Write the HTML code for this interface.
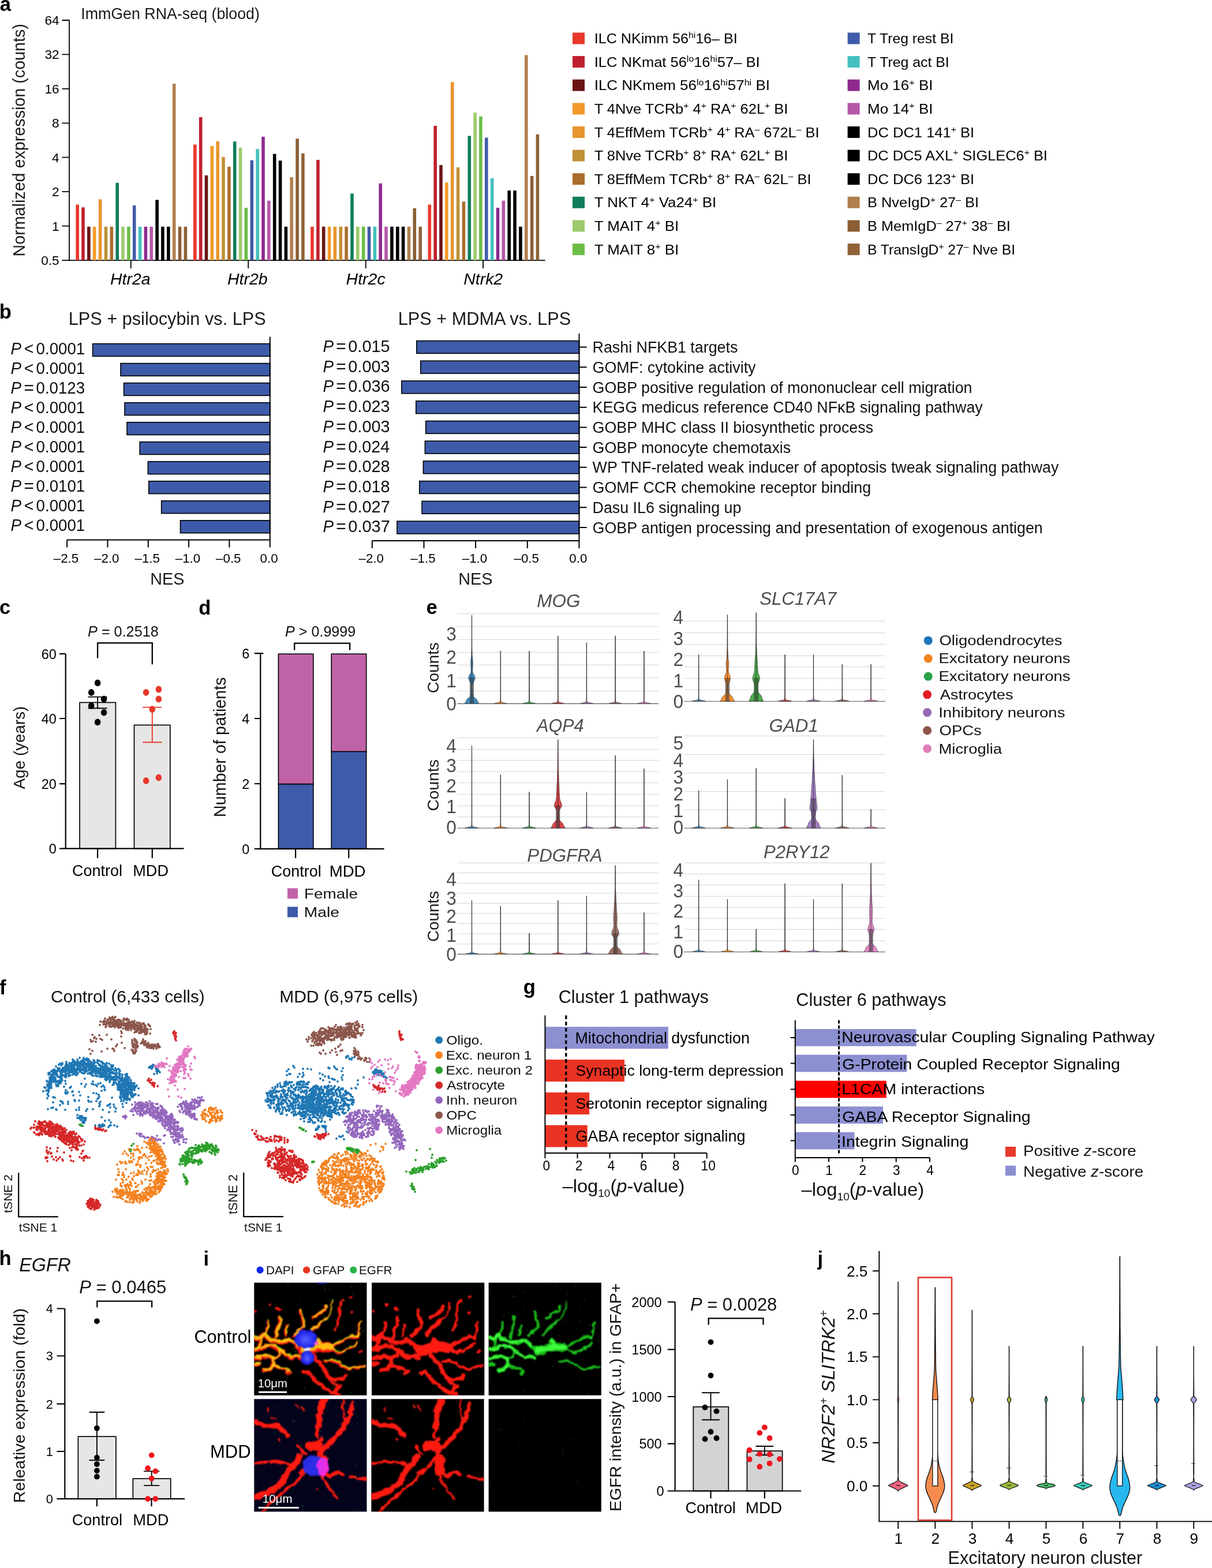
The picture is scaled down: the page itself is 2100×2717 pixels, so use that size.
<!DOCTYPE html><html><head><meta charset="utf-8"><title>Figure</title>
<style>html,body{margin:0;padding:0;background:#fff}svg{display:block}text{font-family:"Liberation Sans",Arial,Helvetica,sans-serif}</style></head><body>
<svg width="2100" height="2717" viewBox="0 0 2100 2717">
<rect width="2100" height="2717" fill="#fff"/>
<g id="pa">
<text x="-0.3" y="19.3" font-size="34.6" font-weight="bold">a</text>
<text x="140.2" y="33.2" font-size="26.8" fill="#1a1a1a">ImmGen RNA-seq (blood)</text>
<path d="M120 35V451.1H944.6M107.4 35H120M107.4 94.4H120M107.4 153.8H120M107.4 213.3H120M107.4 272.7H120M107.4 332.2H120M107.4 391.7H120M107.4 451.1H120M226.8 451.1V465.1M430.2 451.1V465.1M633.7 451.1V465.1M837 451.1V465.1" stroke="#000" stroke-width="1.8" fill="none"/>
<text x="102.6" y="43" font-size="22.6" text-anchor="end">64</text>
<text x="102.6" y="102.4" font-size="22.6" text-anchor="end">32</text>
<text x="102.6" y="161.8" font-size="22.6" text-anchor="end">16</text>
<text x="102.6" y="221.3" font-size="22.6" text-anchor="end">8</text>
<text x="102.6" y="280.7" font-size="22.6" text-anchor="end">4</text>
<text x="102.6" y="340.2" font-size="22.6" text-anchor="end">2</text>
<text x="102.6" y="399.7" font-size="22.6" text-anchor="end">1</text>
<text x="102.6" y="459.1" font-size="22.6" text-anchor="end">0.5</text>
<text transform="translate(42.7 444.5) rotate(-90)" font-size="28.7" fill="#1a1a1a">Normalized expression (counts)</text>
<text x="191.1" y="493.2" font-size="28.4" font-style="italic">Htr2a</text>
<text x="393.9" y="493.2" font-size="28.5" font-style="italic">Htr2b</text>
<text x="599.6" y="493.2" font-size="28.5" font-style="italic">Htr2c</text>
<text x="803.3" y="493.2" font-size="28.4" font-style="italic">Ntrk2</text>
<rect x="131.4" y="354.6" width="5.6" height="96.5" fill="#E8392B"/>
<rect x="141.2" y="359.3" width="5.6" height="91.8" fill="#C0202E"/>
<rect x="151.1" y="392.8" width="5.6" height="58.3" fill="#6B1414"/>
<rect x="160.9" y="392.8" width="5.6" height="58.3" fill="#F39A2B"/>
<rect x="170.8" y="345.4" width="5.6" height="105.7" fill="#E8952E"/>
<rect x="180.7" y="392.8" width="5.6" height="58.3" fill="#C09035"/>
<rect x="190.5" y="392.8" width="5.6" height="58.3" fill="#A96D2C"/>
<rect x="200.4" y="316.8" width="5.6" height="134.3" fill="#0F7D5B"/>
<rect x="210.2" y="392.8" width="5.6" height="58.3" fill="#9CCB6B"/>
<rect x="220.1" y="392.8" width="5.6" height="58.3" fill="#6BBD45"/>
<rect x="229.9" y="356" width="5.6" height="95.1" fill="#3F5BA9"/>
<rect x="239.8" y="392.8" width="5.6" height="58.3" fill="#45BFBF"/>
<rect x="249.6" y="392.8" width="5.6" height="58.3" fill="#8E2A8E"/>
<rect x="259.4" y="392.8" width="5.6" height="58.3" fill="#B757A8"/>
<rect x="269.3" y="346.4" width="5.6" height="104.7" fill="#000"/>
<rect x="279.1" y="392.8" width="5.6" height="58.3" fill="#000"/>
<rect x="289" y="392.8" width="5.6" height="58.3" fill="#000"/>
<rect x="298.9" y="145" width="5.6" height="306.1" fill="#B07F4D"/>
<rect x="308.7" y="392.8" width="5.6" height="58.3" fill="#8B5E34"/>
<rect x="318.6" y="392.8" width="5.6" height="58.3" fill="#8F6238"/>
<rect x="335" y="250.5" width="5.6" height="200.6" fill="#E8392B"/>
<rect x="344.9" y="203" width="5.6" height="248.1" fill="#C0202E"/>
<rect x="354.7" y="303.9" width="5.6" height="147.2" fill="#6B1414"/>
<rect x="364.6" y="252.8" width="5.6" height="198.3" fill="#F39A2B"/>
<rect x="374.4" y="244.8" width="5.6" height="206.3" fill="#E8952E"/>
<rect x="384.2" y="272" width="5.6" height="179.1" fill="#C09035"/>
<rect x="394.1" y="289" width="5.6" height="162.1" fill="#A96D2C"/>
<rect x="403.9" y="245.2" width="5.6" height="205.9" fill="#0F7D5B"/>
<rect x="413.8" y="255.8" width="5.6" height="195.3" fill="#9CCB6B"/>
<rect x="423.6" y="360" width="5.6" height="91.1" fill="#6BBD45"/>
<rect x="433.5" y="277.7" width="5.6" height="173.4" fill="#3F5BA9"/>
<rect x="443.4" y="258.1" width="5.6" height="193" fill="#45BFBF"/>
<rect x="453.2" y="236.9" width="5.6" height="214.2" fill="#8E2A8E"/>
<rect x="463" y="347.7" width="5.6" height="103.4" fill="#B757A8"/>
<rect x="472.9" y="266.7" width="5.6" height="184.4" fill="#000"/>
<rect x="482.8" y="278.3" width="5.6" height="172.8" fill="#000"/>
<rect x="492.6" y="392.8" width="5.6" height="58.3" fill="#000"/>
<rect x="502.4" y="306.9" width="5.6" height="144.2" fill="#B07F4D"/>
<rect x="512.3" y="240.2" width="5.6" height="210.9" fill="#8B5E34"/>
<rect x="522.1" y="265.7" width="5.6" height="185.4" fill="#8F6238"/>
<rect x="538.2" y="392.8" width="5.6" height="58.3" fill="#E8392B"/>
<rect x="548.1" y="277" width="5.6" height="174.1" fill="#C0202E"/>
<rect x="557.9" y="392.8" width="5.6" height="58.3" fill="#6B1414"/>
<rect x="567.8" y="392.8" width="5.6" height="58.3" fill="#F39A2B"/>
<rect x="577.6" y="392.8" width="5.6" height="58.3" fill="#E8952E"/>
<rect x="587.5" y="392.8" width="5.6" height="58.3" fill="#C09035"/>
<rect x="597.3" y="392.8" width="5.6" height="58.3" fill="#A96D2C"/>
<rect x="607.2" y="335.4" width="5.6" height="115.7" fill="#0F7D5B"/>
<rect x="617" y="392.8" width="5.6" height="58.3" fill="#9CCB6B"/>
<rect x="626.9" y="392.8" width="5.6" height="58.3" fill="#6BBD45"/>
<rect x="636.7" y="392.8" width="5.6" height="58.3" fill="#3F5BA9"/>
<rect x="646.6" y="392.8" width="5.6" height="58.3" fill="#45BFBF"/>
<rect x="656.4" y="317.8" width="5.6" height="133.3" fill="#8E2A8E"/>
<rect x="666.2" y="392.8" width="5.6" height="58.3" fill="#B757A8"/>
<rect x="676.1" y="392.8" width="5.6" height="58.3" fill="#000"/>
<rect x="686" y="392.8" width="5.6" height="58.3" fill="#000"/>
<rect x="695.8" y="392.8" width="5.6" height="58.3" fill="#000"/>
<rect x="705.7" y="392.8" width="5.6" height="58.3" fill="#B07F4D"/>
<rect x="715.5" y="360.9" width="5.6" height="90.2" fill="#8B5E34"/>
<rect x="725.4" y="392.8" width="5.6" height="58.3" fill="#8F6238"/>
<rect x="741.5" y="354.6" width="5.6" height="96.5" fill="#E8392B"/>
<rect x="751.4" y="218" width="5.6" height="233.1" fill="#C0202E"/>
<rect x="761.2" y="286" width="5.6" height="165.1" fill="#6B1414"/>
<rect x="771" y="316.2" width="5.6" height="134.9" fill="#F39A2B"/>
<rect x="780.9" y="142" width="5.6" height="309.1" fill="#E8952E"/>
<rect x="790.8" y="290" width="5.6" height="161.1" fill="#C09035"/>
<rect x="800.6" y="349.3" width="5.6" height="101.8" fill="#A96D2C"/>
<rect x="810.5" y="235.5" width="5.6" height="215.6" fill="#0F7D5B"/>
<rect x="820.3" y="195.1" width="5.6" height="256" fill="#9CCB6B"/>
<rect x="830.1" y="201.7" width="5.6" height="249.4" fill="#6BBD45"/>
<rect x="840" y="238.5" width="5.6" height="212.6" fill="#3F5BA9"/>
<rect x="849.9" y="308.9" width="5.6" height="142.2" fill="#45BFBF"/>
<rect x="859.7" y="360" width="5.6" height="91.1" fill="#8E2A8E"/>
<rect x="869.5" y="347.7" width="5.6" height="103.4" fill="#B757A8"/>
<rect x="879.4" y="330.1" width="5.6" height="121" fill="#000"/>
<rect x="889.2" y="330.1" width="5.6" height="121" fill="#000"/>
<rect x="899.1" y="392.8" width="5.6" height="58.3" fill="#000"/>
<rect x="909" y="95.5" width="5.6" height="355.6" fill="#B07F4D"/>
<rect x="918.8" y="304.9" width="5.6" height="146.2" fill="#8B5E34"/>
<rect x="928.6" y="232.9" width="5.6" height="218.2" fill="#8F6238"/>
<rect x="992" y="56.5" width="21" height="20" fill="#E8392B"/>
<text x="1029.7" y="75.1" font-size="24.4" textLength="248.1" lengthAdjust="spacingAndGlyphs">ILC NKimm 56<tspan font-size="15.1" dy="-8.8">hi</tspan><tspan dy="8.8">​</tspan>16– BI</text>
<rect x="1468.6" y="56.5" width="21" height="20" fill="#3F5BA9"/>
<text x="1503" y="75.1" font-size="24.4" textLength="149.3" lengthAdjust="spacingAndGlyphs">T Treg rest BI</text>
<rect x="992" y="97.1" width="21" height="20" fill="#C0202E"/>
<text x="1029.7" y="115.7" font-size="24.4" textLength="286.9" lengthAdjust="spacingAndGlyphs">ILC NKmat 56<tspan font-size="15.1" dy="-8.8">lo</tspan><tspan dy="8.8">​</tspan>16<tspan font-size="15.1" dy="-8.8">hi</tspan><tspan dy="8.8">​</tspan>57– BI</text>
<rect x="1468.6" y="97.1" width="21" height="20" fill="#45BFBF"/>
<text x="1503" y="115.7" font-size="24.4" textLength="141.7" lengthAdjust="spacingAndGlyphs">T Treg act BI</text>
<rect x="992" y="137.7" width="21" height="20" fill="#6B1414"/>
<text x="1029.7" y="156.3" font-size="24.4" textLength="304.2" lengthAdjust="spacingAndGlyphs">ILC NKmem 56<tspan font-size="15.1" dy="-8.8">lo</tspan><tspan dy="8.8">​</tspan>16<tspan font-size="15.1" dy="-8.8">hi</tspan><tspan dy="8.8">​</tspan>57<tspan font-size="15.1" dy="-8.8">hi</tspan><tspan dy="8.8">​</tspan> BI</text>
<rect x="1468.6" y="137.7" width="21" height="20" fill="#8E2A8E"/>
<text x="1503" y="156.3" font-size="24.4" textLength="113.5" lengthAdjust="spacingAndGlyphs">Mo 16<tspan font-size="15.1" dy="-8.8">+</tspan><tspan dy="8.8">​</tspan> BI</text>
<rect x="992" y="178.4" width="21" height="20" fill="#F39A2B"/>
<text x="1029.7" y="197" font-size="24.4" textLength="335.7" lengthAdjust="spacingAndGlyphs">T 4Nve TCRb<tspan font-size="15.1" dy="-8.8">+</tspan><tspan dy="8.8">​</tspan> 4<tspan font-size="15.1" dy="-8.8">+</tspan><tspan dy="8.8">​</tspan> RA<tspan font-size="15.1" dy="-8.8">+</tspan><tspan dy="8.8">​</tspan> 62L<tspan font-size="15.1" dy="-8.8">+</tspan><tspan dy="8.8">​</tspan> BI</text>
<rect x="1468.6" y="178.4" width="21" height="20" fill="#B757A8"/>
<text x="1503" y="197" font-size="24.4" textLength="113.5" lengthAdjust="spacingAndGlyphs">Mo 14<tspan font-size="15.1" dy="-8.8">+</tspan><tspan dy="8.8">​</tspan> BI</text>
<rect x="992" y="219" width="21" height="20" fill="#E8952E"/>
<text x="1029.7" y="237.6" font-size="24.4" textLength="389.8" lengthAdjust="spacingAndGlyphs">T 4EffMem TCRb<tspan font-size="15.1" dy="-8.8">+</tspan><tspan dy="8.8">​</tspan> 4<tspan font-size="15.1" dy="-8.8">+</tspan><tspan dy="8.8">​</tspan> RA<tspan font-size="15.1" dy="-8.8">–</tspan><tspan dy="8.8">​</tspan> 672L<tspan font-size="15.1" dy="-8.8">–</tspan><tspan dy="8.8">​</tspan> BI</text>
<rect x="1468.6" y="219" width="21" height="20" fill="#000"/>
<text x="1503" y="237.6" font-size="24.4" textLength="185.2" lengthAdjust="spacingAndGlyphs">DC DC1 141<tspan font-size="15.1" dy="-8.8">+</tspan><tspan dy="8.8">​</tspan> BI</text>
<rect x="992" y="259.6" width="21" height="20" fill="#C09035"/>
<text x="1029.7" y="278.2" font-size="24.4" textLength="335.7" lengthAdjust="spacingAndGlyphs">T 8Nve TCRb<tspan font-size="15.1" dy="-8.8">+</tspan><tspan dy="8.8">​</tspan> 8<tspan font-size="15.1" dy="-8.8">+</tspan><tspan dy="8.8">​</tspan> RA<tspan font-size="15.1" dy="-8.8">+</tspan><tspan dy="8.8">​</tspan> 62L<tspan font-size="15.1" dy="-8.8">+</tspan><tspan dy="8.8">​</tspan> BI</text>
<rect x="1468.6" y="259.6" width="21" height="20" fill="#000"/>
<text x="1503" y="278.2" font-size="24.4" textLength="311.9" lengthAdjust="spacingAndGlyphs">DC DC5 AXL<tspan font-size="15.1" dy="-8.8">+</tspan><tspan dy="8.8">​</tspan> SIGLEC6<tspan font-size="15.1" dy="-8.8">+</tspan><tspan dy="8.8">​</tspan> BI</text>
<rect x="992" y="300.2" width="21" height="20" fill="#A96D2C"/>
<text x="1029.7" y="318.8" font-size="24.4" textLength="375.8" lengthAdjust="spacingAndGlyphs">T 8EffMem TCRb<tspan font-size="15.1" dy="-8.8">+</tspan><tspan dy="8.8">​</tspan> 8<tspan font-size="15.1" dy="-8.8">+</tspan><tspan dy="8.8">​</tspan> RA<tspan font-size="15.1" dy="-8.8">–</tspan><tspan dy="8.8">​</tspan> 62L<tspan font-size="15.1" dy="-8.8">–</tspan><tspan dy="8.8">​</tspan> BI</text>
<rect x="1468.6" y="300.2" width="21" height="20" fill="#000"/>
<text x="1503" y="318.8" font-size="24.4" textLength="185.2" lengthAdjust="spacingAndGlyphs">DC DC6 123<tspan font-size="15.1" dy="-8.8">+</tspan><tspan dy="8.8">​</tspan> BI</text>
<rect x="992" y="340.8" width="21" height="20" fill="#0F7D5B"/>
<text x="1029.7" y="359.4" font-size="24.4" textLength="211.6" lengthAdjust="spacingAndGlyphs">T NKT 4<tspan font-size="15.1" dy="-8.8">+</tspan><tspan dy="8.8">​</tspan> Va24<tspan font-size="15.1" dy="-8.8">+</tspan><tspan dy="8.8">​</tspan> BI</text>
<rect x="1468.6" y="340.8" width="21" height="20" fill="#B07F4D"/>
<text x="1503" y="359.4" font-size="24.4" textLength="193.1" lengthAdjust="spacingAndGlyphs">B NveIgD<tspan font-size="15.1" dy="-8.8">+</tspan><tspan dy="8.8">​</tspan> 27<tspan font-size="15.1" dy="-8.8">–</tspan><tspan dy="8.8">​</tspan> BI</text>
<rect x="992" y="381.5" width="21" height="20" fill="#9CCB6B"/>
<text x="1029.7" y="400.1" font-size="24.4" textLength="146.6" lengthAdjust="spacingAndGlyphs">T MAIT 4<tspan font-size="15.1" dy="-8.8">+</tspan><tspan dy="8.8">​</tspan> BI</text>
<rect x="1468.6" y="381.5" width="21" height="20" fill="#8B5E34"/>
<text x="1503" y="400.1" font-size="24.4" textLength="247.9" lengthAdjust="spacingAndGlyphs">B MemIgD<tspan font-size="15.1" dy="-8.8">–</tspan><tspan dy="8.8">​</tspan> 27<tspan font-size="15.1" dy="-8.8">+</tspan><tspan dy="8.8">​</tspan> 38<tspan font-size="15.1" dy="-8.8">–</tspan><tspan dy="8.8">​</tspan> BI</text>
<rect x="992" y="422.1" width="21" height="20" fill="#6BBD45"/>
<text x="1029.7" y="440.7" font-size="24.4" textLength="146.6" lengthAdjust="spacingAndGlyphs">T MAIT 8<tspan font-size="15.1" dy="-8.8">+</tspan><tspan dy="8.8">​</tspan> BI</text>
<rect x="1468.6" y="422.1" width="21" height="20" fill="#8F6238"/>
<text x="1503" y="440.7" font-size="24.4" textLength="256.1" lengthAdjust="spacingAndGlyphs">B TransIgD<tspan font-size="15.1" dy="-8.8">+</tspan><tspan dy="8.8">​</tspan> 27<tspan font-size="15.1" dy="-8.8">–</tspan><tspan dy="8.8">​</tspan> Nve BI</text>
</g>
<g id="pb">
<text x="-1.2" y="551.7" font-size="34.6" font-weight="bold">b</text>
<text x="118.7" y="563" font-size="30.7" fill="#1a1a1a">LPS + psilocybin vs. LPS</text>
<rect x="160.6" y="595.6" width="307.2" height="21.8" fill="#3E5BA9" stroke="#000" stroke-width="1.6"/>
<rect x="209" y="629.6" width="258.8" height="21.8" fill="#3E5BA9" stroke="#000" stroke-width="1.6"/>
<rect x="214.6" y="663.6" width="253.2" height="21.8" fill="#3E5BA9" stroke="#000" stroke-width="1.6"/>
<rect x="216" y="697.7" width="251.8" height="21.8" fill="#3E5BA9" stroke="#000" stroke-width="1.6"/>
<rect x="220" y="731.7" width="247.8" height="21.8" fill="#3E5BA9" stroke="#000" stroke-width="1.6"/>
<rect x="242.2" y="765.7" width="225.6" height="21.8" fill="#3E5BA9" stroke="#000" stroke-width="1.6"/>
<rect x="256.4" y="799.7" width="211.4" height="21.8" fill="#3E5BA9" stroke="#000" stroke-width="1.6"/>
<rect x="257.8" y="833.7" width="210" height="21.8" fill="#3E5BA9" stroke="#000" stroke-width="1.6"/>
<rect x="279.7" y="867.8" width="188.1" height="21.8" fill="#3E5BA9" stroke="#000" stroke-width="1.6"/>
<rect x="312.5" y="901.8" width="155.3" height="21.8" fill="#3E5BA9" stroke="#000" stroke-width="1.6"/>
<path d="M467.8 583.6V935.6M116.1 935.6H467.8M116.1 935.6V948.6M186.4 935.6V948.6M256.8 935.6V948.6M327.1 935.6V948.6M397.4 935.6V948.6M467.8 935.6V948.6" stroke="#000" stroke-width="2" fill="none"/>
<text x="114.5" y="974.8" font-size="22.3" text-anchor="middle">–2.5</text>
<text x="184.8" y="974.8" font-size="22.3" text-anchor="middle">–2.0</text>
<text x="255.2" y="974.8" font-size="22.3" text-anchor="middle">–1.5</text>
<text x="325.5" y="974.8" font-size="22.3" text-anchor="middle">–1.0</text>
<text x="395.8" y="974.8" font-size="22.3" text-anchor="middle">–0.5</text>
<text x="466.1" y="974.8" font-size="22.3" text-anchor="middle">0.0</text>
<text x="260.2" y="1012.6" font-size="28.8" fill="#1a1a1a">NES</text>
<text transform="translate(18.6 613.5) scale(0.947 1)" font-size="29.5" fill="#111" font-style="italic">P</text>
<text transform="translate(41.7 613.5) scale(0.965 1)" font-size="29.5" fill="#111">&lt;</text>
<text transform="translate(62.6 613.5) scale(0.938 1)" font-size="29.5" fill="#111">0.0001</text>
<text transform="translate(18.6 647.5) scale(0.947 1)" font-size="29.5" fill="#111" font-style="italic">P</text>
<text transform="translate(41.7 647.5) scale(0.965 1)" font-size="29.5" fill="#111">&lt;</text>
<text transform="translate(62.6 647.5) scale(0.938 1)" font-size="29.5" fill="#111">0.0001</text>
<text transform="translate(18.6 681.5) scale(0.947 1)" font-size="29.5" fill="#111" font-style="italic">P</text>
<text transform="translate(41.4 681.5) scale(1.013 1)" font-size="29.5" fill="#111">=</text>
<text transform="translate(62.6 681.5) scale(0.936 1)" font-size="29.5" fill="#111">0.0123</text>
<text transform="translate(18.6 715.6) scale(0.947 1)" font-size="29.5" fill="#111" font-style="italic">P</text>
<text transform="translate(41.7 715.6) scale(0.965 1)" font-size="29.5" fill="#111">&lt;</text>
<text transform="translate(62.6 715.6) scale(0.938 1)" font-size="29.5" fill="#111">0.0001</text>
<text transform="translate(18.6 749.6) scale(0.947 1)" font-size="29.5" fill="#111" font-style="italic">P</text>
<text transform="translate(41.7 749.6) scale(0.965 1)" font-size="29.5" fill="#111">&lt;</text>
<text transform="translate(62.6 749.6) scale(0.938 1)" font-size="29.5" fill="#111">0.0001</text>
<text transform="translate(18.6 783.6) scale(0.947 1)" font-size="29.5" fill="#111" font-style="italic">P</text>
<text transform="translate(41.7 783.6) scale(0.965 1)" font-size="29.5" fill="#111">&lt;</text>
<text transform="translate(62.6 783.6) scale(0.938 1)" font-size="29.5" fill="#111">0.0001</text>
<text transform="translate(18.6 817.6) scale(0.947 1)" font-size="29.5" fill="#111" font-style="italic">P</text>
<text transform="translate(41.7 817.6) scale(0.965 1)" font-size="29.5" fill="#111">&lt;</text>
<text transform="translate(62.6 817.6) scale(0.938 1)" font-size="29.5" fill="#111">0.0001</text>
<text transform="translate(18.6 851.6) scale(0.947 1)" font-size="29.5" fill="#111" font-style="italic">P</text>
<text transform="translate(41.4 851.6) scale(1.013 1)" font-size="29.5" fill="#111">=</text>
<text transform="translate(62.6 851.6) scale(0.938 1)" font-size="29.5" fill="#111">0.0101</text>
<text transform="translate(18.6 885.7) scale(0.947 1)" font-size="29.5" fill="#111" font-style="italic">P</text>
<text transform="translate(41.7 885.7) scale(0.965 1)" font-size="29.5" fill="#111">&lt;</text>
<text transform="translate(62.6 885.7) scale(0.938 1)" font-size="29.5" fill="#111">0.0001</text>
<text transform="translate(18.6 919.7) scale(0.947 1)" font-size="29.5" fill="#111" font-style="italic">P</text>
<text transform="translate(41.7 919.7) scale(0.965 1)" font-size="29.5" fill="#111">&lt;</text>
<text transform="translate(62.6 919.7) scale(0.938 1)" font-size="29.5" fill="#111">0.0001</text>
<text x="689.8" y="563" font-size="30.7" fill="#1a1a1a">LPS + MDMA vs. LPS</text>
<rect x="721.8" y="590.6" width="281.7" height="21.8" fill="#3E5BA9" stroke="#000" stroke-width="1.6"/>
<text x="1026.6" y="611.1" font-size="26.8" fill="#111">Rashi NFKB1 targets</text>
<text transform="translate(559.4 609.9) scale(0.947 1)" font-size="29.5" fill="#111" font-style="italic">P</text>
<text transform="translate(582.2 609.9) scale(1.013 1)" font-size="29.5" fill="#111">=</text>
<text transform="translate(603.3 609.9) scale(0.979 1)" font-size="29.5" fill="#111">0.015</text>
<rect x="728.8" y="625.3" width="274.7" height="21.8" fill="#3E5BA9" stroke="#000" stroke-width="1.6"/>
<text x="1026.6" y="645.8" font-size="26.8" fill="#111">GOMF: cytokine activity</text>
<text transform="translate(559.4 644.6) scale(0.947 1)" font-size="29.5" fill="#111" font-style="italic">P</text>
<text transform="translate(582.2 644.6) scale(1.013 1)" font-size="29.5" fill="#111">=</text>
<text transform="translate(603.3 644.6) scale(0.979 1)" font-size="29.5" fill="#111">0.003</text>
<rect x="695.9" y="660" width="307.6" height="21.8" fill="#3E5BA9" stroke="#000" stroke-width="1.6"/>
<text x="1026.6" y="680.5" font-size="26.8" fill="#111">GOBP positive regulation of mononuclear cell migration</text>
<text transform="translate(559.4 679.3) scale(0.947 1)" font-size="29.5" fill="#111" font-style="italic">P</text>
<text transform="translate(582.2 679.3) scale(1.013 1)" font-size="29.5" fill="#111">=</text>
<text transform="translate(603.3 679.3) scale(0.979 1)" font-size="29.5" fill="#111">0.036</text>
<rect x="720.8" y="694.8" width="282.7" height="21.8" fill="#3E5BA9" stroke="#000" stroke-width="1.6"/>
<text x="1026.6" y="715.3" font-size="26.8" fill="#111">KEGG medicus reference CD40 NFκB signaling pathway</text>
<text transform="translate(559.4 714.1) scale(0.947 1)" font-size="29.5" fill="#111" font-style="italic">P</text>
<text transform="translate(582.2 714.1) scale(1.013 1)" font-size="29.5" fill="#111">=</text>
<text transform="translate(603.3 714.1) scale(0.979 1)" font-size="29.5" fill="#111">0.023</text>
<rect x="737.7" y="729.5" width="265.8" height="21.8" fill="#3E5BA9" stroke="#000" stroke-width="1.6"/>
<text x="1026.6" y="750" font-size="26.8" fill="#111">GOBP MHC class II biosynthetic process</text>
<text transform="translate(559.4 748.8) scale(0.947 1)" font-size="29.5" fill="#111" font-style="italic">P</text>
<text transform="translate(582.2 748.8) scale(1.013 1)" font-size="29.5" fill="#111">=</text>
<text transform="translate(603.3 748.8) scale(0.979 1)" font-size="29.5" fill="#111">0.003</text>
<rect x="736.4" y="764.2" width="267.1" height="21.8" fill="#3E5BA9" stroke="#000" stroke-width="1.6"/>
<text x="1026.6" y="784.7" font-size="26.8" fill="#111">GOBP monocyte chemotaxis</text>
<text transform="translate(559.4 783.5) scale(0.947 1)" font-size="29.5" fill="#111" font-style="italic">P</text>
<text transform="translate(582.2 783.5) scale(1.013 1)" font-size="29.5" fill="#111">=</text>
<text transform="translate(603.3 783.5) scale(0.975 1)" font-size="29.5" fill="#111">0.024</text>
<rect x="733.4" y="798.9" width="270.1" height="21.8" fill="#3E5BA9" stroke="#000" stroke-width="1.6"/>
<text x="1026.6" y="819.4" font-size="26.8" fill="#111">WP TNF-related weak inducer of apoptosis tweak signaling pathway</text>
<text transform="translate(559.4 818.2) scale(0.947 1)" font-size="29.5" fill="#111" font-style="italic">P</text>
<text transform="translate(582.2 818.2) scale(1.013 1)" font-size="29.5" fill="#111">=</text>
<text transform="translate(603.3 818.2) scale(0.979 1)" font-size="29.5" fill="#111">0.028</text>
<rect x="726.8" y="833.6" width="276.7" height="21.8" fill="#3E5BA9" stroke="#000" stroke-width="1.6"/>
<text x="1026.6" y="854.1" font-size="26.8" fill="#111">GOMF CCR chemokine receptor binding</text>
<text transform="translate(559.4 852.9) scale(0.947 1)" font-size="29.5" fill="#111" font-style="italic">P</text>
<text transform="translate(582.2 852.9) scale(1.013 1)" font-size="29.5" fill="#111">=</text>
<text transform="translate(603.3 852.9) scale(0.979 1)" font-size="29.5" fill="#111">0.018</text>
<rect x="731.1" y="868.4" width="272.4" height="21.8" fill="#3E5BA9" stroke="#000" stroke-width="1.6"/>
<text x="1026.6" y="888.9" font-size="26.8" fill="#111">Dasu IL6 signaling up</text>
<text transform="translate(559.4 887.7) scale(0.947 1)" font-size="29.5" fill="#111" font-style="italic">P</text>
<text transform="translate(582.2 887.7) scale(1.013 1)" font-size="29.5" fill="#111">=</text>
<text transform="translate(603.3 887.7) scale(0.983 1)" font-size="29.5" fill="#111">0.027</text>
<rect x="688" y="903.1" width="315.5" height="21.8" fill="#3E5BA9" stroke="#000" stroke-width="1.6"/>
<text x="1026.6" y="923.6" font-size="26.8" fill="#111">GOBP antigen processing and presentation of exogenous antigen</text>
<text transform="translate(559.4 922.4) scale(0.947 1)" font-size="29.5" fill="#111" font-style="italic">P</text>
<text transform="translate(582.2 922.4) scale(1.013 1)" font-size="29.5" fill="#111">=</text>
<text transform="translate(603.3 922.4) scale(0.983 1)" font-size="29.5" fill="#111">0.037</text>
<path d="M1003.5 578V937M644.8 937H1003.5M644.8 937V950M734.5 937V950M824.1 937V950M913.8 937V950M1003.4 937V950M1003.5 601.5H1016.7M1003.5 636.2H1016.7M1003.5 670.9H1016.7M1003.5 705.7H1016.7M1003.5 740.4H1016.7M1003.5 775.1H1016.7M1003.5 809.8H1016.7M1003.5 844.5H1016.7M1003.5 879.3H1016.7M1003.5 914H1016.7" stroke="#000" stroke-width="2" fill="none"/>
<text x="643.2" y="974.8" font-size="22.3" text-anchor="middle">–2.0</text>
<text x="732.9" y="974.8" font-size="22.3" text-anchor="middle">–1.5</text>
<text x="822.5" y="974.8" font-size="22.3" text-anchor="middle">–1.0</text>
<text x="912.2" y="974.8" font-size="22.3" text-anchor="middle">–0.5</text>
<text x="1001.8" y="974.8" font-size="22.3" text-anchor="middle">0.0</text>
<text x="794.2" y="1012.6" font-size="28.8" fill="#1a1a1a">NES</text>
</g>
<g id="pc">
<text x="-1" y="1064" font-size="34.6" font-weight="bold">c</text>
<rect x="138.1" y="1217.3" width="62.3" height="253.1" fill="#E6E6E6" stroke="#000" stroke-width="1.7"/>
<rect x="232.5" y="1256.4" width="62.3" height="214" fill="#E6E6E6" stroke="#000" stroke-width="1.7"/>
<text x="97.8" y="1141.5" font-size="23.5" text-anchor="end">60</text>
<text x="97.8" y="1253.6" font-size="23.5" text-anchor="end">40</text>
<text x="97.8" y="1366.7" font-size="23.5" text-anchor="end">20</text>
<text x="97.8" y="1479" font-size="23.5" text-anchor="end">0</text>
<path d="M113.7 1132.9V1470.4M103.1 1470.4H318.6M169.1 1470.4V1487M263.8 1470.4V1487M103.1 1132.9H113.7M103.1 1245H113.7M103.1 1358.1H113.7M103.1 1470.4H113.7" stroke="#000" stroke-width="2.2" fill="none"/>
<path d="M169.1 1207.6V1227.3M152.6 1207.6H185.6M152.6 1227.3H185.6" stroke="#000" stroke-width="1.9" fill="none"/>
<ellipse cx="169.1" cy="1183.4" rx="5.3" ry="5.9"/>
<ellipse cx="158.2" cy="1199.9" rx="5.3" ry="5.9"/>
<ellipse cx="180.1" cy="1211.3" rx="5.3" ry="5.9"/>
<ellipse cx="158.2" cy="1222.9" rx="5.3" ry="5.9"/>
<ellipse cx="180.1" cy="1234.6" rx="5.3" ry="5.9"/>
<ellipse cx="169.1" cy="1251.3" rx="5.3" ry="5.9"/>
<path d="M263.8 1225.6V1286.3M247.3 1225.6H280.3M247.3 1286.3H280.3" stroke="#E8392B" stroke-width="1.9" fill="none"/>
<ellipse cx="253.1" cy="1199.9" rx="5.3" ry="5.9" fill="#E8392B"/>
<ellipse cx="274.9" cy="1194.5" rx="5.3" ry="5.9" fill="#E8392B"/>
<ellipse cx="274.9" cy="1211.3" rx="5.3" ry="5.9" fill="#E8392B"/>
<ellipse cx="263.8" cy="1229" rx="5.3" ry="5.9" fill="#E8392B"/>
<ellipse cx="253.1" cy="1352.8" rx="5.3" ry="5.9" fill="#E8392B"/>
<ellipse cx="274.9" cy="1347.4" rx="5.3" ry="5.9" fill="#E8392B"/>
<path d="M169.1 1140.4V1114.2H263.8V1151.3" stroke="#000" stroke-width="2.3" fill="none"/>
<text transform="translate(152.1 1102.8) scale(1.000 1)" font-size="25.2" fill="#111"><tspan font-style="italic">P</tspan> = 0.2518</text>
<text x="124.9" y="1517.8" font-size="27">Control</text>
<text x="230.3" y="1517.8" font-size="27.1">MDD</text>
<text transform="translate(43.2 1367.3) rotate(-90)" font-size="27.8" fill="#111">Age (years)</text>
</g><g id="pd">
<text x="344.2" y="1064.5" font-size="34.6" font-weight="bold">d</text>
<rect x="482.4" y="1358.5" width="60.5" height="112.4" fill="#3E5BA9" stroke="#000" stroke-width="1.6"/>
<rect x="482.4" y="1133.2" width="60.5" height="225.3" fill="#C062A7" stroke="#000" stroke-width="1.6"/>
<rect x="574.2" y="1302.3" width="60.5" height="168.6" fill="#3E5BA9" stroke="#000" stroke-width="1.6"/>
<rect x="574.2" y="1133.2" width="60.5" height="169.1" fill="#C062A7" stroke="#000" stroke-width="1.6"/>
<text x="432.4" y="1140.7" font-size="23.5" text-anchor="end">6</text>
<text x="432.4" y="1253.6" font-size="23.5" text-anchor="end">4</text>
<text x="432.4" y="1366.6" font-size="23.5" text-anchor="end">2</text>
<text x="432.4" y="1479.5" font-size="23.5" text-anchor="end">0</text>
<path d="M451.3 1132.1V1470.9M451.3 1132.1h5M440.8 1470.9H665.5M512.1 1470.9V1487.1M604.2 1470.9V1487.1M440.8 1132.1H451.3M440.8 1245H451.3M440.8 1358H451.3M440.8 1470.9H451.3" stroke="#000" stroke-width="2.2" fill="none"/>
<path d="M510.2 1126.4V1114.6H606.1V1126.4" stroke="#000" stroke-width="2.3" fill="none"/>
<text transform="translate(494.1 1102.9) scale(1.000 1)" font-size="25.1" fill="#111"><tspan font-style="italic">P</tspan> &gt; 0.9999</text>
<text x="469.7" y="1519" font-size="27">Control</text>
<text x="570.7" y="1519" font-size="27.6">MDD</text>
<text transform="translate(390.5 1415.9) rotate(-90)" font-size="28.7" fill="#111">Number of patients</text>
<rect x="498" y="1539.2" width="18" height="18" fill="#C062A7"/>
<rect x="498" y="1571.3" width="18" height="18" fill="#3E5BA9"/>
<text transform="translate(526.9 1556.8) scale(1.164 1)" font-size="24" fill="#111">Female</text>
<text transform="translate(526.8 1588.7) scale(1.174 1)" font-size="24" fill="#111">Male</text>
</g>
<g id="pe">
<text x="738.6" y="1064.4" font-size="34.6" font-weight="bold">e</text>
<path d="M792.5 1063.3H1141M792.5 1085.7H1141M792.5 1108.4H1141M792.5 1130.3H1141M792.5 1152.4H1141M792.5 1174.6H1141M792.5 1197.3H1141" stroke="#C9C9C9" stroke-width="0.8" fill="none"/>
<text x="930.2" y="1051.8" font-size="31.5" fill="#4D4D4D" font-style="italic">MOG</text>
<text transform="translate(773.3 1109.9) scale(0.93 1)" font-size="34" fill="#4D4D4D">3</text>
<text transform="translate(773.3 1150.3) scale(0.93 1)" font-size="34" fill="#4D4D4D">2</text>
<text transform="translate(773.3 1190.7) scale(0.93 1)" font-size="34" fill="#4D4D4D">1</text>
<text transform="translate(773.3 1231.1) scale(0.93 1)" font-size="34" fill="#4D4D4D">0</text>
<text transform="translate(760.2 1201.3) rotate(-90)" font-size="27.9" fill="#1a1a1a">Counts</text>
<path d="M829.7 1219.4 829.3 1218 828.3 1216.5 827.3 1215.1 826.9 1213.7 825.7 1211.5 823 1209.4 820.2 1207.2 819.1 1205.1 819 1200.5 818.9 1195.9 818.8 1191.4 818.8 1186.8 819.4 1183.8 821 1180.7 822.6 1177.6 823.2 1174.6 822.6 1171.8 821 1169 819.4 1166.2 818.8 1163.4 818.9 1159.5 819.1 1155.5 819.2 1151.6 819.3 1147.7 819.1 1144.1 818.7 1140.6 818.3 1137 818.1 1133.4 818.1 1128.8 817.9 1124.3 817.8 1119.7 817.7 1115.1 817.7 1102.8 817.7 1090.5 817.6 1078.2 817.6 1065.9 817.4 1065.9 817.4 1078.2 817.3 1090.5 817.3 1102.8 817.2 1115.1 817.2 1119.7 817 1124.3 816.9 1128.8 816.8 1133.4 816.7 1137 816.2 1140.6 815.8 1144.1 815.7 1147.7 815.7 1151.6 815.9 1155.5 816.1 1159.5 816.2 1163.4 815.5 1166.2 814 1169 812.4 1171.8 811.8 1174.6 812.4 1177.6 814 1180.7 815.5 1183.8 816.2 1186.8 816.1 1191.4 816.1 1195.9 816 1200.5 815.9 1205.1 814.8 1207.2 812 1209.4 809.2 1211.5 808.1 1213.7 807.7 1215.1 806.7 1216.5 805.7 1218 805.2 1219.4Z" fill="#1F77B4" fill-opacity="0.85" stroke="#222" stroke-width="0.6" stroke-linejoin="round"/>
<rect x="814.4" y="1174.6" width="6.2" height="44.8" fill="#333" fill-opacity="0.4" stroke="#222" stroke-width="0.6"/>
<path d="M817.5 1219.4L817.5 1065.9" stroke="#222" stroke-width="0.7" fill="none"/>
<path d="M879.3 1219.4 878 1218.9 876.7 1218.4 873.1 1217.7 869.6 1217.1 868.7 1216.1 867.7 1215.2 867.7 1212.1 867.6 1209 867.5 1168.6 867.4 1128.2 867.1 1128.2 867.1 1168.6 867 1209 866.9 1212.1 866.8 1215.2 865.9 1216.1 864.9 1217.1 861.4 1217.7 857.9 1218.4 856.6 1218.9 855.3 1219.4Z" fill="#FF7F0E" fill-opacity="0.85" stroke="#222" stroke-width="0.6" stroke-linejoin="round"/>
<path d="M867.3 1219.4L867.3 1128.2" stroke="#222" stroke-width="0.7" fill="none"/>
<path d="M929.1 1219.4 927.7 1218.9 926.4 1218.4 922.9 1217.7 919.4 1217.1 918.5 1216.1 917.5 1215.2 917.5 1212.1 917.4 1209 917.3 1168.6 917.2 1128.2 916.9 1128.2 916.8 1168.6 916.7 1209 916.7 1212.1 916.6 1215.2 915.7 1216.1 914.7 1217.1 911.2 1217.7 907.7 1218.4 906.4 1218.9 905.1 1219.4Z" fill="#2CA02C" fill-opacity="0.85" stroke="#222" stroke-width="0.6" stroke-linejoin="round"/>
<path d="M917.1 1219.4L917.1 1128.2" stroke="#222" stroke-width="0.7" fill="none"/>
<path d="M978.8 1219.4 977.5 1218.9 976.2 1218.4 972.7 1217.7 969.2 1217.1 968.3 1216.1 967.3 1215.2 967.2 1212.1 967.2 1209 967.1 1155.4 967 1101.8 966.7 1101.8 966.6 1155.4 966.5 1209 966.5 1212.1 966.4 1215.2 965.4 1216.1 964.5 1217.1 961 1217.7 957.5 1218.4 956.2 1218.9 954.9 1219.4Z" fill="#D62728" fill-opacity="0.85" stroke="#222" stroke-width="0.6" stroke-linejoin="round"/>
<path d="M966.8 1219.4L966.8 1101.8" stroke="#222" stroke-width="0.7" fill="none"/>
<path d="M1028.4 1219.4 1027.1 1218.9 1025.8 1218.4 1022.2 1217.7 1018.7 1217.1 1017.8 1216.1 1016.8 1215.2 1016.8 1212.1 1016.7 1209 1016.6 1161.3 1016.5 1113.6 1016.2 1113.6 1016.2 1161.3 1016.1 1209 1016 1212.1 1015.9 1215.2 1015 1216.1 1014 1217.1 1010.5 1217.7 1007 1218.4 1005.7 1218.9 1004.4 1219.4Z" fill="#9467BD" fill-opacity="0.85" stroke="#222" stroke-width="0.6" stroke-linejoin="round"/>
<path d="M1016.4 1219.4L1016.4 1113.6" stroke="#222" stroke-width="0.7" fill="none"/>
<path d="M1078.2 1219.4 1076.8 1218.9 1075.5 1218.4 1072 1217.7 1068.5 1217.1 1067.6 1216.1 1066.6 1215.2 1066.6 1212.1 1066.5 1209 1066.4 1155.4 1066.3 1101.8 1066 1101.8 1065.9 1155.4 1065.8 1209 1065.8 1212.1 1065.7 1215.2 1064.8 1216.1 1063.8 1217.1 1060.3 1217.7 1056.8 1218.4 1055.5 1218.9 1054.2 1219.4Z" fill="#8C564B" fill-opacity="0.85" stroke="#222" stroke-width="0.6" stroke-linejoin="round"/>
<path d="M1066.2 1219.4L1066.2 1101.8" stroke="#222" stroke-width="0.7" fill="none"/>
<path d="M1127.9 1219.4 1126.6 1218.9 1125.3 1218.4 1121.8 1217.7 1118.3 1217.1 1117.4 1216.1 1116.4 1215.2 1116.3 1212.1 1116.3 1209 1116.2 1168.6 1116.1 1128.2 1115.8 1128.2 1115.7 1168.6 1115.6 1209 1115.6 1212.1 1115.5 1215.2 1114.5 1216.1 1113.6 1217.1 1110.1 1217.7 1106.6 1218.4 1105.3 1218.9 1104 1219.4Z" fill="#E377C2" fill-opacity="0.85" stroke="#222" stroke-width="0.6" stroke-linejoin="round"/>
<path d="M1115.9 1219.4L1115.9 1128.2" stroke="#222" stroke-width="0.7" fill="none"/>
<path d="M792.5 1219.4L1141 1219.4" stroke="#555" stroke-width="1.1" fill="none"/>
<path d="M1185.6 1076.3H1534.1M1185.6 1096.4H1534.1M1185.6 1116.4H1534.1M1185.6 1136.3H1534.1M1185.6 1155.5H1534.1M1185.6 1175.6H1534.1M1185.6 1195.4H1534.1" stroke="#C9C9C9" stroke-width="0.8" fill="none"/>
<text x="1316.3" y="1048.2" font-size="31.1" fill="#4D4D4D" font-style="italic">SLC17A7</text>
<text transform="translate(1166.5 1080.7) scale(0.93 1)" font-size="34" fill="#4D4D4D">4</text>
<text transform="translate(1166.5 1117.7) scale(0.93 1)" font-size="34" fill="#4D4D4D">3</text>
<text transform="translate(1166.5 1153.7) scale(0.93 1)" font-size="34" fill="#4D4D4D">2</text>
<text transform="translate(1166.5 1190.7) scale(0.93 1)" font-size="34" fill="#4D4D4D">1</text>
<text transform="translate(1166.5 1226.7) scale(0.93 1)" font-size="34" fill="#4D4D4D">0</text>
<path d="M1222.6 1215.2 1221.3 1214.7 1220 1214.2 1216.5 1213.5 1213 1212.9 1212 1212 1211.1 1211.1 1211 1207.9 1211 1204.8 1210.9 1169.5 1210.8 1134.2 1210.5 1134.2 1210.4 1169.5 1210.3 1204.8 1210.2 1207.9 1210.2 1211.1 1209.2 1212 1208.3 1212.9 1204.8 1213.5 1201.3 1214.2 1200 1214.7 1198.6 1215.2Z" fill="#1F77B4" fill-opacity="0.85" stroke="#222" stroke-width="0.6" stroke-linejoin="round"/>
<path d="M1210.6 1215.2L1210.6 1134.2" stroke="#222" stroke-width="0.7" fill="none"/>
<path d="M1272.7 1215.2 1272.3 1213.8 1271.2 1212.4 1270.2 1210.9 1269.8 1209.5 1268.7 1207.2 1266 1204.8 1263.4 1202.5 1262.3 1200.1 1262.2 1197.1 1262.1 1194 1262 1190.9 1262 1187.9 1262.5 1184.8 1263.8 1181.7 1265.1 1178.7 1265.6 1175.6 1265.1 1172.2 1263.8 1168.7 1262.5 1165.3 1262 1161.8 1262.1 1158.7 1262.4 1155.7 1262.7 1152.6 1262.8 1149.5 1262.6 1146.4 1262.1 1143.3 1261.7 1140.2 1261.5 1137 1261.4 1132.5 1261.1 1127.9 1260.9 1123.4 1260.8 1118.8 1260.8 1105.4 1260.7 1092.1 1260.6 1078.7 1260.5 1065.4 1260.3 1065.4 1260.3 1078.7 1260.2 1092.1 1260.1 1105.4 1260 1118.8 1259.9 1123.4 1259.7 1127.9 1259.5 1132.5 1259.4 1137 1259.2 1140.2 1258.7 1143.3 1258.3 1146.4 1258.1 1149.5 1258.2 1152.6 1258.5 1155.7 1258.7 1158.7 1258.9 1161.8 1258.3 1165.3 1257 1168.7 1255.7 1172.2 1255.2 1175.6 1255.7 1178.7 1257 1181.7 1258.3 1184.8 1258.9 1187.9 1258.8 1190.9 1258.7 1194 1258.6 1197.1 1258.6 1200.1 1257.5 1202.5 1254.8 1204.8 1252.1 1207.2 1251 1209.5 1250.6 1210.9 1249.6 1212.4 1248.6 1213.8 1248.2 1215.2Z" fill="#FF7F0E" fill-opacity="0.85" stroke="#222" stroke-width="0.6" stroke-linejoin="round"/>
<rect x="1257.3" y="1175.6" width="6.2" height="39.6" fill="#333" fill-opacity="0.4" stroke="#222" stroke-width="0.6"/>
<path d="M1260.4 1215.2L1260.4 1065.4" stroke="#222" stroke-width="0.7" fill="none"/>
<path d="M1322.5 1215.2 1322.1 1213.6 1321.3 1212 1320.5 1210.3 1320.1 1208.7 1319.1 1205.8 1316.7 1202.9 1314.3 1199.9 1313.3 1197 1313.3 1194.4 1313.3 1191.8 1313.3 1189.2 1313.3 1186.6 1313.8 1183.8 1314.9 1181.1 1316 1178.4 1316.5 1175.6 1316 1172.5 1314.8 1169.4 1313.6 1166.2 1313.1 1163.1 1313 1159.2 1312.7 1155.3 1312.4 1151.4 1312.3 1147.5 1312.1 1142.9 1311.8 1138.3 1311.4 1133.8 1311.3 1129.2 1311.2 1124.7 1310.9 1120.1 1310.7 1115.5 1310.6 1111 1310.6 1098.7 1310.5 1086.3 1310.4 1074 1310.3 1061.7 1310.1 1061.7 1310.1 1074 1310 1086.3 1309.9 1098.7 1309.8 1111 1309.7 1115.5 1309.5 1120.1 1309.3 1124.7 1309.2 1129.2 1309 1133.8 1308.6 1138.3 1308.3 1142.9 1308.1 1147.5 1308 1151.4 1307.7 1155.3 1307.5 1159.2 1307.3 1163.1 1306.8 1166.2 1305.7 1169.4 1304.5 1172.5 1304 1175.6 1304.4 1178.4 1305.5 1181.1 1306.6 1183.8 1307.1 1186.6 1307.1 1189.2 1307.1 1191.8 1307.1 1194.4 1307.1 1197 1306.1 1199.9 1303.7 1202.9 1301.3 1205.8 1300.3 1208.7 1300 1210.3 1299.1 1212 1298.3 1213.6 1298 1215.2Z" fill="#2CA02C" fill-opacity="0.85" stroke="#222" stroke-width="0.6" stroke-linejoin="round"/>
<rect x="1307.1" y="1175.6" width="6.2" height="39.6" fill="#333" fill-opacity="0.4" stroke="#222" stroke-width="0.6"/>
<path d="M1310.2 1215.2L1310.2 1061.7" stroke="#222" stroke-width="0.7" fill="none"/>
<path d="M1372 1215.2 1370.7 1214.7 1369.4 1214.2 1365.9 1213.5 1362.3 1212.9 1361.4 1212 1360.5 1211.1 1360.4 1207.9 1360.3 1204.8 1360.2 1169.5 1360.1 1134.2 1359.9 1134.2 1359.8 1169.5 1359.7 1204.8 1359.6 1207.9 1359.5 1211.1 1358.6 1212 1357.7 1212.9 1354.1 1213.5 1350.6 1214.2 1349.3 1214.7 1348 1215.2Z" fill="#D62728" fill-opacity="0.85" stroke="#222" stroke-width="0.6" stroke-linejoin="round"/>
<path d="M1360 1215.2L1360 1134.2" stroke="#222" stroke-width="0.7" fill="none"/>
<path d="M1421.5 1215.2 1420.2 1214.7 1418.9 1214.2 1415.4 1213.5 1411.9 1212.9 1410.9 1212 1410 1211.1 1409.9 1207.9 1409.8 1204.8 1409.7 1169.5 1409.7 1134.2 1409.4 1134.2 1409.3 1169.5 1409.2 1204.8 1409.1 1207.9 1409.1 1211.1 1408.1 1212 1407.2 1212.9 1403.7 1213.5 1400.1 1214.2 1398.8 1214.7 1397.5 1215.2Z" fill="#9467BD" fill-opacity="0.85" stroke="#222" stroke-width="0.6" stroke-linejoin="round"/>
<path d="M1409.5 1215.2L1409.5 1134.2" stroke="#222" stroke-width="0.7" fill="none"/>
<path d="M1471.3 1215.2 1470 1214.7 1468.7 1214.2 1465.2 1213.5 1461.7 1212.9 1460.7 1212 1459.8 1211.1 1459.7 1207.9 1459.6 1204.8 1459.5 1178 1459.4 1151.1 1459.2 1151.1 1459.1 1178 1459 1204.8 1458.9 1207.9 1458.8 1211.1 1457.9 1212 1457 1212.9 1453.4 1213.5 1449.9 1214.2 1448.6 1214.7 1447.3 1215.2Z" fill="#8C564B" fill-opacity="0.85" stroke="#222" stroke-width="0.6" stroke-linejoin="round"/>
<path d="M1459.3 1215.2L1459.3 1151.1" stroke="#222" stroke-width="0.7" fill="none"/>
<path d="M1521.1 1215.2 1519.8 1214.7 1518.5 1214.2 1515 1213.5 1511.4 1212.9 1510.5 1212 1509.6 1211.1 1509.5 1207.9 1509.4 1204.8 1509.3 1178 1509.2 1151.1 1509 1151.1 1508.9 1178 1508.8 1204.8 1508.7 1207.9 1508.6 1211.1 1507.7 1212 1506.8 1212.9 1503.2 1213.5 1499.7 1214.2 1498.4 1214.7 1497.1 1215.2Z" fill="#E377C2" fill-opacity="0.85" stroke="#222" stroke-width="0.6" stroke-linejoin="round"/>
<path d="M1509.1 1215.2L1509.1 1151.1" stroke="#222" stroke-width="0.7" fill="none"/>
<path d="M1185.6 1215.2L1534.1 1215.2" stroke="#555" stroke-width="1.1" fill="none"/>
<path d="M792.5 1278.6H1141M792.5 1298.4H1141M792.5 1317.4H1141M792.5 1337.2H1141M792.5 1356.5H1141M792.5 1376.3H1141M792.5 1396.4H1141M792.5 1415.4H1141" stroke="#C9C9C9" stroke-width="0.8" fill="none"/>
<text x="930" y="1268.2" font-size="30.6" fill="#4D4D4D" font-style="italic">AQP4</text>
<text transform="translate(773.3 1303.8) scale(0.93 1)" font-size="34" fill="#4D4D4D">4</text>
<text transform="translate(773.3 1337.7) scale(0.93 1)" font-size="34" fill="#4D4D4D">3</text>
<text transform="translate(773.3 1372.9) scale(0.93 1)" font-size="34" fill="#4D4D4D">2</text>
<text transform="translate(773.3 1409.4) scale(0.93 1)" font-size="34" fill="#4D4D4D">1</text>
<text transform="translate(773.3 1444.6) scale(0.93 1)" font-size="34" fill="#4D4D4D">0</text>
<text transform="translate(760.2 1405.6) rotate(-90)" font-size="28.3" fill="#1a1a1a">Counts</text>
<path d="M829.5 1435 828.2 1434.5 826.9 1433.9 823.4 1433.3 819.8 1432.6 818.9 1431.7 818 1430.8 817.9 1427.7 817.8 1424.5 817.7 1358.3 817.6 1292.1 817.4 1292.1 817.3 1358.3 817.2 1424.5 817.1 1427.7 817 1430.8 816.1 1431.7 815.1 1432.6 811.6 1433.3 808.1 1433.9 806.8 1434.5 805.5 1435Z" fill="#1F77B4" fill-opacity="0.85" stroke="#222" stroke-width="0.6" stroke-linejoin="round"/>
<path d="M817.5 1435L817.5 1292.1" stroke="#222" stroke-width="0.7" fill="none"/>
<path d="M879.3 1435 878 1434.5 876.7 1433.9 873.1 1433.3 869.6 1432.6 868.7 1431.7 867.7 1430.8 867.7 1427.7 867.6 1424.5 867.5 1383.5 867.4 1342.4 867.1 1342.4 867.1 1383.5 867 1424.5 866.9 1427.7 866.8 1430.8 865.9 1431.7 864.9 1432.6 861.4 1433.3 857.9 1433.9 856.6 1434.5 855.3 1435Z" fill="#FF7F0E" fill-opacity="0.85" stroke="#222" stroke-width="0.6" stroke-linejoin="round"/>
<path d="M867.3 1435L867.3 1342.4" stroke="#222" stroke-width="0.7" fill="none"/>
<path d="M929.1 1435 927.7 1434.5 926.4 1433.9 922.9 1433.3 919.4 1432.6 918.5 1431.7 917.5 1430.8 917.5 1427.7 917.4 1424.5 917.3 1398.4 917.2 1372.2 916.9 1372.2 916.8 1398.4 916.7 1424.5 916.7 1427.7 916.6 1430.8 915.7 1431.7 914.7 1432.6 911.2 1433.3 907.7 1433.9 906.4 1434.5 905.1 1435Z" fill="#2CA02C" fill-opacity="0.85" stroke="#222" stroke-width="0.6" stroke-linejoin="round"/>
<path d="M917.1 1435L917.1 1372.2" stroke="#222" stroke-width="0.7" fill="none"/>
<path d="M979.1 1435 978.7 1433.5 977.7 1432.1 976.7 1430.7 976.2 1429.2 975.1 1426.8 972.5 1424.3 969.8 1421.8 968.7 1419.3 968.6 1416.1 968.5 1412.8 968.5 1409.6 968.4 1406.3 969.1 1403.7 970.9 1401.1 972.6 1398.5 973.4 1395.9 972.8 1392.6 971.5 1389.4 970.3 1386.1 969.7 1382.8 969.6 1378.9 969.3 1375 969 1371.1 968.9 1367.2 968.8 1362.6 968.5 1358.1 968.3 1353.5 968.2 1349 968 1343.1 967.8 1337.2 967.5 1331.4 967.4 1325.5 967.3 1314.5 967.2 1303.6 967 1292.7 967 1281.7 966.7 1281.7 966.7 1292.7 966.5 1303.6 966.4 1314.5 966.3 1325.5 966.2 1331.4 965.9 1337.2 965.7 1343.1 965.5 1349 965.4 1353.5 965.2 1358.1 964.9 1362.6 964.8 1367.2 964.6 1371.1 964.4 1375 964.1 1378.9 964 1382.8 963.4 1386.1 962.2 1389.4 960.9 1392.6 960.3 1395.9 961.1 1398.5 962.8 1401.1 964.6 1403.7 965.3 1406.3 965.2 1409.6 965.2 1412.8 965.1 1416.1 965 1419.3 963.9 1421.8 961.2 1424.3 958.6 1426.8 957.5 1429.2 957 1430.7 956 1432.1 955 1433.5 954.6 1435Z" fill="#D62728" fill-opacity="0.85" stroke="#222" stroke-width="0.6" stroke-linejoin="round"/>
<rect x="963.7" y="1396.4" width="6.2" height="38.6" fill="#333" fill-opacity="0.4" stroke="#222" stroke-width="0.6"/>
<path d="M966.8 1435L966.8 1281.7" stroke="#222" stroke-width="0.7" fill="none"/>
<path d="M1028.4 1435 1027.1 1434.5 1025.8 1433.9 1022.2 1433.3 1018.7 1432.6 1017.8 1431.7 1016.8 1430.8 1016.8 1427.7 1016.7 1424.5 1016.6 1398.4 1016.5 1372.2 1016.2 1372.2 1016.2 1398.4 1016.1 1424.5 1016 1427.7 1015.9 1430.8 1015 1431.7 1014 1432.6 1010.5 1433.3 1007 1433.9 1005.7 1434.5 1004.4 1435Z" fill="#9467BD" fill-opacity="0.85" stroke="#222" stroke-width="0.6" stroke-linejoin="round"/>
<path d="M1016.4 1435L1016.4 1372.2" stroke="#222" stroke-width="0.7" fill="none"/>
<path d="M1078.2 1435 1076.8 1434.5 1075.5 1433.9 1072 1433.3 1068.5 1432.6 1067.6 1431.7 1066.6 1430.8 1066.6 1427.7 1066.5 1424.5 1066.4 1366.8 1066.3 1309.1 1066 1309.1 1065.9 1366.8 1065.8 1424.5 1065.8 1427.7 1065.7 1430.8 1064.8 1431.7 1063.8 1432.6 1060.3 1433.3 1056.8 1433.9 1055.5 1434.5 1054.2 1435Z" fill="#8C564B" fill-opacity="0.85" stroke="#222" stroke-width="0.6" stroke-linejoin="round"/>
<path d="M1066.2 1435L1066.2 1309.1" stroke="#222" stroke-width="0.7" fill="none"/>
<path d="M1127.9 1435 1126.6 1434.5 1125.3 1433.9 1121.8 1433.3 1118.3 1432.6 1117.4 1431.7 1116.4 1430.8 1116.3 1427.7 1116.3 1424.5 1116.2 1378.3 1116.1 1332 1115.8 1332 1115.7 1378.3 1115.6 1424.5 1115.6 1427.7 1115.5 1430.8 1114.5 1431.7 1113.6 1432.6 1110.1 1433.3 1106.6 1433.9 1105.3 1434.5 1104 1435Z" fill="#E377C2" fill-opacity="0.85" stroke="#222" stroke-width="0.6" stroke-linejoin="round"/>
<path d="M1115.9 1435L1115.9 1332" stroke="#222" stroke-width="0.7" fill="none"/>
<path d="M792.5 1435L1141 1435" stroke="#555" stroke-width="1.1" fill="none"/>
<path d="M1185.6 1275.2H1534.1M1185.6 1307.5H1534.1M1185.6 1339.3H1534.1M1185.6 1371.4H1534.1M1185.6 1403.4H1534.1" stroke="#C9C9C9" stroke-width="0.8" fill="none"/>
<text x="1332.6" y="1268.2" font-size="31.3" fill="#4D4D4D" font-style="italic">GAD1</text>
<text transform="translate(1166.5 1299.4) scale(0.93 1)" font-size="34" fill="#4D4D4D">5</text>
<text transform="translate(1166.5 1328.6) scale(0.93 1)" font-size="34" fill="#4D4D4D">4</text>
<text transform="translate(1166.5 1357.8) scale(0.93 1)" font-size="34" fill="#4D4D4D">3</text>
<text transform="translate(1166.5 1387.2) scale(0.93 1)" font-size="34" fill="#4D4D4D">2</text>
<text transform="translate(1166.5 1415.9) scale(0.93 1)" font-size="34" fill="#4D4D4D">1</text>
<text transform="translate(1166.5 1445.1) scale(0.93 1)" font-size="34" fill="#4D4D4D">0</text>
<path d="M1222.6 1435 1221.3 1434.5 1220 1433.9 1216.5 1433.3 1213 1432.6 1212 1431.7 1211.1 1430.8 1211 1427.7 1211 1424.5 1210.9 1397.2 1210.8 1369.8 1210.5 1369.8 1210.4 1397.2 1210.3 1424.5 1210.2 1427.7 1210.2 1430.8 1209.2 1431.7 1208.3 1432.6 1204.8 1433.3 1201.3 1433.9 1200 1434.5 1198.6 1435Z" fill="#1F77B4" fill-opacity="0.85" stroke="#222" stroke-width="0.6" stroke-linejoin="round"/>
<path d="M1210.6 1435L1210.6 1369.8" stroke="#222" stroke-width="0.7" fill="none"/>
<path d="M1272.4 1435 1271.1 1434.5 1269.8 1433.9 1266.3 1433.3 1262.8 1432.6 1261.8 1431.7 1260.9 1430.8 1260.8 1427.7 1260.7 1424.5 1260.6 1387.7 1260.6 1350.8 1260.3 1350.8 1260.2 1387.7 1260.1 1424.5 1260 1427.7 1260 1430.8 1259 1431.7 1258.1 1432.6 1254.6 1433.3 1251 1433.9 1249.7 1434.5 1248.4 1435Z" fill="#FF7F0E" fill-opacity="0.85" stroke="#222" stroke-width="0.6" stroke-linejoin="round"/>
<path d="M1260.4 1435L1260.4 1350.8" stroke="#222" stroke-width="0.7" fill="none"/>
<path d="M1322.2 1435 1320.9 1434.5 1319.6 1433.9 1316.1 1433.3 1312.6 1432.6 1311.6 1431.7 1310.7 1430.8 1310.6 1427.7 1310.5 1424.5 1310.4 1377.9 1310.3 1331.2 1310.1 1331.2 1310 1377.9 1309.9 1424.5 1309.8 1427.7 1309.7 1430.8 1308.8 1431.7 1307.9 1432.6 1304.3 1433.3 1300.8 1433.9 1299.5 1434.5 1298.2 1435Z" fill="#2CA02C" fill-opacity="0.85" stroke="#222" stroke-width="0.6" stroke-linejoin="round"/>
<path d="M1310.2 1435L1310.2 1331.2" stroke="#222" stroke-width="0.7" fill="none"/>
<path d="M1372 1435 1370.7 1434.5 1369.4 1433.9 1365.9 1433.3 1362.3 1432.6 1361.4 1431.7 1360.5 1430.8 1360.4 1427.7 1360.3 1424.5 1360.2 1404 1360.1 1383.4 1359.9 1383.4 1359.8 1404 1359.7 1424.5 1359.6 1427.7 1359.5 1430.8 1358.6 1431.7 1357.7 1432.6 1354.1 1433.3 1350.6 1433.9 1349.3 1434.5 1348 1435Z" fill="#D62728" fill-opacity="0.85" stroke="#222" stroke-width="0.6" stroke-linejoin="round"/>
<path d="M1360 1435L1360 1383.4" stroke="#222" stroke-width="0.7" fill="none"/>
<path d="M1421.8 1435 1421.4 1433.3 1420.3 1431.7 1419.3 1430.1 1418.9 1428.5 1418 1425.7 1415.7 1422.9 1413.3 1420.1 1412.4 1417.3 1412.5 1415.2 1412.8 1413.1 1413.1 1411 1413.2 1408.9 1413.6 1406.8 1414.6 1404.6 1415.6 1402.5 1416 1400.3 1415.8 1397.2 1415.3 1394.2 1414.7 1391.1 1414.5 1388.1 1414.2 1383.5 1413.7 1378.9 1413.1 1374.4 1412.9 1369.8 1412.7 1364.6 1412.3 1359.4 1411.8 1354.2 1411.6 1349 1411.5 1343.1 1411.1 1337.2 1410.7 1331.4 1410.6 1325.5 1410.5 1320.3 1410.2 1315.1 1410 1309.9 1409.9 1304.6 1409.9 1298.8 1409.8 1292.9 1409.7 1287 1409.6 1281.2 1409.4 1281.2 1409.4 1287 1409.3 1292.9 1409.2 1298.8 1409.1 1304.6 1409 1309.9 1408.8 1315.1 1408.6 1320.3 1408.5 1325.5 1408.3 1331.4 1408 1337.2 1407.6 1343.1 1407.4 1349 1407.2 1354.2 1406.8 1359.4 1406.3 1364.6 1406.1 1369.8 1405.9 1374.4 1405.4 1378.9 1404.8 1383.5 1404.6 1388.1 1404.3 1391.1 1403.8 1394.2 1403.2 1397.2 1403 1400.3 1403.4 1402.5 1404.4 1404.6 1405.5 1406.8 1405.9 1408.9 1406 1411 1406.3 1413.1 1406.5 1415.2 1406.7 1417.3 1405.7 1420.1 1403.4 1422.9 1401.1 1425.7 1400.1 1428.5 1399.7 1430.1 1398.7 1431.7 1397.7 1433.3 1397.3 1435Z" fill="#9467BD" fill-opacity="0.85" stroke="#222" stroke-width="0.6" stroke-linejoin="round"/>
<rect x="1406.4" y="1384.1" width="6.2" height="50.8" fill="#333" fill-opacity="0.4" stroke="#222" stroke-width="0.6"/>
<path d="M1406.4 1403.4L1412.6 1403.4" stroke="#222" stroke-width="0.6" fill="none"/>
<path d="M1409.5 1435L1409.5 1281.2" stroke="#222" stroke-width="0.7" fill="none"/>
<path d="M1471.3 1435 1470 1434.5 1468.7 1433.9 1465.2 1433.3 1461.7 1432.6 1460.7 1431.7 1459.8 1430.8 1459.7 1427.7 1459.6 1424.5 1459.5 1383.9 1459.4 1343.2 1459.2 1343.2 1459.1 1383.9 1459 1424.5 1458.9 1427.7 1458.8 1430.8 1457.9 1431.7 1457 1432.6 1453.4 1433.3 1449.9 1433.9 1448.6 1434.5 1447.3 1435Z" fill="#8C564B" fill-opacity="0.85" stroke="#222" stroke-width="0.6" stroke-linejoin="round"/>
<path d="M1459.3 1435L1459.3 1343.2" stroke="#222" stroke-width="0.7" fill="none"/>
<path d="M1521.1 1435 1519.8 1434.5 1518.5 1433.9 1515 1433.3 1511.4 1432.6 1510.5 1431.7 1509.6 1430.8 1509.5 1427.7 1509.4 1424.5 1509.3 1413.3 1509.2 1402.1 1509 1402.1 1508.9 1413.3 1508.8 1424.5 1508.7 1427.7 1508.6 1430.8 1507.7 1431.7 1506.8 1432.6 1503.2 1433.3 1499.7 1433.9 1498.4 1434.5 1497.1 1435Z" fill="#E377C2" fill-opacity="0.85" stroke="#222" stroke-width="0.6" stroke-linejoin="round"/>
<path d="M1509.1 1435L1509.1 1402.1" stroke="#222" stroke-width="0.7" fill="none"/>
<path d="M1185.6 1435L1534.1 1435" stroke="#555" stroke-width="1.1" fill="none"/>
<path d="M792.5 1495.2H1141M792.5 1512.4H1141M792.5 1530.4H1141M792.5 1547.8H1141M792.5 1565.3H1141M792.5 1582.8H1141M792.5 1600.5H1141M792.5 1618H1141M792.5 1635.7H1141" stroke="#C9C9C9" stroke-width="0.8" fill="none"/>
<text x="913.3" y="1493.4" font-size="31.3" fill="#4D4D4D" font-style="italic">PDGFRA</text>
<text transform="translate(773.3 1535) scale(0.93 1)" font-size="34" fill="#4D4D4D">4</text>
<text transform="translate(773.3 1568.1) scale(0.93 1)" font-size="34" fill="#4D4D4D">3</text>
<text transform="translate(773.3 1599.4) scale(0.93 1)" font-size="34" fill="#4D4D4D">2</text>
<text transform="translate(773.3 1632) scale(0.93 1)" font-size="34" fill="#4D4D4D">1</text>
<text transform="translate(773.3 1664.6) scale(0.93 1)" font-size="34" fill="#4D4D4D">0</text>
<text transform="translate(760.2 1632.1) rotate(-90)" font-size="27.9" fill="#1a1a1a">Counts</text>
<path d="M829.5 1653.4 828.2 1652.9 826.9 1652.4 823.4 1651.7 819.8 1651.1 818.9 1650.2 818 1649.2 817.9 1646.1 817.8 1643 817.7 1601.7 817.6 1560.4 817.4 1560.4 817.3 1601.7 817.2 1643 817.1 1646.1 817 1649.2 816.1 1650.2 815.1 1651.1 811.6 1651.7 808.1 1652.4 806.8 1652.9 805.5 1653.4Z" fill="#1F77B4" fill-opacity="0.85" stroke="#222" stroke-width="0.6" stroke-linejoin="round"/>
<path d="M817.5 1653.4L817.5 1560.4" stroke="#222" stroke-width="0.7" fill="none"/>
<path d="M879.3 1653.4 878 1652.9 876.7 1652.4 873.1 1651.7 869.6 1651.1 868.7 1650.2 867.7 1649.2 867.7 1646.1 867.6 1643 867.5 1606.5 867.4 1570 867.1 1570 867.1 1606.5 867 1643 866.9 1646.1 866.8 1649.2 865.9 1650.2 864.9 1651.1 861.4 1651.7 857.9 1652.4 856.6 1652.9 855.3 1653.4Z" fill="#FF7F0E" fill-opacity="0.85" stroke="#222" stroke-width="0.6" stroke-linejoin="round"/>
<path d="M867.3 1653.4L867.3 1570" stroke="#222" stroke-width="0.7" fill="none"/>
<path d="M929.1 1653.4 927.7 1652.9 926.4 1652.4 922.9 1651.7 919.4 1651.1 918.5 1650.2 917.5 1649.2 917.5 1646.1 917.4 1643 917.3 1630.1 917.2 1617.2 916.9 1617.2 916.8 1630.1 916.7 1643 916.7 1646.1 916.6 1649.2 915.7 1650.2 914.7 1651.1 911.2 1651.7 907.7 1652.4 906.4 1652.9 905.1 1653.4Z" fill="#2CA02C" fill-opacity="0.85" stroke="#222" stroke-width="0.6" stroke-linejoin="round"/>
<path d="M917.1 1653.4L917.1 1617.2" stroke="#222" stroke-width="0.7" fill="none"/>
<path d="M978.8 1653.4 977.5 1652.9 976.2 1652.4 972.7 1651.7 969.2 1651.1 968.3 1650.2 967.3 1649.2 967.2 1646.1 967.2 1643 967.1 1601.7 967 1560.4 966.7 1560.4 966.6 1601.7 966.5 1643 966.5 1646.1 966.4 1649.2 965.4 1650.2 964.5 1651.1 961 1651.7 957.5 1652.4 956.2 1652.9 954.9 1653.4Z" fill="#D62728" fill-opacity="0.85" stroke="#222" stroke-width="0.6" stroke-linejoin="round"/>
<path d="M966.8 1653.4L966.8 1560.4" stroke="#222" stroke-width="0.7" fill="none"/>
<path d="M1028.4 1653.4 1027.1 1652.9 1025.8 1652.4 1022.2 1651.7 1018.7 1651.1 1017.8 1650.2 1016.8 1649.2 1016.8 1646.1 1016.7 1643 1016.6 1597.6 1016.5 1552.3 1016.2 1552.3 1016.2 1597.6 1016.1 1643 1016 1646.1 1015.9 1649.2 1015 1650.2 1014 1651.1 1010.5 1651.7 1007 1652.4 1005.7 1652.9 1004.4 1653.4Z" fill="#9467BD" fill-opacity="0.85" stroke="#222" stroke-width="0.6" stroke-linejoin="round"/>
<path d="M1016.4 1653.4L1016.4 1552.3" stroke="#222" stroke-width="0.7" fill="none"/>
<path d="M1078.4 1653.4 1078 1652 1077 1650.5 1076 1649.1 1075.5 1647.7 1074.4 1645.5 1071.8 1643.2 1069.1 1641 1068 1638.8 1067.9 1635.9 1067.9 1633.1 1067.8 1630.2 1067.7 1627.3 1068.4 1625 1070.1 1622.7 1071.7 1620.3 1072.4 1618 1071.9 1614.4 1070.6 1610.9 1069.3 1607.4 1068.8 1603.9 1068.8 1600.6 1069 1597.4 1069.2 1594.1 1069.3 1590.9 1069.1 1586.9 1068.8 1583 1068.4 1579.1 1068.2 1575.2 1068.1 1570 1067.7 1564.8 1067.4 1559.6 1067.2 1554.4 1067.1 1549.8 1066.9 1545.2 1066.6 1540.7 1066.6 1536.1 1066.5 1527 1066.4 1517.9 1066.3 1508.7 1066.3 1499.6 1066.1 1499.6 1066 1508.7 1065.9 1517.9 1065.8 1527 1065.8 1536.1 1065.7 1540.7 1065.4 1545.2 1065.2 1549.8 1065.1 1554.4 1065 1559.6 1064.6 1564.8 1064.2 1570 1064.1 1575.2 1063.9 1579.1 1063.6 1583 1063.2 1586.9 1063 1590.9 1063.1 1594.1 1063.3 1597.4 1063.5 1600.6 1063.6 1603.9 1063 1607.4 1061.7 1610.9 1060.4 1614.4 1059.9 1618 1060.6 1620.3 1062.3 1622.7 1063.9 1625 1064.6 1627.3 1064.6 1630.2 1064.5 1633.1 1064.4 1635.9 1064.3 1638.8 1063.2 1641 1060.6 1643.2 1057.9 1645.5 1056.8 1647.7 1056.4 1649.1 1055.3 1650.5 1054.3 1652 1053.9 1653.4Z" fill="#8C564B" fill-opacity="0.85" stroke="#222" stroke-width="0.6" stroke-linejoin="round"/>
<rect x="1063.1" y="1618" width="6.2" height="35.5" fill="#333" fill-opacity="0.4" stroke="#222" stroke-width="0.6"/>
<path d="M1066.2 1653.4L1066.2 1499.6" stroke="#222" stroke-width="0.7" fill="none"/>
<path d="M1127.9 1653.4 1126.6 1652.9 1125.3 1652.4 1121.8 1651.7 1118.3 1651.1 1117.4 1650.2 1116.4 1649.2 1116.3 1646.1 1116.3 1643 1116.2 1612.1 1116.1 1581.2 1115.8 1581.2 1115.7 1612.1 1115.6 1643 1115.6 1646.1 1115.5 1649.2 1114.5 1650.2 1113.6 1651.1 1110.1 1651.7 1106.6 1652.4 1105.3 1652.9 1104 1653.4Z" fill="#E377C2" fill-opacity="0.85" stroke="#222" stroke-width="0.6" stroke-linejoin="round"/>
<path d="M1115.9 1653.4L1115.9 1581.2" stroke="#222" stroke-width="0.7" fill="none"/>
<path d="M792.5 1653.4L1141 1653.4" stroke="#555" stroke-width="1.1" fill="none"/>
<path d="M1185.6 1495.2H1534.1M1185.6 1514.5H1534.1M1185.6 1533.5H1534.1M1185.6 1553.1H1534.1M1185.6 1572.3H1534.1M1185.6 1591.4H1534.1M1185.6 1610.4H1534.1M1185.6 1630.2H1534.1" stroke="#C9C9C9" stroke-width="0.8" fill="none"/>
<text x="1322.9" y="1487.4" font-size="31.1" fill="#4D4D4D" font-style="italic">P2RY12</text>
<text transform="translate(1166.5 1518.6) scale(0.93 1)" font-size="34" fill="#4D4D4D">4</text>
<text transform="translate(1166.5 1554.6) scale(0.93 1)" font-size="34" fill="#4D4D4D">3</text>
<text transform="translate(1166.5 1590.3) scale(0.93 1)" font-size="34" fill="#4D4D4D">2</text>
<text transform="translate(1166.5 1625.5) scale(0.93 1)" font-size="34" fill="#4D4D4D">1</text>
<text transform="translate(1166.5 1659.9) scale(0.93 1)" font-size="34" fill="#4D4D4D">0</text>
<path d="M1222.6 1649.5 1221.3 1649 1220 1648.5 1216.5 1647.8 1213 1647.2 1212 1646.2 1211.1 1645.3 1211 1642.2 1211 1639.1 1210.9 1581.9 1210.8 1524.6 1210.5 1524.6 1210.4 1581.9 1210.3 1639.1 1210.2 1642.2 1210.2 1645.3 1209.2 1646.2 1208.3 1647.2 1204.8 1647.8 1201.3 1648.5 1200 1649 1198.6 1649.5Z" fill="#1F77B4" fill-opacity="0.85" stroke="#222" stroke-width="0.6" stroke-linejoin="round"/>
<path d="M1210.6 1649.5L1210.6 1524.6" stroke="#222" stroke-width="0.7" fill="none"/>
<path d="M1272.4 1649.5 1271.1 1649 1269.8 1648.5 1266.3 1647.8 1262.8 1647.2 1261.8 1646.2 1260.9 1645.3 1260.8 1642.2 1260.7 1639.1 1260.6 1598.7 1260.6 1558.3 1260.3 1558.3 1260.2 1598.7 1260.1 1639.1 1260 1642.2 1260 1645.3 1259 1646.2 1258.1 1647.2 1254.6 1647.8 1251 1648.5 1249.7 1649 1248.4 1649.5Z" fill="#FF7F0E" fill-opacity="0.85" stroke="#222" stroke-width="0.6" stroke-linejoin="round"/>
<path d="M1260.4 1649.5L1260.4 1558.3" stroke="#222" stroke-width="0.7" fill="none"/>
<path d="M1322.2 1649.5 1320.9 1649 1319.6 1648.5 1316.1 1647.8 1312.6 1647.2 1311.6 1646.2 1310.7 1645.3 1310.6 1642.2 1310.5 1639.1 1310.4 1624.5 1310.3 1609.9 1310.1 1609.9 1310 1624.5 1309.9 1639.1 1309.8 1642.2 1309.7 1645.3 1308.8 1646.2 1307.9 1647.2 1304.3 1647.8 1300.8 1648.5 1299.5 1649 1298.2 1649.5Z" fill="#2CA02C" fill-opacity="0.85" stroke="#222" stroke-width="0.6" stroke-linejoin="round"/>
<path d="M1310.2 1649.5L1310.2 1609.9" stroke="#222" stroke-width="0.7" fill="none"/>
<path d="M1372 1649.5 1370.7 1649 1369.4 1648.5 1365.9 1647.8 1362.3 1647.2 1361.4 1646.2 1360.5 1645.3 1360.4 1642.2 1360.3 1639.1 1360.2 1585.1 1360.1 1531.2 1359.9 1531.2 1359.8 1585.1 1359.7 1639.1 1359.6 1642.2 1359.5 1645.3 1358.6 1646.2 1357.7 1647.2 1354.1 1647.8 1350.6 1648.5 1349.3 1649 1348 1649.5Z" fill="#D62728" fill-opacity="0.85" stroke="#222" stroke-width="0.6" stroke-linejoin="round"/>
<path d="M1360 1649.5L1360 1531.2" stroke="#222" stroke-width="0.7" fill="none"/>
<path d="M1421.5 1649.5 1420.2 1649 1418.9 1648.5 1415.4 1647.8 1411.9 1647.2 1410.9 1646.2 1410 1645.3 1409.9 1642.2 1409.8 1639.1 1409.7 1598.7 1409.7 1558.3 1409.4 1558.3 1409.3 1598.7 1409.2 1639.1 1409.1 1642.2 1409.1 1645.3 1408.1 1646.2 1407.2 1647.2 1403.7 1647.8 1400.1 1648.5 1398.8 1649 1397.5 1649.5Z" fill="#9467BD" fill-opacity="0.85" stroke="#222" stroke-width="0.6" stroke-linejoin="round"/>
<path d="M1409.5 1649.5L1409.5 1558.3" stroke="#222" stroke-width="0.7" fill="none"/>
<path d="M1471.3 1649.5 1470 1649 1468.7 1648.5 1465.2 1647.8 1461.7 1647.2 1460.7 1646.2 1459.8 1645.3 1459.7 1642.2 1459.6 1639.1 1459.5 1585.1 1459.4 1531.2 1459.2 1531.2 1459.1 1585.1 1459 1639.1 1458.9 1642.2 1458.8 1645.3 1457.9 1646.2 1457 1647.2 1453.4 1647.8 1449.9 1648.5 1448.6 1649 1447.3 1649.5Z" fill="#8C564B" fill-opacity="0.85" stroke="#222" stroke-width="0.6" stroke-linejoin="round"/>
<path d="M1459.3 1649.5L1459.3 1531.2" stroke="#222" stroke-width="0.7" fill="none"/>
<path d="M1521.4 1649.5 1520.9 1648.1 1519.9 1646.6 1518.9 1645.2 1518.5 1643.8 1517.4 1641.3 1514.7 1638.8 1512 1636.3 1510.9 1633.9 1510.9 1630.9 1510.8 1628 1510.7 1625.1 1510.7 1622.1 1511.2 1619.2 1512.6 1616.3 1514 1613.3 1514.6 1610.4 1514.1 1607.3 1512.9 1604.1 1511.7 1601 1511.2 1597.9 1511.3 1592.9 1511.4 1587.9 1511.6 1582.8 1511.7 1577.8 1511.6 1573.6 1511.2 1569.3 1510.8 1565.1 1510.7 1560.9 1510.5 1555.7 1510.3 1550.5 1510 1545.2 1509.9 1540 1509.8 1536.1 1509.7 1532.2 1509.5 1528.3 1509.5 1524.4 1509.4 1517.2 1509.3 1510 1509.2 1502.9 1509.2 1495.7 1509 1495.7 1509 1502.9 1508.9 1510 1508.8 1517.2 1508.7 1524.4 1508.7 1528.3 1508.5 1532.2 1508.4 1536.1 1508.3 1540 1508.2 1545.2 1507.9 1550.5 1507.7 1555.7 1507.5 1560.9 1507.4 1565.1 1507 1569.3 1506.6 1573.6 1506.5 1577.8 1506.6 1582.8 1506.8 1587.9 1506.9 1592.9 1507 1597.9 1506.5 1601 1505.3 1604.1 1504.1 1607.3 1503.6 1610.4 1504.2 1613.3 1505.6 1616.3 1507 1619.2 1507.5 1622.1 1507.5 1625.1 1507.4 1628 1507.3 1630.9 1507.3 1633.9 1506.2 1636.3 1503.5 1638.8 1500.8 1641.3 1499.7 1643.8 1499.3 1645.2 1498.3 1646.6 1497.3 1648.1 1496.8 1649.5Z" fill="#E377C2" fill-opacity="0.85" stroke="#222" stroke-width="0.6" stroke-linejoin="round"/>
<rect x="1506" y="1610.4" width="6.2" height="39.1" fill="#333" fill-opacity="0.4" stroke="#222" stroke-width="0.6"/>
<path d="M1509.1 1649.5L1509.1 1495.7" stroke="#222" stroke-width="0.7" fill="none"/>
<path d="M1185.6 1649.5L1534.1 1649.5" stroke="#555" stroke-width="1.1" fill="none"/>
<circle cx="1608.2" cy="1109.9" r="7.5" fill="#1B75BB"/>
<text transform="translate(1627.5 1117.9) scale(1.104 1)" font-size="24.8" fill="#111">Oligodendrocytes</text>
<circle cx="1608.2" cy="1141.1" r="7.5" fill="#F58220"/>
<text transform="translate(1626.5 1149.4) scale(1.111 1)" font-size="24.8" fill="#111">Excitatory neurons</text>
<circle cx="1608.2" cy="1172.1" r="7.5" fill="#2BA149"/>
<text transform="translate(1626.5 1180.4) scale(1.111 1)" font-size="24.8" fill="#111">Excitatory neurons</text>
<circle cx="1606.6" cy="1203.6" r="7.5" fill="#E41E26"/>
<text transform="translate(1628.7 1211.9) scale(1.096 1)" font-size="24.8" fill="#111">Astrocytes</text>
<circle cx="1606.6" cy="1234.6" r="7.5" fill="#9469B5"/>
<text transform="translate(1626.2 1243.4) scale(1.113 1)" font-size="24.8" fill="#111">Inhibitory neurons</text>
<circle cx="1606.6" cy="1265.8" r="7.5" fill="#8C5649"/>
<text transform="translate(1627.5 1274.1) scale(1.109 1)" font-size="24.8" fill="#111">OPCs</text>
<circle cx="1606.6" cy="1297.3" r="7.5" fill="#DF7DB8"/>
<text transform="translate(1626.5 1305.6) scale(1.104 1)" font-size="24.8" fill="#111">Microglia</text>
</g>
<g id="pf">
<text x="-1" y="1722.8" font-size="34.6" font-weight="bold">f</text>
<text x="88.1" y="1736.7" font-size="29.8" fill="#111">Control (6,433 cells)</text>
<text x="484.2" y="1737" font-size="30" fill="#111">MDD (6,975 cells)</text>
<path d="M210 1777h0M180 1769h0M183 1770h0M216 1774h0M214 1770h0M191 1764h0M217 1782h0M186 1767h0M195 1774h0M245 1787h0M224 1782h0M188 1772h0M228 1780h0M220 1778h0M239 1777h0M215 1774h0M233 1789h0M182 1775h0M190 1771h0M232 1771h0M244 1790h0M220 1773h0M250 1779h0M238 1781h0M238 1777h0M196 1776h0M178 1771h0M197 1773h0M190 1776h0M252 1785h0M229 1770h0M245 1788h0M215 1765h0M193 1774h0M191 1772h0M206 1771h0M200 1768h0M226 1778h0M241 1781h0M246 1774h0M208 1774h0M230 1778h0M199 1775h0M187 1770h0M187 1771h0M244 1780h0M197 1775h0M195 1762h0M214 1774h0M185 1774h0M244 1782h0M250 1783h0M228 1776h0M260 1778h0M198 1773h0M231 1778h0M207 1780h0M260 1778h0M242 1777h0M219 1776h0M181 1774h0M239 1777h0M261 1783h0M209 1776h0M197 1778h0M252 1777h0M231 1775h0M238 1773h0M234 1780h0M236 1788h0M250 1788h0M252 1781h0M195 1778h0M247 1788h0M252 1780h0M223 1776h0M250 1779h0M243 1787h0M244 1785h0M203 1778h0M198 1772h0M246 1788h0M230 1773h0M243 1783h0M226 1776h0M203 1771h0M185 1772h0M220 1781h0M223 1773h0M223 1780h0M232 1780h0M243 1777h0M220 1776h0M227 1780h0M224 1771h0M251 1781h0M231 1773h0M195 1775h0M186 1772h0M233 1769h0M190 1763h0M198 1764h0M202 1769h0M226 1774h0M186 1773h0M208 1776h0M242 1780h0M219 1774h0M226 1777h0M257 1775h0M188 1772h0M239 1783h0M220 1768h0M206 1779h0M223 1774h0M182 1765h0M192 1767h0M249 1785h0M189 1766h0M197 1768h0M205 1776h0M201 1773h0M185 1775h0M204 1767h0M221 1779h0M181 1771h0M233 1778h0M219 1773h0M237 1784h0M239 1785h0M238 1778h0M242 1774h0M210 1774h0M197 1774h0M201 1773h0M250 1776h0M202 1776h0M219 1779h0M210 1769h0M222 1785h0M204 1771h0M203 1773h0M195 1771h0M205 1774h0M188 1771h0M192 1767h0M233 1773h0M243 1785h0M260 1791h0M238 1780h0M242 1777h0M246 1786h0M223 1767h0M235 1777h0M231 1774h0M186 1774h0M192 1764h0M223 1771h0M226 1774h0M230 1779h0M238 1781h0M203 1773h0M238 1787h0M249 1785h0M214 1766h0M226 1775h0M191 1779h0M203 1771h0M184 1778h0M231 1774h0M214 1776h0M192 1768h0M255 1784h0M220 1765h0M214 1777h0M254 1791h0M181 1769h0M193 1765h0M246 1779h0M247 1783h0M174 1770h0M207 1775h0M205 1771h0M239 1777h0M248 1774h0M199 1775h0M252 1782h0M213 1774h0M190 1766h0M251 1788h0M221 1780h0M259 1778h0M237 1772h0M222 1774h0M228 1782h0M229 1779h0M255 1788h0M204 1779h0M254 1792h0M198 1769h0M195 1774h0M245 1783h0M255 1783h0M192 1773h0M210 1773h0M192 1767h0M232 1783h0M217 1778h0M183 1780h0M182 1770h0M247 1786h0M194 1774h0M258 1776h0M189 1772h0M241 1784h0M173 1776h0M249 1773h0M202 1773h0M216 1766h0M230 1772h0M214 1773h0M241 1790h0M229 1780h0M194 1765h0M195 1773h0M222 1779h0M231 1777h0M223 1772h0M243 1783h0M207 1769h0M210 1772h0M228 1780h0M235 1776h0M179 1775h0M235 1786h0M233 1779h0M251 1792h0M199 1779h0M209 1769h0M195 1776h0M234 1777h0M213 1782h0M193 1771h0M218 1767h0M246 1779h0M209 1780h0M245 1781h0M206 1775h0M198 1771h0M210 1771h0M255 1789h0M245 1776h0M178 1771h0M252 1788h0M254 1784h0M242 1780h0M191 1774h0M200 1762h0M205 1781h0M227 1785h0M205 1771h0M244 1776h0M256 1784h0M226 1771h0M210 1778h0M221 1773h0M241 1772h0M235 1777h0M199 1778h0M189 1778h0M200 1771h0M218 1784h0M252 1782h0M192 1774h0M231 1780h0M207 1767h0M242 1773h0M192 1766h0M218 1782h0M195 1775h0M197 1766h0M197 1777h0M220 1783h0M232 1777h0M220 1766h0M254 1784h0M193 1779h0M230 1774h0M242 1783h0M242 1779h0M223 1774h0M211 1775h0M194 1766h0M201 1771h0M234 1782h0M198 1764h0M189 1773h0M221 1774h0M191 1765h0M199 1780h0M231 1809h0M237 1808h0M235 1815h0M238 1807h0M235 1810h0M230 1822h0M229 1802h0M234 1825h0M232 1811h0M229 1808h0M229 1805h0M231 1825h0M234 1823h0M236 1803h0M228 1819h0M234 1804h0M237 1808h0M234 1810h0M233 1815h0M233 1803h0M229 1802h0M234 1802h0M231 1815h0M230 1811h0M232 1810h0M238 1813h0M235 1818h0M231 1820h0M235 1814h0M237 1814h0M238 1815h0M233 1800h0M237 1815h0M235 1811h0M236 1821h0M234 1825h0M239 1812h0M235 1802h0M231 1808h0M235 1805h0M234 1823h0M232 1825h0M234 1815h0M236 1811h0M235 1817h0M235 1822h0M231 1821h0M230 1813h0M237 1805h0M235 1809h0M274 1811h0M267 1813h0M272 1814h0M249 1805h0M261 1811h0M247 1804h0M261 1814h0M274 1814h0M265 1813h0M257 1813h0M249 1807h0M249 1806h0M251 1806h0M252 1809h0M273 1810h0M256 1809h0M259 1816h0M261 1811h0M253 1809h0M259 1814h0M247 1805h0M263 1813h0M248 1806h0M265 1812h0M254 1811h0M274 1809h0M248 1801h0M258 1810h0M253 1810h0M244 1808h0M268 1810h0M250 1808h0M267 1812h0M266 1813h0M275 1813h0M252 1804h0M266 1817h0M255 1815h0M263 1810h0M272 1813h0M268 1811h0M265 1812h0M251 1807h0M274 1813h0M250 1805h0M250 1807h0M264 1810h0M271 1814h0M257 1807h0M277 1814h0M275 1812h0M252 1808h0M273 1809h0M269 1811h0M251 1808h0M250 1811h0M246 1807h0M265 1815h0M271 1812h0M266 1814h0M258 1810h0M265 1813h0M275 1815h0M252 1807h0M269 1813h0M255 1814h0M248 1808h0M271 1817h0M254 1813h0M262 1816h0M155 1818h0M197 1818h0M193 1801h0M177 1802h0M211 1790h0M210 1787h0M164 1797h0M211 1807h0M176 1822h0M166 1805h0M186 1817h0M201 1813h0M174 1800h0M160 1821h0M195 1817h0M161 1804h0M203 1810h0M158 1805h0M210 1796h0M163 1799h0M198 1821h0M160 1793h0M167 1800h0M185 1793h0M172 1794h0M216 1816h0M157 1826h0M157 1802h0" stroke="#8C564B" stroke-width="3.9" stroke-linecap="round" fill="none"/>
<path d="M233 1884h0M160 1859h0M107 1867h0M85 1875h0M185 1862h0M167 1858h0M150 1834h0M144 1843h0M155 1860h0M222 1870h0M212 1868h0M155 1859h0M93 1866h0M195 1859h0M144 1851h0M145 1835h0M108 1842h0M134 1848h0M92 1865h0M218 1866h0M95 1855h0M189 1863h0M206 1874h0M230 1901h0M149 1843h0M228 1898h0M129 1850h0M143 1854h0M142 1852h0M212 1862h0M123 1843h0M128 1860h0M206 1866h0M179 1866h0M134 1836h0M206 1875h0M184 1861h0M147 1841h0M146 1856h0M128 1852h0M131 1856h0M153 1855h0M182 1870h0M230 1883h0M224 1880h0M214 1875h0M104 1866h0M129 1852h0M124 1843h0M121 1847h0M121 1846h0M202 1858h0M212 1866h0M184 1860h0M164 1842h0M129 1854h0M174 1854h0M100 1856h0M174 1851h0M206 1879h0M196 1853h0M156 1847h0M187 1857h0M178 1843h0M149 1846h0M166 1849h0M195 1859h0M212 1886h0M172 1846h0M147 1853h0M211 1888h0M144 1848h0M179 1849h0M206 1877h0M124 1842h0M221 1873h0M219 1881h0M139 1848h0M216 1879h0M219 1865h0M177 1848h0M180 1850h0M180 1863h0M105 1861h0M218 1863h0M151 1835h0M177 1859h0M150 1856h0M191 1857h0M181 1853h0M200 1867h0M166 1850h0M195 1849h0M160 1852h0M190 1863h0M105 1869h0M110 1857h0M220 1881h0M201 1876h0M128 1856h0M207 1854h0M94 1853h0M166 1847h0M228 1892h0M86 1859h0M97 1873h0M118 1846h0M92 1872h0M155 1845h0M203 1880h0M180 1861h0M221 1866h0M177 1855h0M225 1881h0M128 1838h0M209 1871h0M161 1843h0M184 1853h0M212 1873h0M119 1854h0M214 1872h0M220 1863h0M176 1866h0M206 1860h0M150 1851h0M214 1883h0M227 1898h0M188 1862h0M127 1837h0M171 1856h0M209 1879h0M230 1877h0M158 1847h0M122 1863h0M137 1843h0M171 1853h0M228 1900h0M188 1853h0M177 1863h0M108 1872h0M208 1880h0M129 1841h0M229 1877h0M228 1894h0M119 1855h0M85 1860h0M173 1845h0M93 1859h0M112 1856h0M168 1841h0M186 1866h0M126 1850h0M127 1852h0M154 1838h0M227 1880h0M190 1852h0M106 1874h0M224 1882h0M181 1851h0M138 1851h0M167 1855h0M109 1854h0M200 1866h0M229 1901h0M222 1877h0M170 1857h0M210 1870h0M145 1838h0M190 1862h0M96 1855h0M114 1850h0M156 1853h0M213 1881h0M159 1863h0M108 1858h0M219 1878h0M162 1856h0M108 1863h0M233 1896h0M134 1847h0M197 1879h0M96 1862h0M122 1856h0M174 1859h0M226 1895h0M114 1867h0M200 1867h0M95 1855h0M133 1859h0M202 1854h0M129 1856h0M151 1846h0M205 1884h0M217 1879h0M210 1887h0M134 1861h0M149 1854h0M192 1855h0M154 1849h0M205 1852h0M135 1839h0M217 1872h0M218 1891h0M170 1851h0M229 1898h0M104 1873h0M105 1874h0M128 1853h0M167 1852h0M112 1851h0M104 1872h0M166 1854h0M158 1856h0M224 1887h0M211 1878h0M220 1894h0M207 1875h0M228 1881h0M120 1858h0M234 1882h0M214 1872h0M183 1847h0M116 1855h0M142 1846h0M154 1849h0M121 1853h0M218 1879h0M222 1881h0M187 1870h0M116 1845h0M186 1866h0M162 1847h0M132 1845h0M191 1852h0M119 1851h0M113 1858h0M127 1852h0M133 1855h0M208 1870h0M193 1870h0M150 1846h0M159 1855h0M113 1850h0M188 1854h0M219 1889h0M162 1864h0M134 1844h0M106 1857h0M92 1870h0M207 1869h0M228 1887h0M133 1856h0M193 1846h0M169 1839h0M193 1869h0M202 1861h0M232 1880h0M166 1854h0M167 1859h0M213 1875h0M147 1852h0M125 1855h0M142 1859h0M208 1878h0M114 1856h0M176 1852h0M219 1898h0M221 1875h0M155 1848h0M88 1862h0M227 1876h0M220 1897h0M189 1867h0M173 1866h0M190 1860h0M138 1853h0M189 1843h0M154 1854h0M225 1906h0M216 1880h0M233 1886h0M114 1852h0M227 1873h0M157 1854h0M163 1851h0M108 1844h0M154 1846h0M86 1873h0M135 1847h0M140 1839h0M196 1869h0M174 1863h0M182 1851h0M155 1851h0M209 1870h0M100 1851h0M185 1854h0M94 1862h0M196 1868h0M140 1857h0M175 1861h0M161 1852h0M188 1851h0M185 1859h0M231 1882h0M225 1877h0M192 1853h0M228 1898h0M201 1871h0M207 1882h0M128 1857h0M122 1851h0M184 1859h0M146 1849h0M110 1851h0M127 1856h0M135 1853h0M147 1856h0M101 1874h0M95 1861h0M216 1879h0M190 1875h0M128 1848h0M118 1852h0M197 1877h0M176 1859h0M187 1869h0M97 1857h0M130 1841h0M184 1857h0M153 1850h0M212 1888h0M98 1856h0M166 1853h0M136 1852h0M198 1872h0M226 1871h0M223 1884h0M90 1857h0M133 1852h0M197 1876h0M139 1843h0M116 1852h0M201 1864h0M114 1860h0M154 1849h0M194 1870h0M177 1847h0M153 1842h0M98 1860h0M145 1852h0M189 1857h0M107 1853h0M224 1882h0M187 1870h0M214 1878h0M215 1896h0M195 1849h0M184 1858h0M188 1867h0M235 1896h0M93 1854h0M114 1845h0M182 1856h0M93 1871h0M116 1856h0M195 1858h0M116 1849h0M222 1894h0M227 1890h0M143 1837h0M212 1877h0M170 1858h0M220 1880h0M145 1849h0M135 1860h0M164 1854h0M158 1853h0M115 1864h0M215 1873h0M226 1893h0M160 1852h0M188 1852h0M179 1848h0M190 1865h0M121 1858h0M214 1881h0M196 1846h0M115 1840h0M201 1871h0M211 1882h0M166 1861h0M134 1853h0M192 1846h0M232 1881h0M170 1856h0M190 1859h0M98 1858h0M111 1863h0M116 1852h0M224 1867h0M152 1860h0M162 1854h0M150 1837h0M227 1890h0M150 1846h0M123 1856h0M174 1847h0M233 1877h0M186 1854h0M188 1857h0M187 1850h0M187 1866h0M226 1883h0M191 1862h0M184 1867h0M143 1846h0M154 1851h0M218 1881h0M218 1883h0M172 1861h0M177 1862h0M95 1858h0M99 1864h0M163 1841h0M199 1860h0M229 1893h0M211 1878h0M216 1887h0M109 1853h0M123 1851h0M183 1861h0M186 1869h0M193 1849h0M228 1882h0M197 1877h0M196 1858h0M145 1833h0M211 1867h0M92 1856h0M116 1853h0M130 1858h0M212 1874h0M104 1877h0M109 1850h0M192 1865h0M208 1878h0M213 1872h0M146 1854h0M220 1879h0M120 1842h0M144 1848h0M206 1886h0M191 1859h0M129 1845h0M101 1873h0M154 1846h0M153 1847h0M148 1848h0M234 1897h0M192 1867h0M166 1861h0M185 1847h0M84 1862h0M221 1869h0M183 1863h0M220 1861h0M190 1873h0M192 1865h0M134 1844h0M95 1870h0M222 1897h0M126 1858h0M122 1857h0M149 1853h0M136 1850h0M130 1859h0M182 1849h0M222 1885h0M102 1845h0M145 1838h0M227 1884h0M222 1890h0M98 1874h0M199 1871h0M107 1844h0M194 1870h0M226 1890h0M217 1868h0M112 1865h0M211 1870h0M114 1862h0M180 1865h0M148 1850h0M92 1860h0M161 1847h0M175 1851h0M180 1852h0M183 1849h0M105 1864h0M218 1875h0M144 1846h0M170 1843h0M139 1841h0M200 1851h0M138 1833h0M157 1859h0M227 1889h0M156 1839h0M150 1846h0M207 1868h0M117 1860h0M182 1865h0M148 1851h0M207 1863h0M96 1862h0M218 1895h0M144 1838h0M141 1845h0M212 1870h0M152 1846h0M165 1860h0M223 1885h0M126 1858h0M126 1862h0M184 1872h0M116 1849h0M223 1874h0M208 1861h0M125 1848h0M107 1843h0M147 1843h0M125 1846h0M212 1866h0M225 1879h0M105 1877h0M96 1867h0M206 1868h0M201 1865h0M222 1872h0M235 1896h0M209 1869h0M168 1859h0M119 1861h0M140 1845h0M170 1857h0M113 1848h0M199 1866h0M129 1847h0M145 1860h0M220 1875h0M114 1855h0M88 1866h0M175 1853h0M190 1854h0M169 1838h0M218 1872h0M124 1854h0M142 1853h0M110 1855h0M189 1853h0M180 1860h0M127 1861h0M211 1869h0M191 1872h0M169 1865h0M91 1857h0M156 1843h0M115 1842h0M145 1839h0M162 1844h0M131 1840h0M117 1847h0M212 1887h0M165 1852h0M118 1851h0M158 1849h0M130 1862h0M152 1839h0M223 1881h0M154 1836h0M110 1863h0M96 1870h0M167 1852h0M161 1847h0M146 1851h0M213 1877h0M139 1846h0M141 1854h0M97 1879h0M104 1875h0M127 1854h0M224 1882h0M220 1887h0M204 1866h0M89 1869h0M197 1872h0M192 1852h0M136 1841h0M128 1850h0M142 1841h0M100 1855h0M157 1851h0M216 1869h0M148 1853h0M139 1850h0M147 1849h0M208 1864h0M162 1851h0M177 1840h0M107 1861h0M216 1876h0M203 1866h0M192 1852h0M95 1857h0M193 1854h0M224 1886h0M184 1852h0M129 1856h0M133 1842h0M166 1852h0M143 1838h0M217 1884h0M90 1863h0M150 1850h0M146 1842h0M223 1885h0M128 1846h0M174 1858h0M207 1883h0M204 1867h0M214 1892h0M88 1869h0M99 1863h0M188 1867h0M180 1843h0M190 1855h0M122 1847h0M226 1889h0M106 1846h0M149 1843h0M222 1880h0M98 1863h0M214 1882h0M176 1863h0M117 1850h0M223 1887h0M228 1896h0M143 1843h0M182 1857h0M191 1870h0M108 1855h0M240 1886h0M169 1859h0M191 1867h0M90 1862h0M179 1854h0M107 1869h0M218 1891h0M84 1859h0M152 1842h0M93 1873h0M125 1845h0M209 1873h0M185 1858h0M202 1865h0M92 1867h0M196 1866h0M135 1854h0M119 1865h0M147 1836h0M165 1853h0M227 1888h0M179 1858h0M103 1851h0M148 1855h0M123 1856h0M206 1880h0M102 1866h0M199 1866h0M123 1846h0M136 1851h0M166 1864h0M97 1859h0M184 1843h0M99 1875h0M240 1898h0M199 1855h0M199 1876h0M101 1866h0M157 1851h0M200 1861h0M145 1851h0M114 1864h0M233 1889h0M169 1837h0M201 1863h0M193 1847h0M101 1853h0M123 1851h0M213 1876h0M237 1881h0M218 1866h0M162 1837h0M215 1894h0M176 1850h0M230 1887h0M216 1882h0M161 1859h0M219 1874h0M152 1835h0M207 1857h0M161 1854h0M209 1885h0M215 1876h0M169 1851h0M203 1879h0M157 1854h0M149 1837h0M138 1852h0M187 1867h0M220 1881h0M99 1862h0M137 1847h0M130 1844h0M214 1889h0M213 1891h0M118 1848h0M176 1851h0M215 1893h0M124 1853h0M182 1845h0M159 1841h0M202 1865h0M165 1847h0M186 1854h0M164 1839h0M157 1861h0M104 1855h0M164 1856h0M220 1870h0M94 1871h0M231 1888h0M179 1853h0M149 1836h0M131 1842h0M161 1859h0M194 1848h0M159 1844h0M195 1867h0M185 1842h0M148 1854h0M226 1891h0M112 1855h0M123 1858h0M231 1899h0M229 1896h0M162 1853h0M138 1857h0M133 1863h0M164 1840h0M207 1874h0M195 1869h0M193 1854h0M153 1842h0M128 1844h0M220 1872h0M169 1864h0M129 1852h0M175 1840h0M154 1845h0M126 1836h0M183 1846h0M161 1843h0M131 1854h0M147 1859h0M161 1850h0M228 1889h0M91 1869h0M212 1869h0M145 1845h0M219 1864h0M104 1843h0M178 1842h0M208 1856h0M228 1890h0M193 1859h0M89 1856h0M131 1855h0M97 1848h0M204 1881h0M104 1857h0M89 1867h0M138 1852h0M176 1850h0M219 1879h0M183 1864h0M180 1865h0M126 1840h0M185 1854h0M86 1867h0M91 1855h0M172 1860h0M183 1867h0M235 1884h0M142 1847h0M169 1857h0M192 1853h0M144 1854h0M135 1860h0M164 1853h0M200 1869h0M172 1838h0M217 1862h0M200 1862h0M132 1853h0M196 1860h0M149 1856h0M229 1899h0M105 1863h0M214 1902h0M215 1891h0M223 1893h0M208 1902h0M216 1889h0M215 1898h0M217 1878h0M223 1904h0M210 1905h0M217 1903h0M207 1884h0M214 1875h0M222 1895h0M218 1897h0M220 1893h0M216 1901h0M215 1905h0M217 1899h0M207 1889h0M214 1900h0M221 1901h0M209 1885h0M207 1881h0M219 1900h0M218 1898h0M219 1911h0M220 1895h0M218 1900h0M218 1904h0M211 1892h0M207 1879h0M219 1895h0M219 1886h0M218 1883h0M212 1883h0M221 1899h0M217 1903h0M209 1900h0M209 1889h0M218 1902h0M213 1900h0M210 1881h0M219 1897h0M209 1882h0M221 1898h0M213 1897h0M221 1893h0M208 1888h0M220 1906h0M218 1905h0M216 1888h0M209 1896h0M208 1887h0M216 1896h0M221 1897h0M206 1875h0M216 1890h0M210 1908h0M210 1893h0M217 1893h0M213 1898h0M221 1892h0M215 1904h0M217 1892h0M221 1901h0M218 1892h0M214 1901h0M214 1908h0M204 1888h0M204 1884h0M219 1893h0M214 1895h0M212 1888h0M221 1904h0M219 1899h0M210 1885h0M216 1896h0M219 1889h0M211 1896h0M209 1893h0M213 1892h0M211 1884h0M214 1892h0M221 1892h0M212 1885h0M209 1889h0M208 1901h0M215 1882h0M225 1904h0M217 1881h0M87 1877h0M85 1885h0M82 1874h0M84 1888h0M85 1875h0M87 1880h0M83 1888h0M85 1876h0M84 1884h0M83 1883h0M85 1882h0M85 1879h0M84 1891h0M82 1879h0M95 1875h0M89 1875h0M89 1885h0M89 1877h0M87 1884h0M86 1882h0M77 1884h0M89 1881h0M81 1873h0M91 1870h0M86 1871h0M85 1884h0M82 1896h0M85 1879h0M84 1884h0M86 1879h0M87 1871h0M79 1885h0M75 1891h0M87 1885h0M85 1876h0M95 1872h0M84 1879h0M84 1892h0M92 1874h0M80 1890h0M108 1911h0M161 1922h0M137 1907h0M83 1922h0M114 1895h0M151 1922h0M149 1925h0M166 1880h0M195 1880h0M218 1894h0M113 1923h0M126 1891h0M129 1906h0M85 1889h0M104 1915h0M82 1903h0M117 1894h0M158 1909h0M101 1882h0M98 1923h0M102 1876h0M153 1901h0M203 1871h0M114 1878h0M162 1894h0M137 1919h0M172 1917h0M212 1883h0M210 1891h0M89 1920h0M96 1869h0M121 1885h0M213 1918h0M139 1898h0M197 1914h0M171 1897h0M98 1882h0M171 1902h0M191 1919h0M213 1879h0M92 1919h0M159 1878h0M176 1883h0M114 1889h0M153 1907h0M92 1910h0M167 1895h0M173 1914h0M83 1895h0M174 1909h0M170 1878h0M212 1913h0M113 1893h0M212 1880h0M137 1923h0M204 1881h0M182 1889h0M172 1912h0M99 1881h0M111 1883h0M87 1876h0M137 1892h0M92 1901h0M210 1901h0M130 1908h0M141 1878h0M147 1869h0M174 1877h0M132 1923h0M186 1916h0M169 1904h0M178 1923h0M109 1912h0M123 1883h0M194 1902h0M198 1918h0M162 1879h0M84 1899h0M181 1884h0M91 1868h0M105 1908h0M82 1881h0M118 1909h0M216 1869h0M97 1922h0M214 1877h0M127 1898h0M125 1892h0M147 1883h0M89 1873h0M104 1873h0M167 1908h0M118 1913h0M181 1888h0M149 1879h0M208 1900h0M89 1877h0M176 1890h0M179 1881h0M190 1914h0M95 1902h0M108 1909h0M191 1913h0M113 1873h0M172 1900h0M101 1879h0M161 1874h0M168 1882h0M117 1892h0M154 1909h0M258 1850h0M265 1845h0M274 1854h0M267 1846h0M263 1852h0M271 1856h0M272 1860h0M277 1858h0M262 1851h0M265 1848h0M271 1851h0M270 1851h0M272 1857h0M262 1851h0M271 1853h0M264 1850h0M275 1856h0M273 1848h0M275 1856h0M274 1855h0M267 1861h0M270 1849h0M260 1848h0M272 1850h0M261 1850h0M267 1846h0M262 1850h0M272 1851h0M263 1847h0M269 1847h0M143 1945h0M149 1938h0M144 1937h0M134 1937h0M148 1941h0M145 1946h0M138 1938h0M143 1938h0M144 1943h0M146 1942h0M142 1934h0M147 1939h0M147 1937h0M140 1934h0M135 1937h0M138 1937h0M138 1934h0M148 1937h0M139 1934h0M141 1941h0M145 1944h0M140 1936h0M141 1941h0M140 1934h0M146 1945h0M145 1938h0M134 1932h0M139 1940h0M190 1950h0M175 1952h0M177 1952h0M171 1951h0M188 1953h0M178 1948h0M172 1949h0M181 1950h0M175 1950h0M165 1950h0M179 1951h0M192 1950h0M173 1953h0M188 1953h0M176 1936h0M189 1941h0M188 1915h0M192 1945h0M200 1926h0M182 1942h0M201 1921h0M203 1952h0M189 1927h0M198 1950h0" stroke="#1F77B4" stroke-width="3.9" stroke-linecap="round" fill="none"/>
<path d="M274 1849h0M284 1848h0M279 1844h0M289 1844h0M285 1849h0M280 1841h0M279 1845h0M268 1847h0M288 1843h0M284 1843h0M282 1842h0M281 1847h0M275 1846h0M276 1847h0M282 1843h0M274 1846h0M282 1844h0M280 1841h0M282 1842h0M285 1844h0M284 1844h0M275 1843h0M271 1848h0M284 1847h0M276 1848h0M276 1844h0M275 1848h0M274 1850h0M272 1847h0M281 1844h0M280 1849h0M275 1848h0M285 1844h0M275 1847h0M281 1846h0M299 1866h0M299 1862h0M308 1850h0M311 1844h0M304 1848h0M319 1828h0M297 1859h0M319 1833h0M313 1840h0M298 1868h0M311 1834h0M317 1834h0M313 1844h0M309 1846h0M307 1848h0M311 1839h0M295 1869h0M316 1833h0M306 1856h0M327 1818h0M322 1830h0M301 1852h0M291 1870h0M328 1819h0M320 1821h0M318 1841h0M297 1856h0M328 1819h0M326 1813h0M325 1824h0M303 1845h0M318 1836h0M313 1840h0M301 1873h0M322 1827h0M314 1834h0M308 1845h0M313 1836h0M315 1838h0M310 1838h0M303 1864h0M324 1827h0M309 1856h0M301 1861h0M297 1865h0M307 1845h0M302 1871h0M304 1854h0M322 1828h0M304 1856h0M301 1860h0M316 1829h0M296 1866h0M303 1873h0M305 1864h0M311 1846h0M313 1839h0M304 1863h0M326 1820h0M302 1863h0M308 1855h0M304 1862h0M313 1836h0M301 1871h0M309 1843h0M313 1839h0M295 1872h0M305 1863h0M330 1819h0M305 1862h0M314 1842h0M326 1818h0M300 1865h0M306 1843h0M299 1863h0M324 1830h0M325 1826h0M318 1840h0M311 1840h0M299 1875h0M311 1850h0M300 1851h0M316 1844h0M298 1858h0M314 1830h0M298 1872h0M300 1854h0M324 1828h0M309 1847h0M308 1843h0M324 1823h0M299 1872h0M310 1848h0M308 1848h0M322 1829h0M300 1849h0M300 1860h0M300 1851h0M301 1858h0M319 1832h0M297 1873h0M309 1851h0M326 1818h0M309 1852h0M304 1855h0M321 1822h0M315 1833h0M316 1837h0M302 1864h0M322 1825h0M297 1876h0M306 1851h0M312 1838h0M302 1864h0M302 1861h0M311 1831h0M300 1874h0M307 1858h0M304 1852h0M319 1832h0M318 1821h0M317 1825h0M304 1850h0M331 1818h0M319 1826h0M300 1865h0M308 1845h0M302 1865h0M296 1866h0M296 1869h0M328 1822h0M323 1818h0M310 1832h0M320 1832h0M320 1831h0M312 1841h0M326 1819h0M321 1824h0M309 1846h0M301 1855h0M320 1822h0M309 1857h0M329 1820h0M325 1830h0M294 1877h0M305 1858h0M302 1856h0M320 1818h0M301 1872h0M312 1848h0M311 1841h0M299 1867h0M321 1824h0M302 1851h0M301 1875h0M303 1864h0M322 1817h0M313 1832h0M302 1863h0M313 1841h0M306 1854h0M326 1821h0M320 1826h0M331 1817h0M302 1867h0M299 1864h0M311 1848h0M295 1871h0M306 1846h0M309 1836h0M315 1844h0M319 1850h0M313 1840h0M318 1855h0M322 1853h0M320 1850h0M318 1843h0M321 1847h0M319 1849h0M318 1842h0M315 1844h0M319 1851h0M320 1856h0M322 1846h0M320 1846h0M319 1861h0M314 1835h0M320 1850h0M320 1845h0M320 1859h0M318 1850h0M316 1842h0M319 1861h0M320 1859h0M315 1839h0M315 1837h0M318 1845h0M310 1837h0M309 1838h0M317 1842h0M318 1841h0M320 1854h0M320 1860h0M319 1851h0M310 1839h0M320 1852h0M314 1843h0M319 1845h0M318 1868h0M314 1841h0M291 1888h0M329 1848h0M327 1864h0M337 1831h0M308 1845h0M320 1887h0M330 1869h0M308 1888h0M294 1847h0M326 1861h0M338 1834h0M312 1843h0M289 1834h0M293 1855h0M310 1866h0M303 1881h0M314 1902h0M297 1866h0M313 1856h0M331 1843h0M332 1854h0M305 1874h0M316 1849h0M293 1900h0M307 1836h0M321 1868h0M305 1852h0M330 1853h0M309 1900h0M307 1858h0" stroke="#E377C2" stroke-width="3.9" stroke-linecap="round" fill="none"/>
<path d="M246 1912h0M272 1933h0M291 1957h0M271 1924h0M267 1918h0M286 1946h0M259 1929h0M295 1957h0M245 1918h0M279 1942h0M239 1921h0M244 1930h0M277 1928h0M289 1945h0M294 1953h0M258 1929h0M302 1954h0M302 1943h0M310 1965h0M310 1969h0M295 1935h0M281 1921h0M287 1931h0M307 1965h0M270 1925h0M294 1944h0M262 1933h0M316 1955h0M278 1924h0M313 1956h0M268 1927h0M277 1928h0M246 1913h0M297 1955h0M308 1979h0M304 1968h0M273 1932h0M304 1975h0M292 1935h0M304 1946h0M250 1929h0M286 1949h0M257 1916h0M283 1929h0M290 1958h0M242 1930h0M273 1938h0M256 1920h0M302 1966h0M278 1930h0M248 1915h0M308 1951h0M294 1960h0M311 1972h0M270 1928h0M262 1915h0M253 1929h0M245 1922h0M265 1929h0M240 1919h0M239 1912h0M287 1946h0M264 1917h0M283 1932h0M289 1936h0M300 1954h0M307 1957h0M311 1963h0M243 1924h0M280 1938h0M270 1939h0M301 1952h0M234 1924h0M298 1934h0M266 1923h0M280 1925h0M277 1928h0M275 1936h0M304 1945h0M243 1927h0M269 1920h0M273 1928h0M288 1934h0M280 1917h0M229 1914h0M301 1959h0M262 1911h0M249 1912h0M301 1945h0M261 1919h0M245 1915h0M299 1963h0M311 1963h0M243 1920h0M294 1952h0M265 1927h0M241 1920h0M305 1975h0M264 1919h0M296 1937h0M299 1955h0M227 1925h0M245 1924h0M267 1927h0M286 1924h0M252 1917h0M226 1925h0M256 1916h0M244 1919h0M264 1921h0M276 1932h0M239 1925h0M247 1923h0M290 1943h0M274 1934h0M315 1961h0M251 1918h0M291 1937h0M238 1912h0M296 1957h0M248 1922h0M286 1944h0M302 1949h0M281 1936h0M272 1933h0M260 1932h0M274 1919h0M317 1970h0M300 1953h0M305 1964h0M297 1942h0M252 1930h0M244 1923h0M242 1918h0M273 1923h0M243 1933h0M266 1930h0M295 1937h0M265 1924h0M265 1916h0M309 1953h0M305 1969h0M307 1944h0M305 1973h0M277 1938h0M309 1945h0M296 1948h0M288 1943h0M251 1929h0M261 1915h0M303 1965h0M280 1928h0M283 1927h0M283 1926h0M258 1921h0M242 1912h0M282 1939h0M302 1979h0M315 1971h0M234 1910h0M285 1943h0M245 1919h0M277 1937h0M289 1928h0M299 1934h0M281 1948h0M276 1930h0M305 1944h0M303 1940h0M266 1932h0M273 1929h0M303 1966h0M310 1966h0M274 1943h0M301 1976h0M297 1953h0M259 1924h0M229 1922h0M300 1975h0M297 1951h0M258 1922h0M286 1943h0M294 1940h0M270 1924h0M230 1926h0M307 1945h0M287 1938h0M271 1936h0M234 1919h0M278 1934h0M301 1941h0M237 1914h0M312 1970h0M304 1957h0M314 1955h0M253 1917h0M265 1912h0M255 1920h0M295 1932h0M319 1974h0M284 1923h0M281 1943h0M281 1923h0M231 1932h0M241 1919h0M294 1938h0M273 1937h0M279 1931h0M299 1935h0M310 1977h0M265 1936h0M242 1916h0M315 1968h0M285 1931h0M298 1964h0M315 1969h0M254 1925h0M293 1946h0M299 1955h0M306 1952h0M311 1963h0M242 1913h0M245 1910h0M298 1931h0M273 1913h0M261 1913h0M300 1957h0M256 1919h0M310 1957h0M294 1944h0M302 1947h0M242 1931h0M280 1927h0M238 1930h0M261 1925h0M242 1918h0M253 1910h0M272 1928h0M268 1935h0M299 1940h0M301 1952h0M262 1932h0M254 1925h0M301 1954h0M282 1920h0M266 1925h0M260 1923h0M282 1929h0M284 1929h0M278 1916h0M278 1933h0M307 1946h0M259 1922h0M265 1932h0M315 1961h0M318 1979h0M297 1937h0M323 1974h0M296 1965h0M256 1912h0M278 1939h0M309 1956h0M252 1925h0M297 1930h0M289 1945h0M232 1920h0M284 1929h0M265 1927h0M302 1963h0M275 1935h0M269 1937h0M287 1939h0M244 1929h0M308 1974h0M268 1928h0M248 1925h0M286 1955h0M303 1959h0M283 1932h0M237 1921h0M294 1946h0M277 1934h0M256 1913h0M290 1958h0M285 1933h0M291 1948h0M284 1943h0M242 1925h0M313 1959h0M308 1951h0M266 1932h0M263 1915h0M290 1947h0M302 1980h0M236 1920h0M277 1943h0M269 1933h0M286 1928h0M239 1916h0M285 1931h0M294 1935h0M275 1920h0M246 1918h0M300 1955h0M274 1928h0M294 1948h0M306 1957h0M254 1924h0M281 1946h0M307 1978h0M290 1945h0M311 1968h0M265 1928h0M276 1928h0M304 1959h0M307 1969h0M244 1923h0M253 1929h0M274 1938h0M300 1946h0M311 1957h0M278 1935h0M304 1961h0M310 1965h0M296 1956h0M300 1965h0M297 1954h0M280 1928h0M302 1950h0M252 1928h0M253 1917h0M293 1939h0M257 1912h0M305 1973h0M303 1980h0M310 1971h0M318 1975h0M301 1944h0M248 1920h0M300 1947h0M286 1952h0M245 1918h0M292 1957h0M263 1921h0M291 1938h0M283 1951h0M312 1967h0M295 1938h0M243 1918h0M291 1934h0M242 1918h0M247 1931h0M299 1954h0M303 1956h0M237 1927h0M233 1922h0M322 1980h0M305 1957h0M287 1947h0M238 1920h0M253 1915h0M262 1928h0M281 1938h0M270 1933h0M263 1921h0M271 1928h0M245 1917h0M303 1952h0M296 1962h0M247 1917h0M304 1959h0M308 1945h0M247 1924h0M297 1939h0M292 1953h0M303 1958h0M278 1939h0M292 1943h0M267 1932h0M264 1930h0M273 1925h0M235 1914h0M271 1926h0M271 1921h0M307 1975h0M278 1927h0M305 1964h0M298 1939h0M273 1938h0M308 1958h0M299 1938h0M279 1932h0M308 1954h0M282 1947h0M307 1965h0M284 1941h0M308 1963h0M253 1928h0M256 1927h0M252 1914h0M316 1966h0M295 1945h0M286 1936h0M244 1927h0M249 1929h0M302 1963h0M286 1949h0M250 1928h0M310 1969h0M249 1927h0M273 1920h0M271 1938h0M297 1970h0M268 1919h0M290 1950h0M253 1916h0M287 1949h0M258 1926h0M294 1946h0M294 1949h0M264 1931h0M283 1941h0M262 1928h0M304 1944h0M305 1960h0M242 1926h0M288 1926h0M276 1942h0M298 1953h0M311 1983h0M242 1915h0M306 1966h0M259 1908h0M290 1938h0M273 1927h0M234 1917h0M242 1925h0M265 1928h0M288 1944h0M310 1964h0M251 1919h0M284 1924h0M290 1934h0M235 1925h0M290 1936h0M270 1913h0M241 1910h0M279 1936h0M269 1926h0M278 1933h0M279 1934h0M308 1958h0M317 1958h0M289 1950h0M291 1941h0M249 1916h0M271 1927h0M299 1937h0M305 1966h0M297 1945h0M275 1934h0M281 1925h0M255 1922h0M300 1970h0M280 1919h0M282 1941h0M309 1957h0M247 1933h0M242 1913h0M279 1934h0M339 1919h0M322 1926h0M337 1906h0M344 1910h0M322 1915h0M331 1912h0M337 1910h0M322 1917h0M346 1902h0M323 1911h0M334 1918h0M329 1915h0M331 1910h0M320 1916h0M331 1913h0M323 1909h0M333 1916h0M316 1922h0M330 1918h0M336 1920h0M335 1909h0M320 1914h0M353 1907h0M343 1912h0M329 1921h0M350 1901h0M321 1919h0M328 1920h0M320 1912h0M330 1921h0M335 1907h0M328 1917h0M326 1913h0M348 1905h0M337 1911h0M322 1908h0M322 1920h0M323 1915h0M336 1918h0M323 1920h0M338 1905h0M308 1918h0M348 1908h0M332 1917h0M345 1910h0M344 1916h0M317 1912h0M347 1907h0M346 1912h0M344 1915h0M333 1922h0M342 1918h0M314 1916h0M327 1924h0M332 1913h0M351 1906h0M313 1917h0M333 1905h0M319 1913h0M321 1918h0M328 1913h0M340 1911h0M322 1913h0M320 1925h0M317 1928h0M344 1908h0M314 1914h0M331 1917h0M313 1913h0M327 1922h0M318 1926h0M344 1913h0M332 1920h0M333 1920h0M325 1923h0M330 1914h0M335 1907h0M311 1914h0M321 1917h0M330 1915h0M320 1913h0M341 1907h0M315 1913h0M318 1909h0M331 1914h0M337 1911h0M326 1917h0M316 1919h0M341 1910h0M315 1922h0M334 1917h0M337 1922h0M332 1915h0M330 1912h0M343 1912h0M328 1913h0M312 1927h0M346 1916h0M321 1916h0M337 1915h0M343 1902h0M326 1921h0M332 1910h0M328 1915h0M311 1925h0M324 1919h0M346 1911h0M316 1912h0M340 1909h0M321 1926h0M331 1935h0M337 1938h0M325 1922h0M335 1930h0M337 1931h0M341 1940h0M323 1929h0M340 1939h0M328 1924h0M327 1932h0M322 1930h0M335 1931h0M334 1931h0M326 1928h0M322 1926h0M321 1918h0M332 1937h0M332 1933h0M328 1933h0M327 1921h0M337 1939h0M332 1931h0M323 1931h0M327 1928h0M333 1934h0M337 1935h0M324 1929h0M328 1925h0M321 1926h0M328 1926h0M323 1930h0M327 1928h0M334 1931h0M322 1929h0M330 1935h0M338 1939h0M332 1933h0M329 1927h0M330 1933h0M325 1918h0M340 1939h0M323 1927h0M337 1930h0M330 1927h0M329 1929h0M332 1932h0M326 1928h0M328 1929h0M334 1933h0M331 1933h0M327 1926h0M334 1935h0M321 1923h0M326 1926h0M336 1934h0M321 1924h0M330 1926h0M322 1927h0M337 1933h0M328 1928h0M218 1935h0M215 1935h0M217 1938h0M213 1935h0M219 1935h0M217 1938h0M217 1933h0M216 1934h0M215 1935h0M216 1934h0M214 1935h0M215 1935h0M237 1964h0M248 1969h0M261 1973h0M241 1966h0M250 1970h0M269 1976h0M270 1973h0M267 1974h0M269 1975h0M242 1964h0M260 1975h0M251 1972h0M247 1969h0M273 1976h0M268 1974h0M265 1971h0M245 1965h0M263 1974h0M255 1971h0M257 1971h0M266 1973h0M243 1967h0M243 1969h0M261 1973h0M270 1973h0M260 1980h0M263 1970h0M263 1975h0M275 1974h0M272 1968h0M278 1975h0M267 1980h0M284 1981h0M286 1967h0M269 1973h0M266 1978h0M284 1968h0" stroke="#9467BD" stroke-width="3.9" stroke-linecap="round" fill="none"/>
<path d="M283 2051h0M283 2049h0M274 2051h0M281 2018h0M269 2069h0M284 2039h0M220 2075h0M273 1992h0M201 2074h0M256 1982h0M264 1988h0M286 2019h0M273 1995h0M274 2008h0M208 2066h0M235 2068h0M200 2064h0M284 2013h0M260 2065h0M264 1979h0M282 2013h0M240 2070h0M269 2065h0M262 2058h0M273 2000h0M271 1991h0M229 2073h0M203 2066h0M271 2056h0M271 2038h0M261 2074h0M274 2026h0M256 1981h0M266 2058h0M258 2071h0M270 2053h0M234 2075h0M285 2005h0M211 2072h0M268 2068h0M249 2076h0M254 2076h0M232 2068h0M271 1996h0M258 1977h0M204 2068h0M272 2047h0M283 2044h0M257 1982h0M254 2066h0M213 2069h0M260 1975h0M255 2068h0M282 2039h0M270 1991h0M275 2066h0M218 2066h0M237 2078h0M230 2077h0M222 2074h0M257 1983h0M262 2064h0M269 2066h0M274 1998h0M250 2061h0M247 2079h0M277 2056h0M267 1985h0M195 2065h0M271 2058h0M243 2075h0M280 2036h0M269 1999h0M265 1996h0M281 2011h0M259 1990h0M245 2077h0M253 2067h0M276 2063h0M270 2003h0M260 2060h0M270 2056h0M261 1982h0M209 2062h0M279 1995h0M228 2069h0M242 2084h0M272 2050h0M276 2016h0M273 1983h0M266 2048h0M262 1993h0M268 2057h0M277 2004h0M219 2065h0M278 2017h0M289 2034h0M209 2064h0M282 2016h0M227 2073h0M206 2065h0M275 2037h0M226 2071h0M261 1972h0M257 2070h0M213 2078h0M208 2075h0M258 1983h0M277 1988h0M231 2065h0M238 2072h0M227 2069h0M275 2005h0M224 2070h0M204 2067h0M291 2030h0M276 2037h0M268 2053h0M282 2045h0M270 2056h0M266 1996h0M288 2046h0M275 1995h0M259 2072h0M281 2035h0M275 2044h0M284 2017h0M269 1994h0M254 2077h0M287 2030h0M277 2048h0M278 2013h0M246 2079h0M268 2052h0M282 2043h0M276 2000h0M249 2077h0M280 2014h0M272 1990h0M283 2006h0M274 2037h0M283 2046h0M204 2075h0M270 1981h0M279 2038h0M281 2016h0M241 2071h0M214 2062h0M230 2075h0M210 2062h0M255 2068h0M271 1995h0M277 1989h0M218 2081h0M283 2014h0M252 2066h0M261 1989h0M231 2078h0M283 2018h0M261 2067h0M245 2073h0M282 2046h0M264 2063h0M269 1979h0M282 2032h0M215 2066h0M259 2063h0M262 1979h0M269 2061h0M273 1993h0M199 2061h0M266 1978h0M232 2076h0M277 2054h0M264 1986h0M253 2080h0M258 2056h0M279 2015h0M221 2066h0M263 2073h0M211 2066h0M226 2066h0M227 2076h0M230 2069h0M221 2074h0M284 2052h0M271 1987h0M274 1987h0M275 2035h0M203 2069h0M271 2051h0M268 1984h0M235 2073h0M275 1994h0M222 2071h0M244 2069h0M225 2079h0M272 2048h0M285 2017h0M281 2046h0M243 2079h0M285 2052h0M272 2016h0M282 2007h0M280 1992h0M263 1990h0M275 2009h0M279 2051h0M264 1992h0M264 1988h0M235 2069h0M264 2068h0M249 2071h0M279 2046h0M213 2071h0M238 2082h0M277 2035h0M258 2078h0M273 2007h0M197 2074h0M267 1982h0M263 1980h0M244 2075h0M288 2034h0M282 2022h0M209 2065h0M220 2067h0M275 2061h0M282 2015h0M283 2018h0M236 2079h0M271 2050h0M243 2077h0M268 2066h0M249 2076h0M270 2054h0M268 2050h0M263 1987h0M265 2067h0M284 2007h0M219 2069h0M279 2060h0M264 2071h0M273 2047h0M214 2071h0M234 2071h0M253 2067h0M269 1984h0M230 2069h0M220 2064h0M200 2065h0M248 2074h0M275 2058h0M230 2068h0M244 2071h0M260 2070h0M208 2074h0M267 1997h0M265 1974h0M221 2083h0M274 2036h0M270 2057h0M259 1981h0M229 2084h0M255 2078h0M280 2024h0M229 2067h0M249 2074h0M282 2018h0M274 2002h0M266 1982h0M276 1993h0M243 2070h0M279 2058h0M287 2035h0M206 2074h0M276 2016h0M255 2081h0M237 2074h0M264 1987h0M236 2073h0M275 2056h0M276 2039h0M268 2060h0M282 2019h0M227 2073h0M290 2026h0M210 2067h0M266 1993h0M260 1987h0M253 2073h0M284 2028h0M273 1983h0M267 1975h0M253 2077h0M277 1991h0M286 2004h0M270 1989h0M271 1990h0M276 2010h0M216 2068h0M269 2069h0M229 2074h0M275 2044h0M277 2017h0M250 1978h0M248 2081h0M260 2059h0M270 2045h0M275 2047h0M272 1998h0M278 2030h0M201 2060h0M252 2071h0M264 2065h0M222 2069h0M277 1991h0M275 2031h0M225 2069h0M278 2001h0M277 2008h0M281 2054h0M281 2047h0M291 2027h0M244 2072h0M279 2012h0M203 2062h0M263 1991h0M209 2073h0M276 1987h0M231 2071h0M286 2013h0M269 1992h0M215 2067h0M208 2070h0M284 2032h0M227 2072h0M285 2028h0M237 2074h0M278 2008h0M224 2071h0M252 2076h0M281 2006h0M252 2073h0M257 2067h0M231 2071h0M267 2047h0M248 2067h0M282 2052h0M278 2044h0M276 2016h0M210 2076h0M264 1993h0M234 2077h0M202 2064h0M288 2033h0M287 2033h0M233 2071h0M281 1995h0M264 2066h0M247 2066h0M272 2014h0M259 2066h0M245 2075h0M277 2060h0M255 2068h0M274 2051h0M222 2072h0M281 2009h0M278 2031h0M275 2058h0M261 2069h0M267 1988h0M269 1999h0M275 2056h0M251 2072h0M269 2056h0M265 1986h0M278 2057h0M266 1991h0M203 2060h0M274 2017h0M281 2033h0M286 2040h0M274 2044h0M238 2081h0M278 2004h0M281 2008h0M253 2076h0M278 1987h0M266 2057h0M279 2043h0M231 2068h0M281 2000h0M261 2061h0M272 2060h0M237 2072h0M273 2046h0M277 1996h0M282 1997h0M212 2070h0M216 2067h0M275 2010h0M236 2076h0M276 2031h0M210 2067h0M214 2067h0M271 2069h0M276 2041h0M258 2059h0M272 1995h0M284 2001h0M272 1996h0M263 2068h0M259 2067h0M241 2071h0M285 2041h0M268 2064h0M287 2021h0M228 2075h0M229 2077h0M254 1980h0M213 2067h0M281 2057h0M278 2063h0M266 1990h0M205 2069h0M230 2083h0M261 1986h0M231 2079h0M227 2072h0M261 1985h0M273 2002h0M270 2065h0M274 1983h0M286 2046h0M279 2009h0M254 2063h0M233 2074h0M255 2069h0M281 2057h0M284 2035h0M201 2065h0M207 2063h0M272 1991h0M220 2068h0M203 2064h0M264 2065h0M240 2076h0M269 2064h0M214 2068h0M225 2077h0M274 2049h0M217 2082h0M287 2008h0M232 2083h0M243 2082h0M232 2081h0M279 2048h0M268 2056h0M260 1980h0M243 2078h0M261 1981h0M266 2059h0M274 2056h0M209 2067h0M249 2068h0M220 2067h0M254 2070h0M225 2083h0M254 1988h0M243 2005h0M205 2026h0M271 2043h0M210 2016h0M225 2060h0M240 2006h0M225 1992h0M222 2055h0M204 2036h0M240 2053h0M216 2054h0M267 2069h0M206 2031h0M238 2034h0M219 2053h0M279 2056h0M219 2016h0M261 2035h0M225 2062h0M256 2058h0M239 2064h0M231 2003h0M243 1997h0M272 2050h0M206 2036h0M264 2022h0M253 2016h0M241 2030h0M255 2006h0M215 2040h0M230 2045h0M231 1999h0M261 2039h0M261 2022h0M234 2064h0M213 2064h0M255 2030h0M245 2047h0M223 2039h0M224 1993h0M247 2034h0M259 2046h0M260 2052h0M219 2060h0M285 2022h0M213 2049h0M264 2057h0M273 2003h0M252 2044h0M271 2010h0M243 2022h0M239 2028h0M239 1991h0M242 2033h0M238 1986h0M225 2014h0M224 2067h0M266 2027h0M250 2077h0M219 2044h0M229 2067h0M270 2028h0M258 2010h0M209 2051h0M279 2024h0M232 1992h0M280 2010h0M218 2026h0M272 2033h0M242 2032h0M264 2031h0M246 2030h0M219 2062h0M227 1999h0M232 2032h0M261 1997h0M212 2036h0M252 2003h0M215 2036h0M239 1993h0M224 2066h0M218 2057h0M213 2062h0M277 2017h0M225 2048h0M213 2045h0M272 2038h0M250 2028h0M267 2011h0M278 2031h0M235 1993h0M232 2038h0M267 1998h0M239 2013h0M213 2032h0M224 2054h0M201 2044h0M213 1999h0M255 2023h0M246 2006h0M217 2013h0M241 2009h0M232 2009h0M248 2002h0M216 1995h0M242 2033h0M266 2012h0M219 1999h0M262 2015h0M267 2029h0M237 1991h0M226 2052h0M227 2050h0M209 2054h0M283 2049h0M250 2000h0M229 2014h0M246 1989h0M221 2052h0M246 2051h0M263 2003h0M211 2043h0M243 2033h0M223 2058h0M255 2061h0M234 2050h0M241 2006h0M241 1993h0M239 2036h0M259 2004h0M212 2014h0M203 2018h0M285 2034h0M224 2014h0M277 2008h0M240 2030h0M224 2012h0M208 2013h0M269 2062h0M235 2050h0M254 2034h0M239 2063h0M257 2026h0M237 2056h0M228 2012h0M236 2019h0M273 2041h0M240 2018h0M275 2042h0M281 2049h0M237 2017h0M236 2036h0M262 2045h0M272 2001h0M243 1996h0M217 2016h0M227 2006h0M211 2056h0M235 2057h0M224 1991h0M228 2055h0M229 2042h0M219 2063h0M253 2059h0M236 2064h0M244 2019h0M227 2033h0M222 2002h0M246 2050h0M364 1940h0M382 1924h0M371 1923h0M360 1934h0M350 1935h0M378 1937h0M374 1944h0M364 1941h0M383 1936h0M351 1931h0M365 1920h0M367 1939h0M364 1930h0M383 1927h0M356 1932h0M380 1937h0M369 1927h0M381 1939h0M351 1934h0M352 1939h0M375 1926h0M354 1930h0M351 1936h0M363 1920h0M368 1942h0M354 1929h0M385 1933h0M361 1934h0M377 1924h0M367 1920h0M355 1923h0M378 1935h0M376 1942h0M369 1934h0M373 1937h0M355 1930h0M366 1932h0M358 1931h0M372 1934h0M375 1939h0M374 1940h0M376 1942h0M376 1926h0M385 1938h0M381 1938h0M368 1922h0M374 1929h0M365 1919h0M382 1924h0M355 1936h0M375 1925h0M368 1935h0M370 1937h0M377 1929h0M357 1943h0M363 1923h0M377 1937h0M363 1945h0M351 1939h0M367 1935h0M372 1930h0M371 1921h0M364 1945h0M351 1938h0M351 1927h0M378 1928h0M362 1921h0M366 1930h0M362 1921h0M370 1936h0M381 1936h0M382 1940h0M351 1939h0M367 1923h0M373 1941h0M354 1924h0M376 1927h0M383 1934h0M362 1922h0M374 1920h0M356 1923h0M381 1942h0M365 1928h0M375 1942h0M362 1945h0M365 1942h0M349 1932h0M362 1945h0M365 1922h0M385 1928h0M368 1922h0M377 1934h0M364 1928h0M361 1926h0M355 1940h0" stroke="#F5821F" stroke-width="3.9" stroke-linecap="round" fill="none"/>
<path d="M367 1983h0M353 1989h0M357 1992h0M323 2017h0M325 1997h0M331 2001h0M361 1987h0M345 1985h0M361 1990h0M355 1990h0M343 1997h0M320 2006h0M377 1997h0M355 1994h0M344 1987h0M345 1986h0M323 2008h0M313 2013h0M340 1994h0M363 1990h0M341 1993h0M367 1985h0M335 1999h0M344 1985h0M373 1989h0M322 2018h0M323 2007h0M323 2012h0M345 1988h0M327 2002h0M362 1985h0M343 1991h0M327 1991h0M315 2009h0M346 1988h0M347 1994h0M356 1989h0M360 1982h0M364 1987h0M357 1984h0M367 1999h0M356 1987h0M359 1992h0M350 1983h0M372 1997h0M324 2010h0M313 2010h0M338 1989h0M359 1990h0M321 2020h0M318 2005h0M360 1982h0M379 1993h0M376 1992h0M324 1996h0M326 2005h0M345 1991h0M336 1989h0M359 1987h0M320 2013h0M363 1990h0M311 2017h0M322 2012h0M369 1987h0M331 1998h0M326 2003h0M320 2004h0M347 1992h0M348 1993h0M345 1991h0M376 1993h0M315 2008h0M332 1989h0M334 1999h0M363 1986h0M333 2001h0M350 1987h0M330 1989h0M341 1990h0M349 1994h0M331 2002h0M357 1980h0M344 1997h0M326 1995h0M343 1994h0M353 1990h0M357 1986h0M312 2018h0M320 2010h0M348 1993h0M340 1995h0M353 1987h0M377 1997h0M325 2003h0M375 1995h0M351 1992h0M345 1988h0M346 1994h0M361 1990h0M359 1990h0M360 1991h0M368 1995h0M328 1995h0M339 1993h0M373 2001h0M337 1992h0M358 1993h0M332 1997h0M369 1992h0M352 1986h0M360 1985h0M325 2001h0M351 1995h0M341 1998h0M359 1981h0M350 1993h0M368 1987h0M351 1993h0M362 1985h0M369 1989h0M324 1998h0M354 1985h0M329 2009h0M340 1993h0M329 2009h0M316 2017h0M349 1995h0M354 1988h0M333 2001h0M333 2004h0M328 1991h0M370 1989h0M364 1984h0M341 1989h0M328 1996h0M321 1997h0M358 1988h0M366 1992h0M352 1987h0M316 2012h0M343 1987h0M328 2007h0M372 1996h0M333 1989h0M342 1993h0M340 1990h0M366 1998h0M327 2011h0M324 2002h0M358 1981h0M328 2009h0M318 2005h0M375 1987h0M362 1988h0M317 2005h0M347 1988h0M370 1994h0M374 1986h0M373 1996h0M338 1992h0M363 1996h0M324 2010h0M326 1998h0M334 1995h0M374 1985h0M328 2007h0M352 1986h0M374 1992h0M341 1996h0M360 1991h0M351 1986h0M318 2010h0M361 1990h0M368 1995h0M373 2001h0M350 1993h0M341 1989h0M353 1985h0M338 1999h0M339 1998h0M338 1991h0M324 2016h0M322 2009h0M377 1991h0M326 1999h0M339 1984h0M354 1987h0M338 1989h0M378 1993h0M351 1993h0M372 2000h0M327 1996h0M349 1987h0M364 1988h0M324 1995h0M327 2006h0M346 1992h0M355 1992h0M318 2002h0M325 1999h0M367 1992h0M356 1995h0M346 1993h0M360 1985h0M378 1992h0M376 1992h0M325 2009h0M323 2014h0M313 2011h0M357 1993h0M333 2003h0M332 2004h0M332 1995h0M343 1989h0M369 1986h0M323 2017h0M341 1995h0M322 1999h0M323 2004h0M365 1983h0M341 1995h0M353 1992h0M334 1998h0M359 1989h0M371 1993h0M316 2003h0M324 2010h0M362 1990h0M320 2017h0M335 1994h0M348 2016h0M343 2015h0M313 2008h0M323 2013h0M323 2005h0M332 2013h0M329 2013h0M334 2014h0M342 2011h0M336 2015h0M334 2015h0M335 2012h0M332 2013h0M332 2008h0M336 2010h0M348 2012h0M340 2012h0M317 2010h0M345 2011h0M347 2014h0M326 2010h0M328 2010h0M325 2007h0M316 2009h0M324 2009h0M318 2007h0M337 2011h0M315 2008h0M325 2013h0M324 2007h0M327 2009h0M327 2014h0M338 2013h0M334 2015h0M338 2012h0M344 2012h0M319 2012h0M327 2010h0M349 2015h0M347 2009h0M332 2009h0M326 2005h0M320 2012h0M338 2010h0M332 2013h0M344 2018h0M340 2012h0M320 2011h0M350 2013h0M344 2014h0M325 2047h0M322 2040h0M322 2041h0M322 2042h0M322 2040h0M324 2044h0M318 2035h0M323 2046h0M325 2048h0M323 2052h0M322 2040h0M319 2039h0M324 2051h0M322 2040h0M320 2041h0M319 2038h0M323 2050h0M323 2043h0M321 2047h0M322 2041h0M323 2044h0M320 2040h0M143 1951h0M138 1949h0M140 1950h0M138 1949h0M140 1949h0M142 1951h0M227 1992h0M226 1995h0M231 1982h0M228 1985h0" stroke="#2CA02C" stroke-width="3.9" stroke-linecap="round" fill="none"/>
<path d="M114 1974h0M68 1955h0M84 1952h0M84 1963h0M127 1971h0M68 1955h0M74 1945h0M68 1966h0M104 1966h0M68 1964h0M54 1954h0M60 1963h0M107 1955h0M90 1968h0M105 1956h0M102 1957h0M94 1953h0M133 1988h0M138 1970h0M89 1961h0M89 1961h0M95 1959h0M110 1963h0M89 1955h0M104 1973h0M110 1966h0M110 1957h0M96 1963h0M111 1959h0M66 1965h0M110 1979h0M97 1958h0M127 1973h0M78 1959h0M71 1951h0M92 1955h0M129 1965h0M126 1973h0M79 1951h0M90 1958h0M109 1976h0M133 1983h0M90 1946h0M126 1984h0M79 1965h0M147 1978h0M92 1951h0M105 1953h0M77 1962h0M74 1958h0M81 1947h0M112 1973h0M105 1972h0M72 1961h0M86 1952h0M89 1945h0M132 1973h0M105 1951h0M70 1954h0M63 1966h0M103 1971h0M100 1965h0M119 1963h0M124 1962h0M124 1972h0M121 1981h0M125 1976h0M68 1948h0M89 1969h0M107 1977h0M79 1944h0M109 1962h0M105 1971h0M103 1970h0M127 1961h0M106 1968h0M107 1959h0M113 1975h0M66 1947h0M100 1960h0M127 1987h0M114 1963h0M77 1944h0M127 1978h0M125 1972h0M113 1971h0M117 1978h0M73 1954h0M116 1968h0M93 1962h0M112 1971h0M79 1961h0M81 1965h0M109 1972h0M84 1960h0M117 1972h0M70 1949h0M113 1960h0M96 1960h0M110 1962h0M141 1975h0M100 1957h0M89 1948h0M92 1958h0M96 1965h0M99 1954h0M96 1955h0M135 1980h0M102 1957h0M89 1962h0M125 1968h0M101 1965h0M104 1967h0M134 1973h0M71 1951h0M118 1978h0M76 1961h0M89 1966h0M122 1982h0M85 1959h0M78 1958h0M82 1948h0M108 1954h0M86 1950h0M119 1984h0M117 1968h0M102 1965h0M128 1961h0M89 1956h0M129 1977h0M104 1964h0M122 1977h0M118 1971h0M91 1952h0M73 1958h0M115 1980h0M70 1958h0M111 1968h0M126 1976h0M74 1957h0M102 1959h0M96 1970h0M70 1954h0M133 1986h0M71 1955h0M112 1955h0M126 1981h0M87 1965h0M145 1983h0M82 1952h0M109 1970h0M99 1960h0M136 1980h0M124 1971h0M86 1951h0M104 1963h0M100 1950h0M115 1967h0M91 1958h0M127 1977h0M89 1964h0M107 1956h0M106 1962h0M93 1967h0M97 1955h0M92 1948h0M87 1967h0M72 1948h0M133 1978h0M130 1975h0M133 1971h0M117 1970h0M110 1970h0M124 1969h0M92 1952h0M69 1951h0M69 1963h0M136 1979h0M113 1971h0M59 1954h0M125 1988h0M125 1974h0M87 1953h0M120 1975h0M65 1954h0M113 1962h0M137 1984h0M112 1961h0M99 1955h0M96 1949h0M110 1962h0M94 1966h0M79 1944h0M132 1975h0M94 1959h0M91 1959h0M82 1952h0M123 1977h0M63 1953h0M105 1966h0M108 1966h0M121 1972h0M113 1968h0M58 1954h0M93 1962h0M68 1943h0M90 1956h0M122 1971h0M120 1975h0M66 1954h0M116 1972h0M104 1955h0M109 1956h0M143 1975h0M126 1977h0M105 1963h0M118 1975h0M118 1973h0M75 1959h0M108 1965h0M125 1964h0M101 1956h0M117 1969h0M61 1943h0M93 1965h0M125 1970h0M81 1964h0M87 1948h0M74 1955h0M135 1976h0M96 1958h0M140 1973h0M137 1969h0M108 1966h0M105 1962h0M85 1947h0M99 1954h0M80 1952h0M87 1944h0M127 1987h0M136 1969h0M118 1967h0M64 1952h0M138 1979h0M83 1949h0M121 1978h0M141 1985h0M83 1951h0M112 1981h0M87 1954h0M123 1968h0M128 1974h0M95 1969h0M110 1970h0M116 1969h0M70 1964h0M89 1953h0M121 1962h0M115 1974h0M126 1976h0M68 1967h0M85 1964h0M67 1944h0M98 1957h0M123 1968h0M132 1977h0M133 1975h0M120 1970h0M66 1966h0M63 1957h0M113 1973h0M99 1948h0M137 1985h0M115 1983h0M84 1951h0M114 1977h0M118 1966h0M78 1964h0M110 1957h0M80 1953h0M84 1953h0M123 1980h0M115 1978h0M96 1959h0M115 1958h0M121 1965h0M117 1969h0M75 1956h0M65 1958h0M107 1959h0M131 1972h0M107 1967h0M79 1953h0M68 1944h0M127 1975h0M121 1979h0M108 1968h0M82 1961h0M134 1978h0M101 1971h0M100 1965h0M95 1955h0M106 1954h0M99 1951h0M133 1988h0M101 1951h0M91 1962h0M92 1959h0M92 1960h0M106 1956h0M103 1974h0M85 1965h0M135 1975h0M98 1952h0M71 1954h0M83 1946h0M108 1969h0M122 1961h0M112 1973h0M126 1964h0M110 1968h0M131 1975h0M89 1948h0M132 1972h0M86 1957h0M79 1952h0M111 1966h0M82 1948h0M89 1960h0M74 1949h0M86 1959h0M86 1960h0M82 1961h0M106 1957h0M105 1974h0M97 1964h0M98 1956h0M129 1979h0M84 1959h0M88 1952h0M133 1985h0M97 1952h0M90 1947h0M105 1968h0M132 1965h0M85 1968h0M130 1969h0M98 1957h0M78 1959h0M88 1964h0M59 1962h0M53 1956h0M122 1963h0M102 1962h0M109 1959h0M72 1945h0M104 1967h0M102 1952h0M71 1949h0M87 1968h0M103 1963h0M75 1954h0M91 1957h0M80 1949h0M122 1976h0M112 1970h0M76 1944h0M90 1963h0M131 1990h0M103 1967h0M120 1967h0M84 1957h0M75 1955h0M112 1973h0M95 1960h0M79 1955h0M53 1956h0M106 1973h0M94 1961h0M77 1957h0M95 1961h0M67 1952h0M99 1950h0M96 1961h0M110 1973h0M73 1965h0M105 1951h0M83 1965h0M70 1945h0M86 1966h0M136 1970h0M81 1953h0M119 1974h0M134 1991h0M86 1959h0M142 1977h0M104 1951h0M125 1980h0M110 1958h0M130 1983h0M120 1972h0M112 1976h0M106 1972h0M132 1964h0M86 1949h0M126 1983h0M86 1943h0M65 1958h0M108 1958h0M59 1949h0M94 1966h0M83 1946h0M110 1968h0M78 1943h0M133 1981h0M72 1961h0M124 1965h0M70 1956h0M76 1950h0M73 1966h0M121 2003h0M99 1995h0M130 1988h0M123 2011h0M121 1989h0M79 2007h0M89 1998h0M122 2004h0M97 2005h0M141 1999h0M104 2005h0M138 2005h0M142 2007h0M144 1994h0M124 1993h0M85 1996h0M143 1995h0M98 2011h0M146 2007h0M101 2008h0M81 1988h0M81 1996h0M93 2009h0M108 2009h0M111 1997h0M100 1989h0M109 2011h0M145 2011h0M83 1999h0M135 1992h0M81 1993h0M82 2006h0M127 2012h0M80 2005h0M133 1992h0M82 2012h0M132 1990h0M90 2004h0M88 1999h0M87 1990h0M153 2087h0M163 2086h0M160 2088h0M157 2085h0M156 2094h0M156 2080h0M158 2083h0M157 2077h0M172 2091h0M159 2090h0M156 2079h0M165 2090h0M157 2086h0M150 2086h0M170 2087h0M164 2090h0M152 2081h0M153 2087h0M159 2078h0M169 2085h0M167 2094h0M153 2081h0M169 2093h0M165 2088h0M167 2090h0M154 2090h0M170 2084h0M155 2083h0M157 2089h0M168 2086h0M160 2078h0M159 2080h0M158 2088h0M163 2096h0M156 2083h0M154 2085h0M160 2092h0M152 2090h0M167 2083h0M157 2087h0M166 2085h0M161 2086h0M154 2088h0M167 2086h0M154 2086h0M161 2088h0M159 2091h0M170 2091h0M164 2093h0M162 2085h0M152 2086h0M170 2081h0M167 2079h0M164 2095h0M162 2079h0M165 2085h0M168 2083h0M152 2084h0M166 2092h0M164 2086h0M168 2085h0M158 2088h0M170 2083h0M166 2082h0M156 2087h0M153 2082h0M154 2083h0M158 2095h0M167 2087h0M156 2078h0M166 2082h0M170 2084h0M153 2083h0M154 2080h0M168 2083h0M168 2083h0M160 2083h0M158 2082h0M172 2086h0M153 2092h0M170 2092h0M161 2085h0M158 2087h0M166 2086h0M156 2081h0M171 2093h0M154 2083h0M162 2090h0M161 2088h0M165 2092h0M154 2091h0M166 2089h0M152 2085h0M160 2090h0M167 2090h0M154 2092h0M163 2092h0M162 2082h0M174 2088h0M168 2083h0M302 1790h0M305 1797h0M305 1790h0M302 1787h0M304 1801h0M303 1799h0M305 1795h0M303 1799h0M301 1788h0M305 1803h0M302 1794h0M302 1791h0M300 1790h0M303 1794h0M303 1795h0M302 1792h0M267 1880h0M256 1872h0M265 1880h0M266 1881h0M259 1873h0M258 1869h0M273 1882h0M264 1880h0M263 1877h0M265 1876h0M260 1876h0M262 1871h0M266 1881h0M267 1883h0M268 1877h0M264 1879h0M265 1877h0M258 1873h0M182 1960h0M171 1958h0M172 1956h0M166 1956h0M172 1956h0M175 1957h0M177 1959h0M165 1956h0M179 1957h0M184 1959h0M165 1953h0M173 1955h0M174 1957h0M165 1955h0M168 1956h0M170 1955h0M151 2006h0M149 2003h0M155 2006h0M147 2004h0M145 2005h0M150 2004h0M148 2004h0M150 2005h0" stroke="#D62728" stroke-width="3.9" stroke-linecap="round" fill="none"/>
<path d="M606 1773h0M589 1786h0M587 1785h0M585 1790h0M545 1806h0M561 1803h0M616 1772h0M563 1789h0M609 1792h0M584 1796h0M602 1774h0M588 1795h0M577 1782h0M595 1787h0M584 1792h0M588 1791h0M550 1811h0M621 1791h0M586 1792h0M575 1794h0M540 1793h0M545 1790h0M605 1779h0M590 1790h0M560 1788h0M582 1784h0M565 1785h0M572 1795h0M595 1785h0M583 1786h0M593 1789h0M560 1790h0M609 1775h0M570 1788h0M603 1785h0M583 1784h0M561 1802h0M562 1808h0M581 1797h0M560 1799h0M618 1776h0M564 1796h0M557 1792h0M611 1786h0M539 1799h0M613 1797h0M572 1782h0M609 1781h0M563 1797h0M560 1803h0M535 1801h0M553 1792h0M606 1798h0M570 1795h0M563 1800h0M613 1789h0M604 1788h0M608 1789h0M556 1782h0M571 1783h0M555 1802h0M562 1791h0M572 1790h0M610 1777h0M561 1807h0M630 1785h0M567 1800h0M557 1788h0M570 1800h0M611 1789h0M549 1801h0M543 1798h0M623 1778h0M578 1784h0M571 1788h0M585 1780h0M604 1782h0M550 1808h0M601 1774h0M602 1789h0M574 1801h0M602 1782h0M591 1786h0M619 1775h0M626 1793h0M583 1793h0M591 1786h0M617 1784h0M578 1790h0M551 1811h0M616 1783h0M588 1793h0M590 1789h0M606 1792h0M554 1786h0M551 1797h0M554 1798h0M607 1786h0M569 1791h0M599 1784h0M579 1799h0M546 1799h0M611 1794h0M609 1783h0M553 1789h0M543 1800h0M542 1792h0M605 1786h0M617 1792h0M569 1794h0M616 1796h0M556 1796h0M584 1786h0M616 1798h0M589 1784h0M618 1775h0M566 1788h0M628 1776h0M605 1798h0M600 1789h0M553 1810h0M600 1780h0M619 1789h0M576 1802h0M607 1779h0M584 1798h0M591 1800h0M606 1783h0M560 1782h0M598 1785h0M553 1796h0M573 1785h0M597 1787h0M589 1782h0M600 1775h0M542 1803h0M598 1797h0M603 1789h0M567 1802h0M594 1799h0M561 1804h0M628 1780h0M592 1783h0M596 1785h0M579 1800h0M580 1779h0M599 1793h0M541 1795h0M590 1789h0M621 1778h0M544 1793h0M568 1795h0M548 1790h0M576 1782h0M554 1806h0M586 1780h0M571 1782h0M569 1801h0M620 1782h0M602 1783h0M569 1788h0M579 1790h0M555 1810h0M607 1789h0M625 1794h0M596 1781h0M552 1788h0M552 1798h0M569 1789h0M598 1794h0M590 1795h0M547 1800h0M604 1792h0M614 1780h0M590 1791h0M597 1791h0M598 1787h0M602 1789h0M556 1803h0M617 1785h0M541 1804h0M559 1793h0M598 1797h0M557 1811h0M553 1797h0M617 1782h0M590 1779h0M573 1789h0M572 1786h0M604 1794h0M587 1791h0M616 1784h0M567 1798h0M541 1792h0M597 1783h0M597 1783h0M552 1800h0M607 1782h0M601 1790h0M535 1797h0M574 1789h0M552 1791h0M588 1786h0M608 1790h0M549 1805h0M579 1802h0M564 1795h0M573 1782h0M604 1778h0M580 1784h0M555 1809h0M552 1809h0M585 1790h0M573 1790h0M584 1789h0M559 1782h0M568 1797h0M610 1796h0M558 1802h0M578 1787h0M615 1791h0M554 1791h0M567 1793h0M571 1795h0M617 1776h0M605 1778h0M544 1788h0M570 1795h0M559 1806h0M628 1790h0M586 1791h0M564 1789h0M563 1784h0M623 1779h0M578 1783h0M585 1793h0M602 1780h0M599 1787h0M592 1780h0M531 1801h0M547 1804h0M568 1788h0M596 1789h0M589 1793h0M574 1795h0M543 1812h0M619 1788h0M566 1793h0M610 1794h0M561 1790h0M581 1789h0M568 1801h0M595 1801h0M545 1797h0M591 1790h0M569 1792h0M575 1795h0M568 1787h0M605 1775h0M599 1793h0M541 1793h0M621 1775h0M589 1782h0M545 1807h0M606 1782h0M599 1784h0M552 1788h0M572 1784h0M570 1799h0M597 1797h0M543 1794h0M615 1785h0M587 1796h0M584 1792h0M593 1792h0M591 1787h0M552 1798h0M578 1794h0M601 1784h0M599 1788h0M620 1789h0M568 1796h0M550 1794h0M614 1789h0M592 1789h0M613 1790h0M569 1780h0M621 1774h0M584 1792h0M557 1800h0M573 1794h0M609 1794h0M620 1786h0M597 1792h0M615 1794h0M584 1785h0M542 1790h0M566 1798h0M559 1803h0M594 1797h0M586 1782h0M578 1788h0M563 1800h0M590 1797h0M547 1810h0M539 1812h0M596 1790h0M603 1785h0M564 1788h0M563 1786h0M615 1783h0M593 1794h0M575 1782h0M571 1788h0M612 1774h0M577 1791h0M587 1793h0M551 1802h0M603 1791h0M580 1790h0M533 1805h0M596 1794h0M576 1791h0M563 1791h0M554 1789h0M590 1795h0M546 1794h0M567 1801h0M553 1800h0M550 1795h0M553 1797h0M574 1793h0M555 1796h0M553 1802h0M587 1790h0M609 1784h0M602 1792h0M545 1807h0M564 1784h0M569 1786h0M592 1801h0M572 1783h0M572 1790h0M573 1787h0M557 1810h0M593 1789h0M574 1788h0M624 1790h0M619 1770h0M564 1784h0M602 1774h0M571 1782h0M613 1793h0M610 1774h0M558 1803h0M603 1790h0M554 1804h0M582 1776h0M571 1801h0M598 1784h0M549 1802h0M574 1803h0M617 1797h0M608 1792h0M615 1777h0M592 1781h0M583 1793h0M600 1796h0M574 1785h0M547 1794h0M550 1797h0M609 1777h0M573 1788h0M555 1784h0M592 1802h0M606 1793h0M546 1795h0M604 1774h0M586 1791h0M598 1790h0M633 1837h0M625 1834h0M627 1834h0M621 1824h0M613 1821h0M615 1823h0M616 1819h0M621 1829h0M614 1823h0M615 1826h0M623 1832h0M633 1836h0M618 1828h0M617 1825h0M617 1823h0M635 1834h0M632 1836h0M620 1822h0M621 1827h0M633 1833h0M619 1828h0M623 1832h0M627 1834h0M636 1840h0M625 1836h0M633 1833h0M640 1834h0M617 1825h0M615 1821h0M620 1834h0M614 1816h0M615 1830h0M621 1824h0M616 1826h0M621 1835h0M634 1834h0M631 1838h0M613 1826h0M640 1840h0M618 1828h0M564 1826h0M572 1824h0M584 1828h0M575 1820h0M586 1814h0M554 1824h0M582 1823h0M587 1813h0M590 1821h0M593 1820h0M590 1810h0M560 1820h0M581 1817h0M556 1826h0M556 1826h0" stroke="#8C564B" stroke-width="3.9" stroke-linecap="round" fill="none"/>
<path d="M517 1929h0M492 1896h0M501 1916h0M486 1900h0M487 1899h0M545 1921h0M509 1933h0M491 1912h0M502 1875h0M481 1922h0M486 1930h0M510 1908h0M551 1904h0M493 1892h0M484 1913h0M498 1913h0M471 1897h0M562 1908h0M510 1924h0M521 1928h0M479 1916h0M481 1915h0M558 1919h0M486 1911h0M528 1890h0M521 1885h0M542 1919h0M508 1916h0M564 1901h0M465 1908h0M499 1889h0M540 1920h0M529 1928h0M493 1896h0M521 1874h0M460 1907h0M507 1904h0M483 1907h0M545 1893h0M532 1901h0M509 1905h0M555 1911h0M536 1906h0M465 1915h0M513 1905h0M499 1879h0M546 1926h0M547 1881h0M530 1884h0M507 1894h0M494 1890h0M498 1917h0M554 1917h0M513 1901h0M506 1903h0M493 1900h0M540 1899h0M487 1901h0M516 1902h0M505 1916h0M512 1885h0M531 1891h0M537 1918h0M529 1909h0M473 1900h0M517 1915h0M478 1901h0M469 1906h0M515 1905h0M556 1914h0M507 1893h0M499 1917h0M542 1895h0M509 1896h0M535 1907h0M491 1888h0M546 1883h0M485 1877h0M561 1896h0M540 1913h0M538 1922h0M498 1903h0M544 1913h0M489 1890h0M471 1908h0M498 1879h0M495 1909h0M519 1899h0M518 1915h0M478 1890h0M543 1916h0M473 1892h0M553 1915h0M508 1921h0M547 1923h0M477 1885h0M496 1902h0M502 1908h0M551 1919h0M545 1903h0M557 1910h0M521 1903h0M478 1926h0M512 1920h0M564 1901h0M480 1920h0M521 1887h0M544 1904h0M494 1875h0M482 1910h0M482 1919h0M563 1907h0M520 1902h0M541 1904h0M541 1925h0M539 1887h0M535 1899h0M523 1920h0M491 1907h0M553 1891h0M507 1917h0M506 1921h0M486 1881h0M525 1901h0M523 1920h0M546 1897h0M503 1876h0M482 1908h0M519 1880h0M539 1903h0M547 1897h0M541 1886h0M467 1892h0M536 1911h0M464 1905h0M531 1928h0M538 1912h0M469 1909h0M464 1899h0M501 1886h0M481 1901h0M532 1892h0M523 1916h0M512 1931h0M503 1890h0M468 1917h0M535 1900h0M523 1901h0M541 1903h0M520 1902h0M493 1876h0M529 1883h0M526 1915h0M559 1893h0M518 1920h0M491 1893h0M524 1931h0M545 1919h0M483 1915h0M544 1884h0M513 1900h0M530 1878h0M536 1903h0M506 1875h0M463 1896h0M534 1911h0M533 1879h0M519 1926h0M470 1913h0M489 1913h0M516 1878h0M484 1923h0M510 1924h0M524 1919h0M500 1907h0M501 1919h0M495 1922h0M552 1887h0M507 1913h0M555 1918h0M515 1877h0M540 1893h0M519 1911h0M475 1919h0M542 1913h0M533 1910h0M472 1895h0M539 1898h0M514 1910h0M516 1908h0M529 1903h0M478 1899h0M543 1892h0M528 1909h0M496 1874h0M512 1889h0M493 1919h0M488 1910h0M517 1907h0M551 1883h0M544 1901h0M504 1891h0M514 1904h0M489 1927h0M489 1901h0M474 1906h0M524 1922h0M544 1895h0M557 1902h0M548 1925h0M500 1885h0M529 1926h0M525 1922h0M532 1919h0M552 1899h0M471 1901h0M489 1884h0M507 1916h0M472 1885h0M538 1888h0M501 1925h0M548 1909h0M523 1874h0M531 1910h0M472 1906h0M528 1901h0M537 1918h0M515 1899h0M480 1921h0M494 1909h0M554 1915h0M474 1902h0M494 1879h0M487 1914h0M524 1900h0M518 1884h0M488 1900h0M539 1898h0M508 1909h0M550 1886h0M530 1907h0M511 1908h0M463 1904h0M506 1883h0M540 1901h0M502 1917h0M484 1891h0M538 1918h0M562 1897h0M477 1883h0M476 1905h0M505 1891h0M482 1892h0M502 1923h0M531 1925h0M538 1916h0M549 1911h0M552 1919h0M560 1906h0M497 1932h0M504 1913h0M500 1891h0M526 1884h0M508 1926h0M517 1918h0M534 1910h0M516 1914h0M482 1913h0M480 1891h0M495 1882h0M464 1909h0M529 1915h0M563 1906h0M536 1890h0M534 1885h0M559 1891h0M499 1917h0M467 1919h0M482 1907h0M544 1906h0M542 1895h0M527 1875h0M554 1893h0M485 1904h0M557 1893h0M512 1897h0M486 1883h0M532 1916h0M488 1907h0M527 1910h0M508 1904h0M521 1885h0M508 1918h0M496 1925h0M505 1884h0M504 1881h0M529 1879h0M513 1899h0M503 1911h0M522 1893h0M539 1895h0M538 1924h0M525 1920h0M474 1912h0M470 1901h0M526 1874h0M488 1890h0M482 1904h0M532 1884h0M497 1877h0M496 1876h0M470 1911h0M540 1890h0M524 1890h0M539 1927h0M462 1894h0M492 1895h0M549 1923h0M512 1915h0M468 1899h0M503 1901h0M521 1879h0M489 1930h0M466 1904h0M536 1912h0M514 1878h0M499 1879h0M561 1908h0M536 1907h0M501 1923h0M540 1914h0M531 1916h0M503 1911h0M515 1899h0M528 1931h0M469 1920h0M499 1923h0M480 1900h0M545 1902h0M523 1883h0M484 1926h0M517 1902h0M475 1888h0M480 1902h0M509 1892h0M490 1905h0M544 1883h0M475 1920h0M471 1897h0M516 1930h0M481 1879h0M510 1922h0M517 1889h0M517 1875h0M535 1926h0M506 1918h0M484 1925h0M492 1889h0M493 1878h0M529 1930h0M471 1900h0M527 1893h0M469 1908h0M544 1905h0M479 1898h0M464 1903h0M546 1920h0M510 1911h0M495 1906h0M493 1906h0M495 1907h0M535 1903h0M474 1911h0M504 1894h0M531 1889h0M542 1913h0M490 1891h0M509 1887h0M533 1876h0M517 1897h0M479 1914h0M497 1912h0M498 1898h0M529 1920h0M544 1903h0M555 1898h0M481 1880h0M473 1890h0M466 1908h0M513 1903h0M520 1901h0M504 1898h0M514 1884h0M545 1925h0M513 1932h0M483 1918h0M469 1912h0M490 1920h0M516 1920h0M532 1913h0M505 1928h0M524 1912h0M554 1899h0M555 1918h0M515 1880h0M550 1898h0M515 1905h0M542 1914h0M466 1894h0M524 1906h0M538 1913h0M556 1893h0M551 1910h0M522 1916h0M502 1916h0M506 1916h0M490 1923h0M471 1893h0M511 1908h0M487 1896h0M521 1922h0M551 1896h0M510 1898h0M470 1896h0M543 1883h0M563 1913h0M559 1906h0M462 1909h0M556 1895h0M549 1915h0M537 1916h0M532 1915h0M549 1910h0M533 1911h0M517 1888h0M469 1890h0M481 1883h0M535 1897h0M533 1932h0M538 1895h0M525 1900h0M520 1931h0M552 1921h0M520 1930h0M538 1918h0M478 1893h0M518 1900h0M500 1876h0M488 1901h0M522 1885h0M509 1930h0M517 1876h0M507 1903h0M551 1907h0M553 1909h0M544 1923h0M556 1906h0M522 1934h0M475 1907h0M528 1891h0M540 1901h0M539 1907h0M485 1921h0M559 1915h0M520 1878h0M523 1903h0M493 1877h0M527 1920h0M529 1931h0M465 1908h0M512 1927h0M512 1886h0M511 1911h0M490 1890h0M521 1919h0M505 1912h0M496 1897h0M519 1921h0M557 1901h0M524 1931h0M540 1897h0M525 1881h0M464 1894h0M492 1882h0M545 1896h0M515 1905h0M506 1883h0M550 1882h0M512 1916h0M507 1902h0M523 1908h0M502 1922h0M527 1927h0M515 1876h0M468 1896h0M525 1879h0M496 1924h0M524 1891h0M510 1905h0M499 1898h0M492 1907h0M550 1923h0M487 1930h0M509 1880h0M470 1906h0M521 1892h0M487 1900h0M521 1916h0M525 1875h0M494 1908h0M525 1918h0M478 1924h0M476 1900h0M498 1895h0M489 1918h0M538 1910h0M476 1893h0M511 1911h0M495 1899h0M565 1904h0M563 1882h0M551 1929h0M589 1891h0M590 1911h0M547 1920h0M551 1903h0M569 1911h0M556 1913h0M568 1911h0M579 1898h0M534 1907h0M600 1913h0M575 1896h0M542 1891h0M544 1902h0M531 1906h0M532 1917h0M568 1885h0M553 1912h0M579 1920h0M559 1906h0M562 1917h0M549 1905h0M572 1903h0M543 1926h0M582 1894h0M608 1899h0M545 1902h0M581 1929h0M602 1916h0M570 1919h0M547 1897h0M583 1911h0M575 1892h0M575 1888h0M594 1908h0M551 1901h0M599 1928h0M551 1927h0M525 1918h0M569 1912h0M546 1890h0M575 1901h0M582 1924h0M565 1917h0M573 1912h0M554 1912h0M580 1909h0M557 1888h0M545 1928h0M595 1913h0M576 1906h0M586 1923h0M562 1913h0M590 1888h0M543 1899h0M538 1902h0M545 1902h0M581 1891h0M571 1928h0M573 1890h0M553 1925h0M561 1898h0M589 1897h0M540 1917h0M569 1898h0M581 1925h0M597 1910h0M581 1916h0M539 1927h0M550 1899h0M547 1894h0M597 1908h0M556 1885h0M573 1907h0M541 1907h0M529 1916h0M537 1915h0M570 1883h0M540 1898h0M590 1917h0M583 1930h0M561 1900h0M530 1896h0M584 1895h0M546 1922h0M528 1921h0M594 1888h0M581 1908h0M593 1903h0M565 1928h0M552 1915h0M586 1906h0M592 1916h0M586 1887h0M541 1913h0M594 1926h0M569 1896h0M547 1886h0M555 1917h0M567 1887h0M566 1909h0M551 1928h0M580 1925h0M571 1893h0M594 1923h0M554 1889h0M590 1899h0M538 1907h0M583 1896h0M569 1924h0M586 1887h0M584 1930h0M593 1907h0M577 1886h0M553 1900h0M611 1908h0M548 1929h0M594 1888h0M564 1885h0M587 1884h0M606 1896h0M549 1931h0M583 1914h0M590 1894h0M592 1904h0M583 1912h0M598 1892h0M535 1917h0M611 1914h0M564 1919h0M537 1909h0M529 1910h0M584 1930h0M555 1923h0M599 1894h0M562 1884h0M545 1915h0M526 1904h0M585 1928h0M524 1912h0M557 1883h0M542 1917h0M568 1919h0M560 1919h0M544 1894h0M565 1885h0M600 1904h0M544 1895h0M543 1910h0M559 1922h0M538 1907h0M532 1902h0M602 1906h0M592 1907h0M541 1895h0M539 1913h0M572 1935h0M604 1919h0M542 1910h0M552 1933h0M550 1925h0M536 1919h0M537 1901h0M573 1910h0M567 1907h0M545 1906h0M567 1893h0M584 1911h0M550 1927h0M556 1884h0M600 1903h0M603 1914h0M547 1924h0M581 1922h0M569 1930h0M593 1903h0M532 1907h0M570 1893h0M564 1929h0M556 1925h0M545 1894h0M593 1905h0M574 1924h0M602 1893h0M584 1912h0M571 1932h0M562 1899h0M579 1884h0M578 1894h0M577 1896h0M582 1904h0M549 1917h0M585 1887h0M536 1904h0M559 1927h0M605 1915h0M597 1903h0M534 1913h0M536 1926h0M575 1926h0M554 1886h0M563 1916h0M562 1900h0M570 1905h0M598 1891h0M525 1907h0M575 1887h0M567 1915h0M577 1913h0M551 1888h0M594 1903h0M540 1927h0M580 1882h0M613 1910h0M533 1920h0M577 1927h0M568 1885h0M564 1901h0M576 1905h0M582 1890h0M553 1900h0M578 1885h0M568 1934h0M531 1921h0M571 1924h0M570 1912h0M578 1915h0M537 1906h0M603 1924h0M547 1894h0M564 1925h0M592 1899h0M524 1908h0M534 1923h0M603 1917h0M584 1917h0M605 1921h0M600 1893h0M554 1908h0M525 1905h0M568 1907h0M613 1906h0M563 1906h0M560 1888h0M597 1908h0M578 1909h0M551 1887h0M560 1917h0M565 1920h0M547 1903h0M572 1907h0M572 1929h0M557 1910h0M550 1917h0M574 1896h0M544 1891h0M561 1910h0M555 1906h0M571 1934h0M588 1932h0M572 1911h0M609 1913h0M586 1900h0M554 1920h0M552 1897h0M532 1912h0M566 1917h0M547 1890h0M597 1908h0M588 1891h0M547 1884h0M576 1924h0M594 1928h0M531 1895h0M554 1895h0M562 1895h0M532 1907h0M571 1896h0M569 1889h0M559 1903h0M556 1907h0M540 1891h0M546 1919h0M544 1894h0M610 1905h0M558 1894h0M603 1915h0M574 1930h0M543 1888h0M597 1915h0M554 1921h0M566 1932h0M536 1913h0M593 1921h0M558 1902h0M556 1919h0M557 1906h0M595 1906h0M574 1906h0M568 1882h0M543 1914h0M551 1898h0M569 1934h0M548 1893h0M528 1914h0M566 1894h0M557 1923h0M595 1914h0M596 1922h0M556 1921h0M572 1920h0M573 1933h0M536 1913h0M549 1932h0M554 1902h0M567 1907h0M607 1907h0M574 1925h0M602 1895h0M576 1888h0M580 1928h0M554 1903h0M598 1915h0M590 1901h0M559 1902h0M599 1890h0M556 1929h0M566 1891h0M574 1905h0M565 1916h0M586 1888h0M573 1929h0M534 1907h0M539 1918h0M545 1903h0M556 1915h0M540 1890h0M573 1928h0M554 1915h0M575 1910h0M567 1899h0M562 1926h0M579 1927h0M548 1910h0M552 1889h0M592 1903h0M574 1887h0M561 1906h0M558 1924h0M580 1910h0M574 1901h0M548 1903h0M541 1905h0M565 1925h0M560 1934h0M554 1910h0M567 1898h0M566 1884h0M596 1899h0M567 1884h0M582 1889h0M599 1894h0M548 1919h0M592 1886h0M536 1926h0M578 1887h0M556 1919h0M559 1929h0M548 1911h0M593 1927h0M574 1918h0M559 1907h0M552 1914h0M589 1893h0M537 1909h0M610 1911h0M571 1907h0M531 1899h0M594 1886h0M604 1894h0M596 1930h0M604 1906h0M584 1899h0M555 1911h0M523 1913h0M560 1891h0M560 1919h0M547 1914h0M534 1909h0M539 1919h0M541 1917h0M526 1910h0M595 1896h0M569 1894h0M581 1920h0M594 1926h0M599 1897h0M571 1917h0M572 1888h0M596 1929h0M569 1881h0M608 1905h0M608 1897h0M582 1921h0M533 1903h0M581 1919h0M574 1882h0M524 1912h0M599 1890h0M578 1923h0M547 1887h0M575 1901h0M565 1905h0M565 1913h0M553 1907h0M553 1894h0M577 1894h0M582 1907h0M595 1917h0M526 1908h0M586 1910h0M569 1925h0M584 1888h0M570 1924h0M572 1888h0M588 1918h0M598 1911h0M571 1922h0M545 1929h0M579 1912h0M588 1920h0M527 1918h0M565 1895h0M590 1922h0M578 1898h0M570 1892h0M611 1901h0M587 1929h0M545 1899h0M524 1905h0M534 1910h0M562 1908h0M569 1900h0M570 1907h0M548 1903h0M554 1889h0M567 1884h0M582 1907h0M572 1926h0M562 1929h0M552 1942h0M544 1935h0M553 1925h0M551 1930h0M542 1936h0M557 1926h0M542 1931h0M530 1935h0M543 1927h0M562 1932h0M527 1932h0M543 1935h0M575 1936h0M569 1931h0M554 1936h0M545 1934h0M538 1938h0M534 1944h0M518 1928h0M544 1935h0M548 1921h0M553 1926h0M549 1929h0M542 1922h0M525 1928h0M528 1934h0M524 1934h0M555 1927h0M530 1930h0M558 1942h0M575 1933h0M556 1934h0M546 1924h0M540 1941h0M568 1928h0M527 1943h0M547 1936h0M544 1921h0M551 1925h0M541 1928h0M543 1946h0M564 1922h0M523 1929h0M535 1939h0M570 1927h0M556 1931h0M521 1939h0M571 1927h0M557 1929h0M545 1929h0M544 1933h0M536 1935h0M526 1938h0M534 1921h0M560 1930h0M537 1940h0M546 1945h0M553 1922h0M538 1927h0M542 1944h0M572 1940h0M554 1937h0M548 1920h0M563 1944h0M538 1932h0M534 1931h0M532 1924h0M561 1921h0M562 1924h0M543 1920h0M557 1925h0M574 1928h0M550 1938h0M530 1926h0M528 1937h0M551 1941h0M525 1926h0M544 1929h0M551 1941h0M548 1926h0M545 1927h0M537 1944h0M556 1944h0M543 1932h0M525 1934h0M558 1938h0M527 1933h0M562 1929h0M558 1929h0M571 1851h0M555 1869h0M579 1848h0M570 1851h0M592 1856h0M581 1851h0M594 1863h0M519 1875h0M575 1869h0M539 1853h0M560 1872h0M570 1868h0M503 1861h0M526 1863h0M563 1865h0M497 1856h0M525 1859h0M525 1852h0M519 1861h0M584 1853h0M592 1867h0M585 1874h0M571 1875h0M516 1866h0M533 1852h0M524 1866h0M510 1850h0M580 1871h0M500 1853h0M497 1863h0M594 1851h0M554 1860h0M569 1865h0M569 1850h0M593 1871h0M508 1847h0M577 1870h0M535 1875h0M559 1862h0M501 1861h0M652 1860h0M664 1864h0M654 1855h0M658 1855h0M657 1862h0M652 1853h0M650 1854h0M670 1868h0M657 1863h0M653 1862h0M654 1862h0M665 1866h0M652 1858h0M659 1858h0M651 1854h0M649 1857h0M648 1861h0M661 1862h0M661 1858h0M661 1864h0M650 1860h0M662 1862h0M661 1856h0M655 1859h0M664 1860h0M646 1858h0M665 1862h0M668 1866h0M653 1863h0M651 1853h0M656 1862h0M647 1857h0M659 1859h0M656 1857h0M565 1952h0M565 1961h0M553 1953h0M550 1956h0M564 1956h0M547 1958h0M551 1954h0M552 1951h0M548 1956h0M560 1953h0M563 1953h0M564 1957h0M561 1951h0M551 1955h0M550 1957h0M558 1951h0M551 1953h0M549 1957h0M552 1953h0M562 1951h0M563 1954h0M563 1951h0M600 1831h0M609 1836h0M605 1834h0M606 1835h0M610 1833h0M602 1830h0M610 1833h0M603 1830h0M600 1833h0M614 1832h0M594 1968h0M588 1969h0M583 1973h0M601 1961h0M591 1970h0M596 1974h0M616 1885h0M617 1886h0M620 1879h0M630 1867h0M620 1872h0M609 1886h0" stroke="#1F77B4" stroke-width="3.9" stroke-linecap="round" fill="none"/>
<path d="M729 1857h0M707 1879h0M716 1876h0M727 1855h0M723 1855h0M715 1864h0M718 1870h0M718 1859h0M726 1871h0M707 1894h0M718 1858h0M728 1868h0M704 1893h0M718 1858h0M714 1872h0M719 1868h0M736 1843h0M696 1888h0M735 1850h0M722 1875h0M728 1871h0M723 1876h0M707 1884h0M726 1867h0M702 1892h0M712 1887h0M699 1892h0M726 1853h0M722 1850h0M731 1857h0M729 1865h0M710 1889h0M732 1854h0M709 1877h0M709 1873h0M720 1885h0M706 1885h0M732 1846h0M714 1880h0M738 1841h0M720 1851h0M706 1875h0M727 1847h0M697 1889h0M710 1884h0M703 1898h0M700 1900h0M709 1882h0M729 1870h0M702 1896h0M719 1860h0M712 1883h0M725 1857h0M707 1893h0M705 1880h0M719 1885h0M724 1860h0M722 1870h0M727 1859h0M733 1852h0M728 1866h0M727 1870h0M709 1887h0M698 1881h0M712 1880h0M724 1876h0M693 1894h0M697 1884h0M696 1884h0M728 1859h0M731 1848h0M711 1878h0M702 1880h0M715 1887h0M706 1888h0M704 1894h0M704 1896h0M735 1840h0M723 1865h0M710 1877h0M727 1853h0M698 1886h0M718 1867h0M732 1850h0M724 1867h0M723 1877h0M721 1867h0M733 1843h0M715 1881h0M721 1855h0M717 1871h0M718 1864h0M724 1857h0M724 1857h0M718 1858h0M730 1847h0M713 1888h0M729 1844h0M736 1856h0M726 1874h0M728 1860h0M701 1892h0M724 1861h0M721 1870h0M698 1885h0M727 1847h0M724 1860h0M712 1871h0M701 1889h0M725 1878h0M700 1883h0M710 1888h0M725 1846h0M718 1867h0M721 1847h0M723 1863h0M697 1897h0M719 1884h0M715 1882h0M717 1871h0M721 1851h0M725 1853h0M723 1870h0M730 1863h0M734 1842h0M717 1878h0M730 1856h0M721 1857h0M700 1893h0M734 1854h0M703 1882h0M715 1867h0M715 1882h0M709 1889h0M708 1892h0M722 1856h0M710 1894h0M694 1896h0M717 1883h0M727 1853h0M732 1850h0M700 1888h0M714 1878h0M730 1849h0M718 1873h0M721 1872h0M721 1863h0M727 1851h0M701 1889h0M727 1853h0M712 1890h0M719 1865h0M732 1858h0M721 1851h0M735 1851h0M707 1887h0M725 1850h0M724 1870h0M730 1866h0M710 1877h0M721 1868h0M721 1870h0M721 1848h0M716 1870h0M702 1892h0M725 1871h0M714 1876h0M712 1884h0M735 1861h0M731 1865h0M709 1881h0M696 1898h0M707 1884h0M723 1871h0M720 1848h0M708 1886h0M710 1880h0M726 1867h0M717 1863h0M707 1884h0M714 1888h0M714 1868h0M709 1878h0M707 1894h0M725 1857h0M720 1877h0M735 1856h0M699 1894h0M716 1873h0M703 1892h0M708 1888h0M711 1875h0M700 1890h0M718 1874h0M727 1861h0M715 1874h0M731 1861h0M712 1878h0M720 1868h0M693 1888h0M705 1890h0M729 1860h0M727 1860h0M702 1881h0M710 1893h0M704 1884h0M728 1869h0M736 1852h0M714 1877h0M729 1860h0M729 1864h0M707 1897h0M727 1839h0M724 1854h0M719 1867h0M706 1886h0M732 1856h0M728 1850h0M720 1880h0M704 1890h0M737 1852h0M726 1851h0M728 1859h0M702 1898h0M735 1853h0M727 1869h0M701 1888h0M734 1840h0M730 1861h0M726 1853h0M714 1881h0M725 1869h0M721 1867h0M726 1859h0M733 1854h0M719 1877h0M705 1885h0M736 1859h0M719 1865h0M726 1860h0M732 1868h0M729 1852h0M726 1858h0M711 1881h0M724 1858h0M720 1873h0M711 1872h0M736 1848h0M725 1865h0M725 1871h0M712 1888h0M713 1871h0M726 1847h0M707 1896h0M700 1887h0M719 1871h0M723 1856h0M719 1872h0M732 1860h0M716 1870h0M728 1853h0M722 1849h0M722 1860h0M723 1867h0M728 1846h0M725 1871h0M711 1893h0M730 1848h0M717 1879h0M718 1879h0M733 1841h0M731 1846h0M713 1880h0M724 1862h0M722 1854h0M716 1877h0M723 1845h0M729 1846h0M713 1884h0M704 1895h0M712 1877h0M729 1851h0M725 1861h0M713 1871h0M722 1853h0M696 1889h0M712 1870h0M722 1858h0M704 1882h0M703 1893h0M731 1863h0M725 1863h0M714 1888h0M698 1888h0M728 1852h0M700 1891h0M710 1874h0M725 1849h0M708 1892h0M721 1860h0M719 1863h0M727 1850h0M723 1863h0M723 1861h0M705 1893h0M708 1878h0M725 1855h0M710 1883h0M714 1886h0M697 1881h0M724 1870h0M721 1864h0M725 1854h0M733 1861h0M726 1862h0M714 1873h0M720 1867h0M731 1859h0M724 1868h0M708 1884h0M710 1885h0M720 1870h0M695 1895h0M730 1854h0M721 1845h0M705 1895h0M714 1884h0M733 1849h0M729 1850h0M706 1881h0M705 1890h0M713 1876h0M732 1849h0M729 1865h0M718 1881h0M692 1895h0M705 1892h0M703 1885h0M713 1887h0M717 1875h0M669 1872h0M673 1844h0M642 1837h0M667 1836h0M649 1865h0M658 1876h0M646 1866h0M661 1846h0M686 1891h0M689 1850h0M640 1877h0M686 1855h0M654 1884h0M668 1870h0M676 1866h0M682 1868h0M677 1835h0M664 1890h0M664 1877h0M667 1891h0M643 1851h0M647 1888h0M690 1846h0M654 1849h0M670 1878h0M652 1885h0M662 1865h0M658 1862h0M641 1836h0M689 1852h0M657 1894h0M655 1840h0M684 1859h0M673 1852h0M645 1848h0M679 1867h0M673 1879h0M669 1876h0M649 1845h0M662 1886h0M650 1882h0M682 1879h0M644 1842h0M681 1848h0M640 1870h0M675 1885h0M676 1871h0M658 1891h0M653 1862h0M645 1870h0M675 1866h0M658 1837h0M672 1837h0M679 1872h0M684 1875h0M679 1851h0M688 1870h0M667 1858h0M683 1873h0M668 1872h0M727 1832h0M727 1838h0M726 1830h0M720 1822h0M723 1824h0M726 1838h0M726 1830h0M723 1824h0M725 1832h0M722 1824h0" stroke="#E377C2" stroke-width="3.9" stroke-linecap="round" fill="none"/>
<path d="M613 1952h0M649 1952h0M596 1944h0M627 1954h0M601 1944h0M628 1961h0M637 1969h0M612 1942h0M617 1958h0M654 1951h0M628 1934h0M610 1968h0M624 1969h0M641 1941h0M630 1934h0M638 1947h0M638 1966h0M615 1962h0M634 1940h0M630 1967h0M628 1965h0M631 1967h0M623 1944h0M634 1925h0M618 1969h0M616 1970h0M651 1942h0M611 1956h0M638 1969h0M650 1939h0M642 1941h0M645 1956h0M650 1948h0M639 1931h0M608 1957h0M627 1963h0M655 1942h0M607 1935h0M615 1966h0M633 1944h0M639 1946h0M631 1949h0M605 1960h0M628 1972h0M628 1939h0M629 1937h0M625 1943h0M632 1934h0M623 1942h0M607 1948h0M639 1961h0M632 1947h0M644 1945h0M636 1927h0M605 1938h0M647 1945h0M634 1932h0M613 1970h0M646 1967h0M626 1938h0M631 1945h0M621 1924h0M629 1924h0M618 1928h0M651 1935h0M618 1956h0M619 1953h0M643 1939h0M637 1947h0M603 1953h0M609 1963h0M626 1952h0M644 1936h0M614 1967h0M640 1956h0M598 1949h0M608 1939h0M606 1931h0M617 1956h0M615 1946h0M627 1968h0M614 1951h0M657 1948h0M640 1932h0M607 1942h0M657 1943h0M650 1942h0M610 1928h0M629 1965h0M610 1942h0M607 1938h0M645 1940h0M607 1958h0M632 1948h0M655 1952h0M644 1932h0M625 1967h0M640 1963h0M601 1945h0M648 1964h0M600 1935h0M648 1960h0M639 1926h0M628 1962h0M647 1935h0M645 1960h0M618 1969h0M647 1961h0M616 1954h0M626 1970h0M655 1940h0M654 1954h0M613 1937h0M652 1953h0M612 1945h0M618 1946h0M653 1940h0M623 1924h0M636 1963h0M655 1941h0M620 1942h0M604 1949h0M610 1945h0M629 1961h0M627 1972h0M633 1958h0M637 1947h0M645 1951h0M603 1941h0M646 1931h0M654 1950h0M631 1967h0M631 1940h0M598 1942h0M606 1959h0M628 1933h0M646 1961h0M656 1951h0M604 1950h0M641 1962h0M603 1955h0M640 1955h0M600 1942h0M624 1945h0M644 1942h0M606 1929h0M636 1935h0M626 1966h0M615 1948h0M605 1934h0M637 1965h0M613 1945h0M634 1941h0M628 1941h0M639 1940h0M618 1929h0M614 1929h0M624 1964h0M605 1937h0M611 1956h0M620 1943h0M608 1944h0M619 1935h0M651 1955h0M623 1954h0M655 1955h0M615 1948h0M648 1955h0M620 1950h0M605 1943h0M618 1944h0M651 1949h0M648 1948h0M604 1963h0M615 1946h0M644 1966h0M629 1967h0M616 1959h0M610 1962h0M615 1959h0M608 1966h0M653 1945h0M628 1933h0M623 1928h0M642 1947h0M648 1948h0M622 1935h0M640 1946h0M609 1930h0M646 1947h0M625 1939h0M615 1948h0M630 1930h0M655 1957h0M598 1949h0M647 1939h0M603 1956h0M613 1948h0M653 1948h0M649 1938h0M599 1943h0M618 1959h0M633 1925h0M606 1942h0M612 1938h0M619 1951h0M603 1936h0M611 1965h0M624 1928h0M636 1963h0M603 1934h0M636 1949h0M636 1969h0M639 1963h0M618 1967h0M612 1954h0M598 1943h0M641 1934h0M620 1925h0M620 1929h0M628 1940h0M612 1943h0M617 1948h0M621 1965h0M638 1926h0M650 1945h0M633 1934h0M639 1957h0M616 1931h0M637 1955h0M615 1926h0M606 1954h0M647 1935h0M616 1932h0M634 1935h0M653 1955h0M622 1941h0M646 1942h0M618 1950h0M643 1966h0M620 1930h0M608 1945h0M634 1924h0M640 1955h0M630 1928h0M629 1939h0M609 1957h0M649 1951h0M638 1963h0M627 1941h0M651 1940h0M620 1954h0M619 1933h0M648 1948h0M613 1939h0M638 1961h0M631 1965h0M627 1969h0M642 1932h0M625 1954h0M627 1932h0M637 1947h0M605 1933h0M619 1962h0M626 1951h0M645 1944h0M627 1947h0M644 1938h0M635 1936h0M629 1965h0M611 1956h0M629 1952h0M638 1949h0M634 1970h0M615 1932h0M642 1954h0M654 1941h0M641 1939h0M617 1938h0M612 1934h0M620 1945h0M628 1961h0M609 1946h0M611 1960h0M609 1942h0M613 1963h0M608 1933h0M619 1942h0M611 1964h0M620 1925h0M624 1929h0M614 1940h0M610 1941h0M619 1958h0M656 1941h0M619 1965h0M652 1957h0M623 1971h0M629 1966h0M618 1930h0M691 1971h0M671 1948h0M695 1974h0M696 1970h0M679 1939h0M693 1964h0M685 1944h0M692 1949h0M694 1990h0M683 1956h0M690 1952h0M663 1943h0M682 1948h0M687 1962h0M678 1945h0M663 1934h0M675 1961h0M662 1932h0M670 1936h0M675 1946h0M672 1925h0M675 1945h0M658 1924h0M697 1988h0M670 1936h0M696 1979h0M664 1936h0M670 1936h0M694 1961h0M690 1964h0M671 1927h0M689 1955h0M695 1988h0M674 1944h0M667 1944h0M662 1925h0M681 1943h0M682 1955h0M690 1954h0M687 1987h0M695 1984h0M669 1940h0M690 1984h0M684 1978h0M686 1950h0M692 1988h0M661 1917h0M692 1978h0M685 1971h0M687 1972h0M682 1955h0M678 1950h0M686 1983h0M664 1944h0M672 1944h0M675 1956h0M698 1988h0M686 1968h0M680 1932h0M678 1964h0M692 1982h0M695 1964h0M694 1974h0M687 1950h0M666 1932h0M673 1924h0M686 1957h0M669 1936h0M660 1936h0M654 1924h0M679 1942h0M690 1965h0M677 1947h0M656 1929h0M672 1935h0M674 1955h0M690 1959h0M671 1942h0M665 1938h0M674 1929h0M684 1977h0M689 1954h0M681 1974h0M687 1977h0M682 1953h0M690 1984h0M680 1964h0M657 1929h0M676 1957h0M694 1985h0M676 1942h0M689 1967h0M668 1939h0M698 1987h0M684 1958h0M684 1955h0M686 1966h0M653 1916h0M683 1960h0M657 1927h0M673 1931h0M697 1970h0M697 1988h0M683 1958h0M688 1946h0M692 1978h0M682 1937h0M674 1952h0M672 1948h0M686 1960h0M679 1956h0M675 1961h0M667 1938h0M682 1964h0M656 1932h0M685 1956h0M674 1947h0M700 1974h0M683 1980h0M663 1925h0M684 1962h0M683 1939h0M689 1976h0M679 1959h0M662 1929h0M679 1958h0M664 1939h0M668 1937h0M687 1941h0M677 1958h0M698 1989h0M688 1966h0M698 1967h0M669 1930h0M655 1916h0M687 1969h0M653 1918h0M676 1935h0M676 1940h0M692 1967h0M689 1961h0M685 1968h0M692 1992h0M684 1968h0M681 1950h0M686 1952h0M688 1977h0M669 1932h0M660 1926h0M690 1978h0M689 1971h0M672 1934h0M681 1934h0M685 1975h0M659 1917h0M679 1937h0M686 1980h0M687 1960h0M668 1945h0M695 1981h0M690 1966h0M670 1923h0M674 1948h0M652 1930h0M658 1923h0M683 1955h0M651 1932h0M660 1933h0M677 1949h0M699 1991h0M681 1973h0M685 1954h0M693 1960h0M700 1986h0M696 1970h0M687 1967h0M694 1970h0M674 1928h0M689 1946h0M682 1959h0M653 1928h0M663 1938h0M687 1969h0M699 1975h0M685 1958h0M689 1955h0M674 1939h0M675 1956h0M681 1950h0M665 1934h0M689 1965h0M684 1945h0M685 1967h0M696 1976h0M655 1928h0M683 1973h0M680 1931h0M692 1956h0M697 1982h0M660 1933h0M658 1923h0M686 1949h0M662 1940h0M668 1949h0M677 1964h0M667 1939h0M677 1941h0M692 1971h0M674 1939h0M674 1943h0M678 1967h0M685 1941h0M683 1955h0M702 1976h0M663 1933h0M666 1935h0M688 1952h0M695 1967h0M690 1984h0M697 1960h0M661 1936h0M688 1957h0M685 1976h0M653 1934h0M694 1974h0M651 1928h0M648 1925h0M653 1931h0M682 1972h0M677 1944h0M687 1965h0M676 1942h0M672 1940h0M690 1968h0M683 1937h0M669 1939h0M667 1939h0M685 1955h0M675 1932h0M673 1933h0M658 1921h0M696 1980h0M686 1978h0M679 1933h0M670 1943h0M682 1937h0M685 1957h0M685 1955h0M691 1980h0M684 1989h0M697 1985h0M678 1959h0M670 1943h0M683 1967h0M680 1980h0M671 1935h0M696 1979h0M687 1958h0M693 1957h0M678 1949h0" stroke="#9467BD" stroke-width="3.9" stroke-linecap="round" fill="none"/>
<path d="M630 2002h0M591 2060h0M620 2042h0M580 2062h0M605 2035h0M604 2035h0M618 2073h0M610 2023h0M604 2038h0M625 2064h0M655 2063h0M560 2023h0M566 2050h0M664 2051h0M590 2078h0M629 2019h0M579 2078h0M627 1999h0M581 2058h0M564 2042h0M583 2004h0M589 2026h0M616 2001h0M617 2031h0M564 2069h0M591 2054h0M655 2052h0M640 2048h0M586 2048h0M560 2054h0M637 2054h0M585 2010h0M581 2033h0M573 2080h0M578 2046h0M590 2046h0M556 2022h0M606 2041h0M621 2026h0M636 2048h0M606 2042h0M644 2041h0M656 2045h0M615 2042h0M618 2056h0M585 2065h0M665 2052h0M611 2018h0M581 2019h0M616 2022h0M656 2031h0M577 2017h0M604 2038h0M639 2022h0M619 2069h0M599 2000h0M615 2071h0M621 2042h0M563 2073h0M601 2009h0M595 2046h0M608 2016h0M660 2065h0M641 2060h0M594 2010h0M568 2069h0M609 2083h0M557 2066h0M624 2026h0M637 2023h0M597 2057h0M612 2050h0M614 2072h0M585 2000h0M587 1998h0M659 2028h0M605 2051h0M579 2027h0M616 2042h0M636 2035h0M586 2006h0M557 2048h0M618 2030h0M632 1998h0M628 2010h0M595 2035h0M580 2033h0M614 2090h0M607 2063h0M634 2016h0M624 2030h0M638 2025h0M642 2018h0M590 2066h0M641 2066h0M658 2064h0M606 2069h0M578 2065h0M621 2037h0M583 2071h0M553 2038h0M562 2033h0M591 2018h0M584 2050h0M652 2074h0M600 2029h0M628 2018h0M563 2065h0M594 2081h0M617 2004h0M617 2056h0M609 2005h0M571 2079h0M552 2027h0M630 2084h0M630 2041h0M620 2074h0M589 2076h0M615 2048h0M623 2051h0M580 2079h0M589 2034h0M560 2015h0M627 2039h0M603 2031h0M629 2023h0M570 2009h0M578 2051h0M652 2057h0M585 2008h0M636 2057h0M605 2060h0M628 2057h0M643 2008h0M583 2026h0M581 2084h0M620 2054h0M635 2035h0M637 2036h0M634 2058h0M643 2008h0M576 2021h0M577 2053h0M641 2032h0M642 2066h0M586 2061h0M652 2029h0M553 2053h0M617 2060h0M625 2040h0M606 2018h0M653 2072h0M602 2017h0M620 2083h0M609 2018h0M640 2049h0M578 2036h0M613 2011h0M617 2077h0M640 2074h0M634 2039h0M628 2076h0M609 2058h0M585 2042h0M591 2012h0M618 2089h0M558 2031h0M614 2020h0M613 2067h0M558 2040h0M628 2059h0M660 2047h0M648 2027h0M576 2027h0M592 2068h0M635 2043h0M576 2047h0M592 2031h0M565 2074h0M619 2091h0M666 2044h0M663 2034h0M666 2042h0M555 2042h0M630 2083h0M634 2083h0M613 2003h0M613 2017h0M628 1999h0M577 2012h0M611 2073h0M598 2007h0M589 2038h0M647 2046h0M634 1999h0M645 2081h0M597 2091h0M563 2065h0M566 2026h0M626 2049h0M618 2037h0M565 2011h0M580 2015h0M594 2001h0M603 2057h0M592 2079h0M615 2070h0M576 2049h0M574 2005h0M557 2033h0M614 2089h0M619 2031h0M644 2046h0M608 2046h0M635 2081h0M562 2045h0M591 2043h0M665 2038h0M553 2059h0M591 2016h0M652 2076h0M644 2050h0M586 2080h0M599 2050h0M602 2047h0M559 2018h0M579 2001h0M569 2029h0M601 2040h0M593 2073h0M554 2031h0M599 2017h0M653 2039h0M645 2058h0M598 2071h0M567 2014h0M598 1996h0M592 2036h0M561 2019h0M579 2085h0M649 2059h0M615 2079h0M611 2078h0M630 2087h0M644 2027h0M628 2074h0M624 2088h0M618 2030h0M636 2073h0M607 2058h0M613 2050h0M621 2030h0M634 2054h0M659 2050h0M612 2008h0M664 2038h0M589 2034h0M608 2040h0M658 2031h0M599 2029h0M626 2002h0M643 2032h0M569 2076h0M566 2061h0M608 2022h0M560 2025h0M635 2040h0M588 2070h0M609 2044h0M581 2007h0M591 2051h0M593 2052h0M599 2035h0M606 2053h0M551 2042h0M600 2029h0M639 2073h0M646 2062h0M624 2046h0M634 2023h0M603 2051h0M603 2008h0M604 2030h0M585 2061h0M645 2045h0M568 2037h0M601 2012h0M585 2046h0M586 2055h0M566 2059h0M582 2046h0M608 2026h0M635 2003h0M615 2061h0M599 2040h0M568 2041h0M614 2024h0M608 2031h0M571 2039h0M580 2067h0M583 2078h0M607 2041h0M581 2054h0M578 2006h0M619 1997h0M646 2027h0M657 2048h0M649 2011h0M591 2049h0M587 2044h0M601 2061h0M640 2002h0M628 2010h0M649 2011h0M577 2056h0M601 2062h0M621 2019h0M562 2068h0M600 2038h0M596 2034h0M581 2043h0M616 2007h0M559 2055h0M638 2026h0M601 2026h0M622 2039h0M587 2019h0M624 2052h0M591 2053h0M550 2035h0M612 1997h0M586 2048h0M650 2052h0M568 2065h0M597 2066h0M571 2007h0M559 2056h0M648 2048h0M613 2038h0M614 2012h0M648 2063h0M642 2039h0M636 2068h0M662 2061h0M581 2019h0M639 2056h0M628 2043h0M578 2046h0M561 2049h0M663 2056h0M578 2018h0M664 2054h0M588 2058h0M596 2012h0M613 2056h0M645 2012h0M655 2035h0M557 2062h0M643 2057h0M636 2017h0M623 2002h0M592 2089h0M658 2051h0M626 2044h0M631 2047h0M574 2031h0M557 2023h0M601 2052h0M655 2014h0M663 2033h0M592 2039h0M660 2021h0M594 2058h0M642 2053h0M612 2070h0M579 2079h0M589 2053h0M575 2024h0M643 2058h0M601 2065h0M655 2013h0M553 2046h0M560 2064h0M577 2041h0M586 2086h0M646 2008h0M632 2032h0M655 2050h0M580 2029h0M609 2084h0M611 2026h0M593 2066h0M598 2085h0M640 2046h0M612 2032h0M555 2063h0M656 2037h0M617 2006h0M601 2047h0M605 2043h0M642 2061h0M636 2025h0M589 2042h0M566 2012h0M620 2042h0M611 2075h0M552 2050h0M600 2007h0M630 2078h0M560 2043h0M643 2043h0M592 2070h0M556 2041h0M584 2039h0M565 2047h0M650 2054h0M565 2028h0M584 2005h0M635 2056h0M602 2081h0M634 2025h0M609 2038h0M607 2078h0M648 2018h0M653 2013h0M601 2090h0M631 2074h0M613 2057h0M587 2079h0M600 2026h0M574 2082h0M564 2018h0M626 2043h0M659 2057h0M620 2019h0M625 2005h0M583 2078h0M618 2010h0M584 2038h0M620 2048h0M624 1996h0M628 2001h0M591 2046h0M644 2025h0M566 2021h0M614 2090h0M566 2028h0M584 2073h0M629 2037h0M618 2083h0M598 2011h0M609 2008h0M616 2068h0M595 2069h0M640 2081h0M595 2060h0M637 2065h0M642 2056h0M633 2068h0M626 2060h0M619 2041h0M555 2041h0M610 2026h0M593 2077h0M601 1996h0M589 2039h0M650 2051h0M628 2026h0M591 2003h0M632 2043h0M582 2044h0M645 2067h0M635 2073h0M617 2043h0M608 2057h0M557 2049h0M610 2017h0M589 2074h0M594 2040h0M652 2020h0M607 2030h0M589 2037h0M629 2035h0M641 2063h0M570 2044h0M602 2007h0M560 2065h0M619 2076h0M655 2061h0M621 2077h0M604 2031h0M642 2061h0M589 2030h0M577 2083h0M594 2028h0M586 2027h0M612 2044h0M626 1997h0M612 2084h0M610 2025h0M662 2032h0M634 2050h0M603 2014h0M614 2048h0M653 2013h0M560 2056h0M580 2000h0M597 2074h0M563 2013h0M653 2021h0M576 2038h0M658 2038h0M637 2038h0M570 2050h0M559 2065h0M558 2046h0M552 2040h0M623 2021h0M662 2042h0M622 2005h0M589 2049h0M635 2059h0M570 2010h0M573 2071h0M562 2017h0M612 2041h0M606 2018h0M620 2039h0M601 2049h0M600 2037h0M646 2061h0M610 2046h0M647 2012h0M554 2043h0M561 2019h0M616 2048h0M595 2020h0M563 2025h0M578 2041h0M641 2034h0M569 2054h0M649 2051h0M591 2031h0M597 2013h0M641 2033h0M657 2067h0M597 2090h0M591 2019h0M556 2042h0M622 2031h0M604 2056h0M579 2041h0M599 2081h0M632 2039h0M571 2038h0M579 2032h0M620 2066h0M643 2026h0M614 2041h0M629 2087h0M642 2066h0M617 2057h0M554 2050h0M603 2041h0M622 2091h0M617 2009h0M594 2066h0M634 2048h0M627 2020h0M643 2004h0M595 2020h0M591 2049h0M612 2070h0M661 2054h0M575 2043h0M581 2020h0M593 2069h0M579 2052h0M582 2067h0M641 2009h0M634 2018h0M620 2040h0M635 2010h0M661 2050h0M587 2076h0M652 2056h0M590 2019h0M582 2080h0M610 2042h0M596 2076h0M595 2067h0M558 2025h0M620 2015h0M649 2008h0M622 2058h0M624 2041h0M606 2092h0M618 2024h0M559 2070h0M607 2086h0M607 2074h0M652 2028h0M556 2064h0M654 2014h0M590 2040h0M598 2060h0M604 2060h0M584 2005h0M660 2049h0M622 2011h0M625 2041h0M626 2046h0M639 2076h0M595 2032h0M631 2007h0M582 2032h0M564 2075h0M598 2037h0M568 2057h0M593 2010h0M619 2082h0M561 2042h0M664 2039h0M587 2081h0M616 2070h0M656 2058h0M617 2087h0M565 2017h0M600 2025h0M603 1999h0M560 2060h0M601 2055h0M594 2042h0M570 2078h0M640 2010h0M592 2053h0M593 2041h0M614 2000h0M635 2057h0M574 2038h0M605 2035h0M609 2004h0M610 2055h0M622 2056h0M587 2047h0M642 2045h0M616 2045h0M626 2009h0M606 2068h0M576 2059h0M591 2030h0M572 2019h0M642 2009h0M613 2006h0M661 2058h0M582 2013h0M598 2053h0M651 2073h0M573 2050h0M640 2023h0M591 2069h0M563 2044h0M605 2035h0M609 2002h0M637 2030h0M650 2077h0M595 2087h0M651 2023h0M599 2076h0M582 2033h0M557 2020h0M569 2024h0M582 2050h0M617 2032h0M563 2049h0M630 2041h0M652 2031h0M638 2051h0M643 2078h0M577 2004h0M644 2052h0M621 2030h0M584 2075h0M625 2027h0M610 2051h0M566 2026h0M626 2047h0M563 2051h0M661 2056h0M565 2031h0M586 2021h0M579 2026h0M605 2009h0M641 2052h0M659 2061h0M641 2058h0M604 2013h0M632 2046h0M584 2055h0M620 2024h0M654 2031h0M612 2073h0M589 2034h0M625 2033h0M591 2012h0M616 2032h0M636 2070h0M607 2066h0M587 2082h0M588 2039h0M595 2029h0M637 2043h0M578 2065h0M609 2060h0M616 2030h0M556 2036h0M580 2074h0M601 2081h0M660 2064h0M662 2026h0M591 2014h0M569 2013h0M639 2021h0M596 2060h0M595 2082h0M647 2062h0M657 2056h0M615 2074h0M640 2010h0M643 2069h0M564 2075h0M613 2080h0M568 2049h0M584 2020h0M617 2006h0M607 2064h0M583 2014h0M628 2069h0M640 2028h0M595 2079h0M639 2053h0M616 2039h0M630 2064h0M610 2051h0M563 2040h0M657 2049h0M564 2032h0M611 2081h0M664 2043h0M603 2047h0M575 2075h0M569 2063h0M592 2015h0M618 2084h0M567 2050h0M585 2073h0M567 2015h0M595 2009h0M637 2008h0M610 2029h0M642 2029h0M602 2085h0M629 2076h0M653 2056h0M618 2002h0M557 2034h0M618 2075h0M581 2034h0M659 2022h0M602 2041h0M587 2080h0M559 2036h0M559 2027h0M644 2006h0M558 2044h0M621 2022h0M624 2038h0M594 2046h0M645 2015h0M639 2052h0M600 2022h0M620 2067h0M576 2064h0M609 2068h0M618 2038h0M616 2063h0M562 2044h0M551 2047h0M591 2044h0M641 2068h0M651 2066h0M600 2021h0M664 2031h0M595 2056h0M579 2048h0M616 2028h0M572 2045h0M623 2016h0M613 2046h0M577 2056h0M566 2066h0M584 2071h0M611 2045h0M566 2063h0M582 2086h0M624 2050h0M609 2064h0M625 2055h0M639 2039h0M650 2012h0M560 2057h0M607 2004h0M569 2025h0M649 2060h0M564 2015h0M613 2010h0M586 2027h0M610 2061h0M583 2029h0M616 2084h0M623 2033h0M641 2040h0M565 2060h0M653 2019h0M633 2012h0M605 2041h0M596 2040h0M632 2029h0M600 2035h0M618 2025h0M636 2052h0M589 2010h0M599 2072h0M631 2044h0M654 2072h0M625 2079h0M599 2033h0M615 2000h0M609 2029h0M651 2058h0M656 2032h0M655 2047h0M627 2055h0M569 2066h0M592 2062h0M606 2015h0M597 2052h0M599 2085h0M649 2046h0M597 2081h0M610 2076h0M575 2004h0M634 2069h0M603 2039h0M625 2059h0M606 2044h0M616 2074h0M624 1997h0M621 2035h0M644 2063h0M589 2041h0M551 2041h0M570 2047h0M585 2076h0M651 2034h0M581 2076h0M564 2034h0M595 2051h0M610 2017h0M639 2054h0M618 2083h0M661 2049h0M594 2035h0M604 2013h0M583 2029h0M627 2065h0M558 2017h0M587 2014h0M607 2001h0M600 2049h0M668 1982h0M642 1984h0M661 1987h0M651 1982h0M664 1992h0M659 1995h0M637 1994h0M664 1988h0" stroke="#F5821F" stroke-width="3.9" stroke-linecap="round" fill="none"/>
<path d="M738 2025h0M773 2011h0M731 2028h0M765 2008h0M749 2023h0M727 2026h0M721 2032h0M726 2029h0M718 2029h0M734 2023h0M704 2030h0M732 2031h0M763 2010h0M725 2031h0M717 2028h0M735 2022h0M724 2024h0M756 2016h0M714 2031h0M751 2017h0M764 2010h0M718 2024h0M752 2023h0M727 2029h0M729 2025h0M712 2034h0M769 2013h0M767 2012h0M762 2007h0M754 2022h0M743 2026h0M710 2031h0M765 2013h0M748 2017h0M726 2029h0M761 2009h0M744 2023h0M741 2022h0M731 2024h0M765 2007h0M722 2026h0M715 2030h0M741 2023h0M721 2026h0M747 2018h0M726 2031h0M714 2030h0M763 2008h0M767 2012h0M750 2021h0M750 2020h0M716 2030h0M714 2031h0M741 2021h0M768 2008h0M715 2030h0M714 2028h0M763 2008h0M759 2013h0M751 2020h0M715 2026h0M721 2027h0M719 2032h0M752 2020h0M757 2010h0M747 2021h0M739 2021h0M729 2022h0M753 2020h0M738 2025h0M728 2027h0M728 2028h0M715 2029h0M715 2030h0M715 2032h0M743 2017h0M733 2026h0M734 2027h0M756 2015h0M738 2021h0M757 2020h0M762 2012h0M754 2013h0M761 2015h0M771 2007h0M715 2033h0M768 2006h0M742 2021h0M741 2022h0M743 2024h0M741 2025h0M722 2028h0M732 2029h0M729 2023h0M748 2015h0M717 2030h0M748 2022h0M763 2013h0M727 2024h0M741 2022h0M720 2010h0M748 2006h0M749 2001h0M722 1993h0M745 1991h0M714 2060h0M717 2061h0M716 2058h0M716 2058h0M717 2060h0M712 2055h0M718 2061h0M717 2060h0M714 2056h0M714 2053h0M713 2055h0M717 2057h0M714 2054h0M714 2051h0M719 2065h0M607 1993h0M616 1993h0M604 1990h0M612 1991h0M616 1992h0M605 1990h0M611 1991h0M604 1991h0M616 1996h0M608 1993h0M619 1994h0M609 1993h0M620 1995h0M601 1990h0M606 1989h0M609 1990h0M622 1994h0M620 1992h0M612 1994h0M610 1992h0M620 1998h0M611 1994h0M602 1989h0M602 1992h0M619 1998h0M609 1994h0M610 1995h0M617 1992h0M526 1958h0M530 1960h0M519 1954h0M524 1958h0M526 1957h0M522 1955h0M541 2014h0M541 2013h0M544 2013h0M542 2013h0" stroke="#2CA02C" stroke-width="3.9" stroke-linecap="round" fill="none"/>
<path d="M467 2019h0M487 1992h0M491 2009h0M476 2023h0M500 2004h0M492 1991h0M465 2011h0M488 1992h0M491 2006h0M491 2006h0M474 2003h0M463 2006h0M484 2024h0M488 1994h0M468 2004h0M495 2009h0M465 2018h0M511 2014h0M481 2016h0M489 1992h0M485 1991h0M488 1988h0M491 2006h0M507 2018h0M480 2020h0M499 2004h0M464 2020h0M478 1995h0M495 2028h0M465 2021h0M477 2019h0M465 2020h0M487 1993h0M498 2011h0M476 2025h0M479 2020h0M485 2011h0M493 1999h0M513 2005h0M470 2001h0M486 2005h0M509 2009h0M467 2003h0M466 2000h0M473 2008h0M494 2019h0M477 2017h0M468 2005h0M478 2022h0M478 1989h0M490 2014h0M479 1992h0M487 1998h0M502 2015h0M493 2001h0M480 1999h0M490 2008h0M477 2003h0M485 1995h0M464 2020h0M467 2014h0M478 2001h0M465 1999h0M505 2008h0M472 1998h0M498 2016h0M465 2001h0M465 2018h0M465 2001h0M501 2004h0M484 2012h0M493 1995h0M493 2005h0M464 2015h0M494 2024h0M505 1996h0M493 2023h0M476 2019h0M511 2019h0M464 2003h0M485 2005h0M482 2016h0M481 2027h0M488 2007h0M488 2006h0M514 2012h0M506 2019h0M490 2006h0M495 1999h0M501 1994h0M467 2012h0M481 2012h0M470 2000h0M505 2016h0M488 2023h0M477 2003h0M486 2012h0M483 1991h0M506 2009h0M475 2017h0M473 1999h0M504 2016h0M501 2004h0M467 1996h0M508 2024h0M478 2022h0M483 2020h0M467 2015h0M481 2007h0M485 1996h0M502 2016h0M509 2002h0M500 2004h0M492 2013h0M495 2029h0M510 2014h0M489 2010h0M511 2005h0M498 2002h0M504 2024h0M489 1999h0M481 1994h0M514 2015h0M499 2024h0M481 2023h0M490 2003h0M485 2023h0M478 2025h0M503 1994h0M475 1998h0M481 2000h0M485 2002h0M509 2002h0M487 1995h0M473 2002h0M484 2005h0M471 2009h0M493 2006h0M506 1994h0M501 2007h0M485 2017h0M494 1992h0M491 2027h0M488 2028h0M512 2017h0M465 2019h0M479 2009h0M491 1992h0M497 2011h0M499 2020h0M468 2005h0M504 2003h0M466 2005h0M513 2004h0M472 2007h0M496 2015h0M494 2023h0M481 2006h0M462 2007h0M507 1996h0M497 1997h0M481 2010h0M505 2007h0M513 2011h0M487 1992h0M489 2014h0M478 2005h0M466 2005h0M471 2024h0M507 1995h0M506 2013h0M487 1998h0M487 2002h0M460 2010h0M483 2013h0M478 2007h0M462 2008h0M510 2006h0M482 1997h0M476 1997h0M475 2016h0M486 2010h0M486 1993h0M475 2025h0M486 1995h0M480 2008h0M512 2015h0M483 2027h0M468 2020h0M492 2006h0M498 2021h0M490 2011h0M482 2013h0M510 2001h0M509 2012h0M487 2004h0M500 2011h0M489 2003h0M501 2024h0M469 2013h0M513 2031h0M492 2037h0M485 2037h0M503 2008h0M498 2016h0M496 2021h0M520 2019h0M489 2014h0M505 2019h0M519 2030h0M492 2024h0M503 2045h0M514 2033h0M498 2028h0M516 2012h0M517 2020h0M488 2025h0M515 2015h0M489 2010h0M500 2028h0M503 2016h0M490 2009h0M514 2022h0M529 2038h0M499 2036h0M493 2026h0M496 2022h0M510 2006h0M519 2008h0M507 2039h0M501 2029h0M497 2026h0M513 2020h0M507 2036h0M502 2012h0M499 2042h0M484 2017h0M520 2038h0M506 2035h0M528 2019h0M509 2046h0M510 2034h0M504 2048h0M524 2015h0M501 2047h0M501 2020h0M521 2020h0M508 2025h0M518 2022h0M520 2015h0M522 2028h0M481 2032h0M504 2021h0M485 2040h0M504 2012h0M505 2048h0M517 2037h0M486 2030h0M519 2011h0M486 2017h0M506 2015h0M527 2040h0M505 2017h0M490 2023h0M503 2033h0M505 2016h0M521 2032h0M495 2045h0M508 2030h0M524 2023h0M502 2046h0M490 2028h0M486 2027h0M533 2027h0M487 2031h0M514 2010h0M528 2029h0M496 2039h0M508 2021h0M514 2034h0M526 2026h0M485 2019h0M531 2019h0M508 2049h0M523 2026h0M529 2027h0M508 2031h0M481 2026h0M523 2035h0M517 2013h0M530 2018h0M516 2032h0M505 2018h0M485 2027h0M520 2033h0M525 2011h0M500 2027h0M510 2030h0M496 2010h0M489 2036h0M520 2026h0M487 2023h0M508 2035h0M510 2012h0M520 2022h0M491 2040h0M511 2010h0M528 2025h0M492 2029h0M524 2021h0M506 2026h0M488 2023h0M515 2019h0M489 2016h0M510 2009h0M495 2027h0M511 2043h0M527 2027h0M511 2018h0M500 2019h0M528 2022h0M519 2022h0M528 2031h0M525 2013h0M515 2023h0M485 2040h0M484 2015h0M499 2032h0M498 2009h0M510 2008h0M532 2025h0M502 2015h0M500 2027h0M493 2033h0M492 2042h0M521 2032h0M497 2036h0M498 2011h0M524 2014h0M509 2006h0M525 2020h0M507 2036h0M492 2014h0M515 2048h0M504 2026h0M503 2044h0M503 2043h0M482 2019h0M510 2027h0M502 2046h0M495 2036h0M522 2009h0M517 2008h0M490 2023h0M501 2030h0M504 2027h0M490 2029h0M526 2028h0M492 2038h0M525 2012h0M492 2038h0M533 2022h0M504 2037h0M520 2045h0M494 2025h0M524 2011h0M502 2043h0M489 2041h0M530 2019h0M506 2031h0M512 2042h0M507 2011h0M517 2017h0M488 2025h0M516 2012h0M491 2030h0M523 2023h0M531 2031h0M529 2025h0M493 2040h0M513 2032h0M500 2035h0M484 2026h0M492 2019h0M515 2016h0M519 2044h0M499 2027h0M504 2022h0M512 2014h0M485 2018h0M491 2009h0M500 2034h0M509 2005h0M499 2021h0M495 2023h0M482 2032h0M508 2048h0M494 2013h0M514 2039h0M523 2016h0M526 2016h0M519 2021h0M505 2034h0M522 2039h0M498 2032h0M503 2037h0M492 2038h0M525 2023h0M529 2024h0M489 2021h0M518 2039h0M506 2027h0M502 2030h0M488 2028h0M524 2042h0M492 2030h0M501 2022h0M488 2033h0M512 2032h0M521 2043h0M476 1970h0M467 1974h0M468 1977h0M464 1978h0M493 1980h0M488 1975h0M437 1958h0M488 1971h0M476 1968h0M463 1972h0M452 1969h0M447 1973h0M482 1970h0M451 1975h0M462 1978h0M470 1975h0M447 1968h0M469 1970h0M499 1976h0M448 1975h0M454 1975h0M457 1974h0M457 1973h0M485 1973h0M479 1969h0M483 1977h0M486 1971h0M461 1972h0M441 1965h0M485 1976h0M441 1964h0M443 1965h0M493 1972h0M446 1970h0M476 1978h0M485 1969h0M454 1971h0M486 1971h0M444 1960h0M444 1970h0M493 1976h0M498 1975h0M479 1976h0M460 1977h0M486 1974h0M471 1977h0M493 1972h0M483 1978h0M498 1979h0M475 1974h0M561 1972h0M560 1966h0M546 1970h0M562 1969h0M545 1969h0M561 1972h0M560 1965h0M561 1966h0M554 1967h0M564 1964h0M554 1970h0M559 1970h0M558 1969h0M556 1973h0M550 1968h0M553 1973h0M557 1970h0M565 1967h0M553 1972h0M549 1965h0M553 1970h0M559 1965h0M561 1971h0M551 1972h0M557 1969h0M562 1966h0M552 1969h0M553 1968h0M554 1969h0M569 1965h0M561 1969h0M552 1967h0M556 1967h0M555 1974h0M692 1789h0M696 1800h0M695 1799h0M692 1790h0M692 1787h0M694 1794h0M693 1792h0M694 1797h0M696 1800h0M692 1793h0M695 1802h0M694 1800h0M693 1797h0M696 1793h0M695 1802h0M698 1801h0M653 1886h0M666 1886h0M656 1884h0M658 1886h0M658 1888h0M647 1880h0M661 1886h0M656 1881h0M662 1892h0M657 1888h0M651 1885h0M651 1883h0M648 1883h0M653 1884h0M648 1881h0M654 1888h0M656 1886h0M667 1892h0M667 1891h0M663 1887h0M658 1887h0M658 1888h0" stroke="#D62728" stroke-width="3.9" stroke-linecap="round" fill="none"/>
<path d="M32.2 2032V2108.4H100.8" stroke="#000" stroke-width="2.2" fill="none"/>
<path d="M422.2 2031.8V2108.2H490.9" stroke="#000" stroke-width="2.2" fill="none"/>
<text x="32.7" y="2133.7" font-size="21" fill="#111">tSNE 1</text>
<text x="423.1" y="2133.8" font-size="20.9" fill="#111">tSNE 1</text>
<text transform="translate(21.2 2101.8) rotate(-90)" font-size="21.1" fill="#111">tSNE 2</text>
<text transform="translate(411 2104) rotate(-90)" font-size="21.8" fill="#111">tSNE 2</text>
<circle cx="760.7" cy="1802.2" r="6.4" fill="#1F77B4"/>
<text transform="translate(773.5 1809.7) scale(1.067 1)" font-size="22.8" fill="#111">Oligo.</text>
<circle cx="760.7" cy="1828.2" r="6.4" fill="#F5821F"/>
<text transform="translate(772.7 1835.7) scale(1.056 1)" font-size="22.8" fill="#111">Exc. neuron 1</text>
<circle cx="760.7" cy="1854.3" r="6.4" fill="#2CA02C"/>
<text transform="translate(772.6 1861.8) scale(1.070 1)" font-size="22.8" fill="#111">Exc. neuron 2</text>
<circle cx="760.7" cy="1880.4" r="6.4" fill="#D62728"/>
<text transform="translate(774.2 1887.9) scale(1.061 1)" font-size="22.8" fill="#111">Astrocyte</text>
<circle cx="760.7" cy="1906.2" r="6.4" fill="#9467BD"/>
<text transform="translate(773 1913.7) scale(1.068 1)" font-size="22.8" fill="#111">Inh. neuron</text>
<circle cx="760.7" cy="1932.3" r="6.4" fill="#8C564B"/>
<text transform="translate(773.5 1939.8) scale(1.062 1)" font-size="22.8" fill="#111">OPC</text>
<circle cx="760.7" cy="1958.3" r="6.4" fill="#E377C2"/>
<text transform="translate(773.3 1965.8) scale(1.051 1)" font-size="22.8" fill="#111">Microglia</text>
</g>
<g id="pg">
<text x="906.8" y="1722.4" font-size="34.6" font-weight="bold">g</text>
<text x="967.7" y="1738.3" font-size="30.6" fill="#111">Cluster 1 pathways</text>
<rect x="944.4" y="1779.2" width="213.5" height="38.1" fill="#8C8FD0"/>
<rect x="944.4" y="1836.1" width="137.6" height="38.1" fill="#EA3323"/>
<rect x="944.4" y="1893" width="76.7" height="38.1" fill="#EA3323"/>
<rect x="944.4" y="1949.6" width="73.3" height="38.1" fill="#EA3323"/>
<path d="M980.8 1759.6V1996" stroke="#000" stroke-width="3.3" stroke-dasharray="6.3 4.5" fill="none"/>
<text x="996.5" y="1807.7" font-size="26.8" fill="#000">Mitochondrial dysfunction</text>
<text x="997.4" y="1864" font-size="26.7" fill="#000">Synaptic long-term depression</text>
<text x="997.4" y="1920.9" font-size="26.7" fill="#000">Serotonin receptor signaling</text>
<text x="997.3" y="1977.8" font-size="27" fill="#000">GABA receptor signaling</text>
<path d="M944.4 1759.6V1997.9H1224.7M944.4 1997.9V2007.2M1000.5 1997.9V2007.2M1056.5 1997.9V2007.2M1112.6 1997.9V2007.2M1168.6 1997.9V2007.2M1224.7 1997.9V2007.2" stroke="#000" stroke-width="2" fill="none"/>
<text transform="translate(946.9 2028.3) scale(0.93 1)" font-size="24.4" text-anchor="middle">0</text>
<text transform="translate(1003 2028.3) scale(0.93 1)" font-size="24.4" text-anchor="middle">2</text>
<text transform="translate(1059 2028.3) scale(0.93 1)" font-size="24.4" text-anchor="middle">4</text>
<text transform="translate(1115.1 2028.3) scale(0.93 1)" font-size="24.4" text-anchor="middle">6</text>
<text transform="translate(1171.1 2028.3) scale(0.93 1)" font-size="24.4" text-anchor="middle">8</text>
<text transform="translate(1227.2 2028.3) scale(0.93 1)" font-size="24.4" text-anchor="middle">10</text>
<text transform="translate(974.5 2066.2) scale(1.072 1)" font-size="30.5" fill="#111">–log<tspan font-size="17.7" dy="8.2">10</tspan><tspan dy="-8.2">(</tspan><tspan font-style="italic">p</tspan>-value)</text>
<text x="1379.3" y="1743" font-size="30.6" fill="#111">Cluster 6 pathways</text>
<rect x="1377.8" y="1783.1" width="209.8" height="29.7" fill="#8C8FD0"/>
<rect x="1377.8" y="1827.7" width="193.6" height="29.7" fill="#8C8FD0"/>
<rect x="1377.8" y="1872.7" width="158" height="29.7" fill="#FF0000"/>
<rect x="1377.8" y="1917.3" width="152.2" height="29.7" fill="#8C8FD0"/>
<rect x="1377.8" y="1961.8" width="102.7" height="29.7" fill="#8C8FD0"/>
<path d="M1453.5 1767.8V2002" stroke="#000" stroke-width="2.9" stroke-dasharray="5.6 3.4" fill="none"/>
<text transform="translate(1458.3 1806.2) scale(1.068 1)" font-size="26.5" fill="#000">Neurovascular Coupling Signaling Pathway</text>
<text transform="translate(1459.2 1853) scale(1.069 1)" font-size="26.5" fill="#000">G-Protein Coupled Receptor Signaling</text>
<text transform="translate(1458.3 1896.2) scale(1.073 1)" font-size="26.5" fill="#000">L1CAM interactions</text>
<text transform="translate(1459.2 1943.9) scale(1.076 1)" font-size="26.5" fill="#000">GABA Receptor Signaling</text>
<text transform="translate(1458 1987.2) scale(1.076 1)" font-size="26.5" fill="#000">Integrin Signaling</text>
<path d="M1377.8 1767.8V2006H1611M1369.7 1797.9H1377.8M1369.7 1842.5H1377.8M1369.7 1887.5H1377.8M1369.7 1932.1H1377.8M1369.7 1976.6H1377.8M1377.8 2006V2013.5M1436.1 2006V2013.5M1494.4 2006V2013.5M1552.7 2006V2013.5M1611 2006V2013.5" stroke="#000" stroke-width="2" fill="none"/>
<text transform="translate(1378.3 2036.4) scale(0.93 1)" font-size="24.4" text-anchor="middle">0</text>
<text transform="translate(1436.6 2036.4) scale(0.93 1)" font-size="24.4" text-anchor="middle">1</text>
<text transform="translate(1494.9 2036.4) scale(0.93 1)" font-size="24.4" text-anchor="middle">2</text>
<text transform="translate(1553.2 2036.4) scale(0.93 1)" font-size="24.4" text-anchor="middle">3</text>
<text transform="translate(1611.5 2036.4) scale(0.93 1)" font-size="24.4" text-anchor="middle">4</text>
<text transform="translate(1388.6 2071.7) scale(1.075 1)" font-size="30.5" fill="#111">–log<tspan font-size="17.7" dy="8.2">10</tspan><tspan dy="-8.2">(</tspan><tspan font-style="italic">p</tspan>-value)</text>
<rect x="1742" y="1987" width="18" height="17.4" fill="#E8392B"/>
<rect x="1742" y="2019.8" width="18" height="17.4" fill="#8C8FD0"/>
<text transform="translate(1772.9 2003.3) scale(1.111 1)" font-size="25" fill="#111">Positive <tspan font-style="italic">z</tspan>-score</text>
<text transform="translate(1772.9 2039.3) scale(1.110 1)" font-size="25" fill="#111">Negative <tspan font-style="italic">z</tspan>-score</text>
</g>
<g id="ph">
<text x="-1.6" y="2191.7" font-size="34.6" font-weight="bold">h</text>
<text x="33.2" y="2203.4" font-size="32.3" fill="#111" font-style="italic">EGFR</text>
<rect x="135.4" y="2489.2" width="65.5" height="108" fill="#E6E6E6" stroke="#000" stroke-width="1.7"/>
<rect x="230.4" y="2562.2" width="65.3" height="35" fill="#E6E6E6" stroke="#000" stroke-width="1.7"/>
<text x="91.8" y="2275.4" font-size="21.8" text-anchor="end">4</text>
<text x="91.8" y="2357.4" font-size="21.8" text-anchor="end">3</text>
<text x="91.8" y="2440.5" font-size="21.8" text-anchor="end">2</text>
<text x="91.8" y="2522.9" font-size="21.8" text-anchor="end">1</text>
<text x="91.8" y="2605.1" font-size="21.8" text-anchor="end">0</text>
<path d="M112.3 2267.5V2597.2M98.5 2597.2H320M167.9 2597.2V2610.2M262.5 2597.2V2610.2M98.5 2267.5H112.3M98.5 2349.5H112.3M98.5 2432.6H112.3M98.5 2515H112.3M98.5 2597.2H112.3" stroke="#000" stroke-width="2.2" fill="none"/>
<path d="M167.9 2447V2530.2M154.5 2447H181.3M154.5 2530.2H181.3" stroke="#000" stroke-width="1.9" fill="none"/>
<circle cx="167.9" cy="2289.3" r="4.9" fill="#000"/>
<circle cx="167.9" cy="2474.8" r="4.9" fill="#000"/>
<circle cx="167.9" cy="2525.7" r="4.9" fill="#000"/>
<circle cx="167.9" cy="2537" r="4.9" fill="#000"/>
<circle cx="167.9" cy="2548.4" r="4.9" fill="#000"/>
<circle cx="167.9" cy="2558.7" r="4.9" fill="#000"/>
<path d="M262.7 2549.4V2574.1M249.1 2549.4H276.3M249.1 2574.1H276.3" stroke="#000" stroke-width="1.9" fill="none"/>
<circle cx="262.7" cy="2521.6" r="4.9" fill="#F0141E"/>
<circle cx="256.1" cy="2544.2" r="4.9" fill="#F0141E"/>
<circle cx="269.3" cy="2549.4" r="4.9" fill="#F0141E"/>
<circle cx="262.7" cy="2561.8" r="4.9" fill="#F0141E"/>
<circle cx="256.1" cy="2597.2" r="4.9" fill="#F0141E"/>
<circle cx="269.3" cy="2597.2" r="4.9" fill="#F0141E"/>
<path d="M168.3 2265.4V2254.7H263.1V2265.4" stroke="#000" stroke-width="2.3" fill="none"/>
<text transform="translate(137.3 2241.2) scale(1.000 1)" font-size="31" fill="#111"><tspan font-style="italic">P</tspan> = 0.0465</text>
<text x="124.7" y="2643.2" font-size="27.1">Control</text>
<text x="230.2" y="2643.2" font-size="27.3">MDD</text>
<text transform="translate(43.3 2604.3) rotate(-90)" font-size="28.5" fill="#111">Releative expression (fold)</text>
</g>
<g id="pi">
<defs><filter id="bl" x="-5%" y="-5%" width="110%" height="110%" color-interpolation-filters="sRGB"><feTurbulence type="fractalNoise" baseFrequency="0.11" numOctaves="2" seed="4" result="t"/><feDisplacementMap in="SourceGraphic" in2="t" scale="7" xChannelSelector="R" yChannelSelector="G"/><feGaussianBlur stdDeviation="0.8"/></filter>
<radialGradient id="nuc"><stop offset="0" stop-color="#5a64ff"/><stop offset="0.7" stop-color="#2a30f0"/><stop offset="1" stop-color="#1818d8"/></radialGradient>
<clipPath id="c0"><rect x="440.3" y="2222.6" width="195.2" height="195.2"/></clipPath>
<clipPath id="c1"><rect x="644.1" y="2222.6" width="195.2" height="195.2"/></clipPath>
<clipPath id="c2"><rect x="846.6" y="2222.6" width="195.2" height="195.2"/></clipPath>
<clipPath id="c3"><rect x="440.3" y="2424.2" width="195.2" height="195.2"/></clipPath>
<clipPath id="c4"><rect x="643.4" y="2424.2" width="195.2" height="195.2"/></clipPath>
<clipPath id="c5"><rect x="846.6" y="2424.2" width="195.2" height="195.2"/></clipPath>
</defs>
<text x="352.5" y="2192.9" font-size="34.6" font-weight="bold">i</text>
<circle cx="450.6" cy="2200.6" r="6.1" fill="#1428F0"/>
<text x="460.9" y="2208.2" font-size="20.8" fill="#111">DAPI</text>
<circle cx="531.2" cy="2200.6" r="6.1" fill="#EA3323"/>
<text x="542.1" y="2208.2" font-size="20.7" fill="#111">GFAP</text>
<circle cx="612.3" cy="2200.6" r="6.1" fill="#2BB34A"/>
<text x="622" y="2208.2" font-size="20.7" fill="#111">EGFR</text>
<text x="336.4" y="2327.4" font-size="30.7">Control</text>
<text x="364" y="2526.4" font-size="31">MDD</text>
<rect x="440.3" y="2222.6" width="195.2" height="195.2" fill="#000"/>
<g clip-path="url(#c0)" style="isolation:isolate"><g filter="url(#bl)">
<path d="M440.5 2318.1L448.8 2320.5L452.2 2317.1L457.2 2312.2L461.9 2318.1L468.4 2320.6L473.8 2324.1L480.9 2325.1L488 2326.4L494.3 2324.7L499.9 2321.7L503.7 2323L509.4 2326.4L514.1 2332.4M440.5 2353.7L450 2352.5L455.3 2351.2L461.9 2350.2L466.2 2351.3L472.6 2353.7L473 2359.1L473.8 2364.4L470.2 2368L467.8 2372.7L461.9 2373.2L457.2 2373.9" stroke="#FF1A10" stroke-width="7.5" stroke-linecap="round" stroke-linejoin="round" fill="none" opacity="1.0"/>
<path d="M440.5 2338.3L447.2 2337.6L452.4 2337.1L459.5 2333L465.5 2331.2L471.3 2332.9L477.3 2333.5L480.9 2337.5L485.6 2339.5L490.7 2342.6L493.9 2347.8L498.2 2350.3L504.6 2352.5L510.3 2350.5L514.1 2349L521.2 2353.7" stroke="#FF1A10" stroke-width="6.8" stroke-linecap="round" stroke-linejoin="round" fill="none" opacity="1.0"/>
<path d="M440.5 2364.4L450 2363.2M472.6 2368L478.6 2368.1L485.6 2370.3L495.1 2371.5L502.2 2377.5L497.5 2379.8M485.6 2338.3L485.2 2344.4L483.3 2350.2L478.8 2351.3L473.8 2353.7M452.4 2321.7L450 2331.2L446.5 2338.3M509.4 2314.6L514.6 2310.2L518.9 2305.1L526 2300.3L526 2290.8L523.3 2284.8L521.2 2279L520 2271.8M524.8 2378.6L533.1 2376.3L537.2 2380.5L540.2 2385.8L542.9 2390.2L547.3 2394.1L551.7 2396.1L556.8 2400L560.8 2404.2L566.3 2408.3L571.5 2410.8L578.2 2414.2L587.7 2416.6M578.2 2414.2L581.6 2409.4L584.1 2404.7L590.1 2401.2" stroke="#FF1A10" stroke-width="5.5" stroke-linecap="round" stroke-linejoin="round" fill="none" opacity="1.0"/>
<path d="M524.8 2340.7L533 2339.7L539 2337.1L543.3 2335.6L549.8 2335.2L554.5 2333.5L561 2333.8L566.3 2334.7L571.1 2334.7" stroke="#FF1A10" stroke-width="17.1" stroke-linecap="round" stroke-linejoin="round" fill="none" opacity="1.0"/>
<path d="M548.5 2322.9L552.1 2326.4" stroke="#FF1A10" stroke-width="9.6" stroke-linecap="round" stroke-linejoin="round" fill="none" opacity="1.0"/>
<path d="M514.1 2332.4L519.6 2335.5L526 2338.3" stroke="#FF1A10" stroke-width="8.2" stroke-linecap="round" stroke-linejoin="round" fill="none" opacity="1.0"/>
<path d="M459.5 2311L463.1 2302.7L464.5 2297.5L464.3 2290.8M479.7 2267.1L484.4 2268.3M574.6 2338.3L579.9 2340.1L583.9 2343.1L590.1 2344.2L596.1 2340.6L601.9 2338.3L607.9 2335.3L613.8 2332.4L618.5 2326.4M562.8 2359.7L569.5 2359.1L574.6 2357.3L581.2 2360.4L586.5 2362L590.7 2365.7L596 2368L604.3 2372.7L611.8 2370.6L618.5 2370.3L624.6 2367.5L632.8 2366.8" stroke="#FF1A10" stroke-width="4.6" stroke-linecap="round" stroke-linejoin="round" fill="none" opacity="1.0"/>
<path d="M477.3 2318.1L478.5 2311.8L479.7 2305.1L481 2299.8L484.4 2295.6L484.8 2288.3L483.8 2281.3M541.4 2283.7L547.3 2280.2L552.1 2276.6L558.2 2272.4L562.8 2269.5L563.9 2263.5M609.6 2274.2L609.8 2274.3M574.6 2333.5L581.6 2328.9L586.5 2326.4L593 2324.2L598.4 2320.5L605.1 2318.7L610.2 2315.8L618.5 2318.1" stroke="#FF1A10" stroke-width="5.2" stroke-linecap="round" stroke-linejoin="round" fill="none" opacity="1.0"/>
<path d="M466.6 2261.2L466.8 2261.3" stroke="#FF1A10" stroke-width="3.7" stroke-linecap="round" stroke-linejoin="round" fill="none" opacity="1.0"/>
<path d="M442.9 2271.8L443 2272M493.9 2314.6L494.4 2308.7L496.3 2302.7L497.5 2296.8M618.5 2318.1L620.9 2309.8L622.2 2303.3L622.1 2296.8L624.5 2290.8M568.7 2385.8L571.3 2390.4L574.6 2395.3L578.3 2397.4L584.1 2400" stroke="#FF1A10" stroke-width="4.1" stroke-linecap="round" stroke-linejoin="round" fill="none" opacity="1.0"/>
<path d="M535.5 2312.2L539 2308.1L542.6 2302.7L546.8 2299.5L550.9 2296.8L556.8 2290.8" stroke="#FF1A10" stroke-width="6.6" stroke-linecap="round" stroke-linejoin="round" fill="none" opacity="1.0"/>
<path d="M556.8 2290.8L560.8 2286.6L563.7 2284.9L568.7 2281.3L571.7 2276.8L572.4 2271.1L574.6 2267.1L574.6 2262.2L574.6 2255.2" stroke="#FF1A10" stroke-width="2.6" stroke-linecap="round" stroke-linejoin="round" fill="none" opacity="1.0"/>
<path d="M580.6 2305.1L585.3 2296.8L585.9 2292.4L586.5 2286.1L587.9 2278.9L588.9 2271.8L589 2264.8L590.1 2257.6L594.8 2254" stroke="#FF1A10" stroke-width="4.4" stroke-linecap="round" stroke-linejoin="round" fill="none" opacity="1.0"/>
<path d="M607.9 2248.7L611.4 2246.9M623.3 2343L628 2340.7" stroke="#FF1A10" stroke-width="3.3" stroke-linecap="round" stroke-linejoin="round" fill="none" opacity="1.0"/>
<path d="M542.6 2347.8L545.2 2351.6L548.5 2356.1L555.6 2362L559.2 2368L562.8 2376.3L565.8 2381.3L568.7 2385.8L574.9 2388.6L580.6 2391.7L584.7 2389.9L590.1 2389.5L596 2388.1L598.4 2383.4" stroke="#FF1A10" stroke-width="6.4" stroke-linecap="round" stroke-linejoin="round" fill="none" opacity="1.0"/>
<g style="mix-blend-mode:screen">
<path d="M441.5 2316.6L449.8 2319L454.3 2315.4L458.2 2310.7L462.9 2316.6L469.5 2320.6L474.8 2322.6L482.4 2324.7L489 2324.9L493.9 2322.5L500.9 2320.2L506.6 2322.9L510.4 2324.9L515.1 2330.9M441.5 2352.2L451 2351L457.2 2349L462.9 2348.7L467.1 2351.3L473.6 2352.2L473.5 2356.9L474.8 2362.9L472.9 2367.9L468.8 2371.2L463 2372.8L458.2 2372.4" stroke="#90E000" stroke-width="4.9" stroke-linecap="round" stroke-linejoin="round" fill="none" opacity="0.8"/>
<path d="M441.5 2336.8L448.4 2335.4L453.4 2335.6L459.9 2332.1L466.5 2329.7L472.5 2331L478.3 2332L481.4 2334.4L486.6 2338L490.3 2343.1L494.9 2346.3L500.9 2347.9L505.6 2351L511 2348.5L515.1 2347.5L522.2 2352.2" stroke="#90E000" stroke-width="4.4" stroke-linecap="round" stroke-linejoin="round" fill="none" opacity="0.8"/>
<path d="M441.5 2362.9L451 2361.7M473.6 2366.5L480.2 2368L486.6 2368.8L496.1 2370L503.2 2376L498.5 2378.3M486.6 2336.8L484.8 2343.7L484.3 2348.7L479.9 2351.5L474.8 2352.2M453.4 2320.2L451 2329.7L447.5 2336.8M510.4 2313.1L514 2309L519.9 2303.6L527 2298.8L527 2289.3L524.3 2283.6L522.2 2277.5L521 2270.3" stroke="#90E000" stroke-width="3.6" stroke-linecap="round" stroke-linejoin="round" fill="none" opacity="0.8"/>
<path d="M525.8 2339.2L533.8 2336.9L540 2335.6L544.9 2333.7L549.5 2332.3L555.5 2332L560.6 2332.7L565.4 2333.2L572.1 2333.2" stroke="#90E000" stroke-width="11.1" stroke-linecap="round" stroke-linejoin="round" fill="none" opacity="0.8"/>
<path d="M549.5 2321.4L553.1 2324.9" stroke="#90E000" stroke-width="6.2" stroke-linecap="round" stroke-linejoin="round" fill="none" opacity="0.8"/>
<path d="M515.1 2330.9L520.7 2333.4L527 2336.8" stroke="#90E000" stroke-width="5.3" stroke-linecap="round" stroke-linejoin="round" fill="none" opacity="0.8"/>
<path d="M460.5 2309.5L464.1 2301.2L465.4 2295.2L465.3 2289.3M575.6 2336.8L580.4 2338.1L585 2340L591.1 2342.7L597.4 2340.9L602.9 2336.8L608.1 2332.8L614.8 2330.9L619.5 2324.9M563.8 2358.2L570.8 2357L575.6 2355.8L581.4 2357.6L587.5 2360.5L592.4 2364.2L597 2366.5L605.3 2371.2L612.3 2369.8L619.5 2368.8L625.7 2368L633.8 2365.3" stroke="#90E000" stroke-width="3" stroke-linecap="round" stroke-linejoin="round" fill="none" opacity="0.8"/>
<path d="M478.3 2316.6L479.1 2310.1L480.7 2303.6L483.5 2297.8L485.4 2294.1L486.2 2285.9L484.8 2279.8M542.4 2282.2L548.4 2279.4L553.1 2275.1L557.4 2272.5L563.8 2268L564.9 2262M575.6 2332L580.7 2328.1L587.5 2324.9L593.7 2322.9L599.4 2319L604.9 2317.6L611.2 2314.3L619.5 2316.6" stroke="#90E000" stroke-width="3.4" stroke-linecap="round" stroke-linejoin="round" fill="none" opacity="0.8"/>
<path d="M494.9 2313.1L496.7 2307.9L497.3 2301.2L498.5 2295.3M557.8 2289.3L561.1 2286.7L566.7 2284L569.7 2279.8L571.3 2274.8L573.7 2271L575.6 2265.6L574.8 2260.2L575.6 2253.7M619.5 2316.6L621.9 2308.3L622.6 2301.4L623.1 2295.3L625.5 2289.3" stroke="#90E000" stroke-width="2.6" stroke-linecap="round" stroke-linejoin="round" fill="none" opacity="0.8"/>
<path d="M536.5 2310.7L538.9 2304.9L543.6 2301.2L547 2299.2L551.9 2295.3L557.8 2289.3" stroke="#90E000" stroke-width="4.3" stroke-linecap="round" stroke-linejoin="round" fill="none" opacity="0.8"/>
</g>
<path d="M486.8 2328.8h0M512.5 2340.5h0M562.4 2235.4h0M442.9 2386.1h0M490.9 2268.3h0M634.6 2314.4h0M603.6 2315.6h0M565 2252h0M564.2 2392h0M542.4 2367.3h0M571.4 2235.1h0M588.3 2338h0M499.1 2228.7h0M609.3 2314.9h0M580.6 2394.1h0M579.7 2402.4h0M517.4 2378.9h0M527.1 2405.2h0M611.9 2241.6h0M466.8 2265h0M628.8 2307.7h0M562.6 2281.4h0M539.3 2297.9h0M508.8 2336.8h0M554.3 2399.1h0M573.4 2403.9h0M607.5 2416h0M571.3 2254.4h0M608.3 2410.9h0M616.9 2333.7h0M579.6 2263.8h0M602.6 2334.6h0M495.9 2235h0M607 2415.8h0M457.6 2378.9h0M520.4 2252h0M497.7 2372.7h0M610.7 2231.2h0M560.3 2231.4h0M580.5 2287.2h0" stroke="#30D030" stroke-width="1.6" stroke-linecap="round" fill="none" opacity="0.7"/>
<ellipse cx="529.7" cy="2321.2" rx="19.5" ry="16.6" fill="url(#nuc)"/>
<ellipse cx="532" cy="2353" rx="12.1" ry="12.1" fill="url(#nuc)"/>
<ellipse cx="557.4" cy="2218.7" rx="11.7" ry="5.9" fill="#2a30f0"/>
<ellipse cx="533" cy="2337.8" rx="6" ry="3.5" fill="#fff" opacity="0.85"/>
<ellipse cx="547.7" cy="2328" rx="5" ry="4" fill="#ff50ff" opacity="0.7"/>
</g></g>
<rect x="644.1" y="2222.6" width="195.2" height="195.2" fill="#000"/>
<g clip-path="url(#c1)" style="isolation:isolate"><g filter="url(#bl)">
<path d="M644.3 2318.1L652.6 2320.5L656 2317.1L661 2312.2L665.7 2318.1L672.2 2320.6L677.6 2324.1L684.7 2325.1L691.8 2326.4L698.1 2324.7L703.7 2321.7L707.5 2323L713.2 2326.4L717.9 2332.4M644.3 2353.7L653.8 2352.5L659.1 2351.2L665.7 2350.2L670 2351.3L676.4 2353.7L676.8 2359.1L677.6 2364.4L674 2368L671.6 2372.7L665.7 2373.2L661 2373.9" stroke="#FF1A10" stroke-width="8.2" stroke-linecap="round" stroke-linejoin="round" fill="none" opacity="1.0"/>
<path d="M644.3 2338.3L651 2337.6L656.2 2337.1L663.3 2333L669.3 2331.2L675.1 2332.9L681.1 2333.5L684.7 2337.5L689.4 2339.5L694.5 2342.6L697.7 2347.8L702 2350.3L708.4 2352.5L714.1 2350.5L717.9 2349L725 2353.7" stroke="#FF1A10" stroke-width="7.4" stroke-linecap="round" stroke-linejoin="round" fill="none" opacity="1.0"/>
<path d="M644.3 2364.4L653.8 2363.2M676.4 2368L682.4 2368.1L689.4 2370.3L698.9 2371.5L706 2377.5L701.3 2379.8M689.4 2338.3L689 2344.4L687.1 2350.2L682.6 2351.3L677.6 2353.7M656.2 2321.7L653.8 2331.2L650.3 2338.3M728.6 2378.6L736.9 2376.3L741 2380.5L744 2385.8L746.7 2390.2L751.1 2394.1L755.5 2396.1L760.6 2400L764.6 2404.2L770.1 2408.3L775.3 2410.8L782 2414.2L791.5 2416.6" stroke="#FF1A10" stroke-width="5.9" stroke-linecap="round" stroke-linejoin="round" fill="none" opacity="1.0"/>
<path d="M728.6 2340.7L736.8 2339.7L742.8 2337.1L747.1 2335.6L753.6 2335.2L758.3 2333.5L764.8 2333.8L770.1 2334.7L774.9 2334.7" stroke="#FF1A10" stroke-width="18.5" stroke-linecap="round" stroke-linejoin="round" fill="none" opacity="1.0"/>
<path d="M752.3 2322.9L755.9 2326.4" stroke="#FF1A10" stroke-width="10.4" stroke-linecap="round" stroke-linejoin="round" fill="none" opacity="1.0"/>
<path d="M717.9 2332.4L723.4 2335.5L729.8 2338.3" stroke="#FF1A10" stroke-width="8.9" stroke-linecap="round" stroke-linejoin="round" fill="none" opacity="1.0"/>
<path d="M663.3 2311L666.9 2302.7L668.3 2297.5L668.1 2290.8M683.5 2267.1L688.2 2268.3M778.4 2338.3L783.7 2340.1L787.7 2343.1L793.9 2344.2L799.9 2340.6L805.7 2338.3L811.7 2335.3L817.6 2332.4L822.3 2326.4M766.6 2359.7L773.3 2359.1L778.4 2357.3L785 2360.4L790.3 2362L794.5 2365.7L799.8 2368L808.1 2372.7L815.6 2370.6L822.3 2370.3L828.4 2367.5L836.6 2366.8" stroke="#FF1A10" stroke-width="5" stroke-linecap="round" stroke-linejoin="round" fill="none" opacity="1.0"/>
<path d="M681.1 2318.1L682.3 2311.8L683.5 2305.1L684.8 2299.8L688.2 2295.6L688.6 2288.3L687.6 2281.3M745.2 2283.7L751.1 2280.2L755.9 2276.6L762 2272.4L766.6 2269.5L767.7 2263.5M813.4 2274.2L813.6 2274.3M778.4 2333.5L785.4 2328.9L790.3 2326.4L796.8 2324.2L802.2 2320.5L808.9 2318.7L814 2315.8L822.3 2318.1" stroke="#FF1A10" stroke-width="5.6" stroke-linecap="round" stroke-linejoin="round" fill="none" opacity="1.0"/>
<path d="M670.4 2261.2L670.6 2261.3" stroke="#FF1A10" stroke-width="4" stroke-linecap="round" stroke-linejoin="round" fill="none" opacity="1.0"/>
<path d="M646.7 2271.8L646.8 2272M697.7 2314.6L698.2 2308.7L700.1 2302.7L701.3 2296.8M822.3 2318.1L824.7 2309.8L826 2303.3L825.9 2296.8L828.3 2290.8M772.5 2385.8L775.1 2390.4L778.4 2395.3L782.1 2397.4L787.9 2400" stroke="#FF1A10" stroke-width="4.4" stroke-linecap="round" stroke-linejoin="round" fill="none" opacity="1.0"/>
<path d="M713.2 2314.6L718.4 2310.2L722.7 2305.1L729.8 2300.3L729.8 2290.8L727.1 2284.8L725 2279L723.8 2271.8M782 2414.2L785.4 2409.4L787.9 2404.7L793.9 2401.2" stroke="#FF1A10" stroke-width="6" stroke-linecap="round" stroke-linejoin="round" fill="none" opacity="1.0"/>
<path d="M739.3 2312.2L742.8 2308.1L746.4 2302.7L750.6 2299.5L754.7 2296.8L760.6 2290.8" stroke="#FF1A10" stroke-width="7.2" stroke-linecap="round" stroke-linejoin="round" fill="none" opacity="1.0"/>
<path d="M760.6 2290.8L764.6 2286.6L767.5 2284.9L772.5 2281.3L775.5 2276.8L776.2 2271.1L778.4 2267.1L778.4 2262.2L778.4 2255.2" stroke="#FF1A10" stroke-width="2.8" stroke-linecap="round" stroke-linejoin="round" fill="none" opacity="1.0"/>
<path d="M784.4 2305.1L789.1 2296.8L789.7 2292.4L790.3 2286.1L791.7 2278.9L792.7 2271.8L792.8 2264.8L793.9 2257.6L798.6 2254" stroke="#FF1A10" stroke-width="4.8" stroke-linecap="round" stroke-linejoin="round" fill="none" opacity="1.0"/>
<path d="M811.7 2248.7L815.2 2246.9M827.1 2343L831.8 2340.7" stroke="#FF1A10" stroke-width="3.6" stroke-linecap="round" stroke-linejoin="round" fill="none" opacity="1.0"/>
<path d="M746.4 2347.8L749 2351.6L752.3 2356.1L759.4 2362L763 2368L766.6 2376.3L769.6 2381.3L772.5 2385.8L778.7 2388.6L784.4 2391.7L788.5 2389.9L793.9 2389.5L799.8 2388.1L802.2 2383.4" stroke="#FF1A10" stroke-width="7" stroke-linecap="round" stroke-linejoin="round" fill="none" opacity="1.0"/>
</g></g>
<rect x="846.6" y="2222.6" width="195.2" height="195.2" fill="#000"/>
<g clip-path="url(#c2)" style="isolation:isolate"><g filter="url(#bl)">
<path d="M846.8 2318.1L855.1 2320.5L858.5 2317.1L863.5 2312.2L868.2 2318.1L874.7 2320.6L880.1 2324.1L887.2 2325.1L894.3 2326.4L900.6 2324.7L906.2 2321.7L910 2323L915.7 2326.4L920.4 2332.4M846.8 2353.7L856.3 2352.5L861.6 2351.2L868.2 2350.2L872.5 2351.3L878.9 2353.7L879.3 2359.1L880.1 2364.4L876.5 2368L874.1 2372.7L868.2 2373.2L863.5 2373.9" stroke="#1CD01C" stroke-width="6.5" stroke-linecap="round" stroke-linejoin="round" fill="none" opacity="0.9"/>
<path d="M846.8 2338.3L853.5 2337.6L858.7 2337.1L865.8 2333L871.8 2331.2L877.6 2332.9L883.6 2333.5L887.2 2337.5L891.9 2339.5L897 2342.6L900.2 2347.8L904.5 2350.3L910.9 2352.5L916.6 2350.5L920.4 2349L927.5 2353.7" stroke="#1CD01C" stroke-width="5.9" stroke-linecap="round" stroke-linejoin="round" fill="none" opacity="0.9"/>
<path d="M846.8 2364.4L856.3 2363.2M878.9 2368L884.9 2368.1L891.9 2370.3L901.4 2371.5L908.5 2377.5L903.8 2379.8M891.9 2338.3L891.5 2344.4L889.6 2350.2L885.1 2351.3L880.1 2353.7M858.7 2321.7L856.3 2331.2L852.8 2338.3" stroke="#1CD01C" stroke-width="4.7" stroke-linecap="round" stroke-linejoin="round" fill="none" opacity="0.9"/>
<path d="M931.1 2340.7L939.3 2339.7L945.3 2337.1L949.6 2335.6L956.1 2335.2L960.8 2333.5L967.3 2333.8L972.6 2334.7L977.4 2334.7" stroke="#1CD01C" stroke-width="14.8" stroke-linecap="round" stroke-linejoin="round" fill="none" opacity="0.9"/>
<path d="M954.8 2322.9L958.4 2326.4" stroke="#1CD01C" stroke-width="8.3" stroke-linecap="round" stroke-linejoin="round" fill="none" opacity="0.9"/>
<path d="M920.4 2332.4L925.9 2335.5L932.3 2338.3" stroke="#1CD01C" stroke-width="7.1" stroke-linecap="round" stroke-linejoin="round" fill="none" opacity="0.9"/>
<path d="M865.8 2311L869.4 2302.7L870.8 2297.5L870.6 2290.8M980.9 2338.3L986.7 2341L992.1 2342.8L996.4 2344.2L1003 2341.3L1008.2 2338.3L1014.3 2335.2L1020.1 2332.4L1024.8 2326.4M969.1 2359.7L974 2359.3L980.9 2357.3L987 2359L992.8 2362L997.5 2365L1002.3 2368L1010.6 2372.7L1017.4 2371.2L1024.8 2370.3L1032 2368.8L1039.1 2366.8" stroke="#1CD01C" stroke-width="4" stroke-linecap="round" stroke-linejoin="round" fill="none" opacity="0.9"/>
<path d="M883.6 2318.1L884.8 2311.8L886 2305.1L887.3 2299.8L890.7 2295.6L891.1 2288.3L890.1 2281.3M947.7 2283.7L953.6 2280.2L958.4 2276.6L964.5 2272.4L969.1 2269.5L970.2 2263.5M980.9 2333.5L986.9 2331L992.8 2326.4L998.9 2323.4L1004.7 2320.5L1010.1 2318.2L1016.5 2315.8L1024.8 2318.1" stroke="#1CD01C" stroke-width="4.5" stroke-linecap="round" stroke-linejoin="round" fill="none" opacity="0.9"/>
<path d="M900.2 2314.6L900.7 2308.7L902.6 2302.7L903.8 2296.8M1024.8 2318.1L1027.2 2309.8L1028.8 2302.2L1028.4 2296.8L1030.8 2290.8" stroke="#1CD01C" stroke-width="3.5" stroke-linecap="round" stroke-linejoin="round" fill="none" opacity="0.9"/>
<path d="M915.7 2314.6L920.9 2310.2L925.2 2305.1L932.3 2300.3L932.3 2290.8L929.6 2284.8L927.5 2279L926.3 2271.8" stroke="#1CD01C" stroke-width="4.8" stroke-linecap="round" stroke-linejoin="round" fill="none" opacity="0.9"/>
<path d="M941.8 2312.2L945.3 2308.1L948.9 2302.7L953.1 2299.5L957.2 2296.8L963.1 2290.8" stroke="#1CD01C" stroke-width="5.8" stroke-linecap="round" stroke-linejoin="round" fill="none" opacity="0.9"/>
<path d="M963.1 2290.8L967.1 2286.6L970 2284.9L975 2281.3L978 2276.8L978.7 2271.1L980.9 2267.1L980.9 2262.2L980.9 2255.2" stroke="#1CD01C" stroke-width="2.6" stroke-linecap="round" stroke-linejoin="round" fill="none" opacity="0.9"/>
<path d="M846.8 2318.1L855.1 2320.5L858.7 2317.4L863.5 2312.2L868.2 2318.1L873.3 2321.5L880.1 2324.1L886.3 2324.7L894.3 2326.4L901.3 2323.4L906.2 2321.7L911.2 2324L915.7 2326.4L920.4 2332.4M846.8 2353.7L856.3 2352.5L861.3 2351.6L868.2 2350.2L873.3 2352.3L878.9 2353.7L879.1 2359.5L880.1 2364.4L877.1 2368.9L874.1 2372.7L869.7 2373.5L863.5 2373.9" stroke="#40FF40" stroke-width="3.9" stroke-linecap="round" stroke-linejoin="round" fill="none" opacity="0.9"/>
<path d="M846.8 2338.3L852.7 2337.7L858.7 2337.1L864.6 2334.9L871.8 2331.2L876.8 2331.8L883.6 2333.5L886.7 2336L891.9 2339.5L895.9 2344.5L900.2 2347.8L905.3 2349.3L910.9 2352.5L915.1 2351.8L920.4 2349L927.5 2353.7" stroke="#40FF40" stroke-width="3.6" stroke-linecap="round" stroke-linejoin="round" fill="none" opacity="0.9"/>
<path d="M931.1 2340.7L937.4 2337.9L945.3 2337.1L951.5 2335.9L954.9 2335.7L960.8 2333.5L966.5 2334.4L972.7 2333.9L977.4 2334.7" stroke="#40FF40" stroke-width="8.9" stroke-linecap="round" stroke-linejoin="round" fill="none" opacity="0.9"/>
<path d="M954.8 2322.9L958.4 2326.4" stroke="#40FF40" stroke-width="5" stroke-linecap="round" stroke-linejoin="round" fill="none" opacity="0.9"/>
<path d="M1018.6 2414h0M945.3 2417.5h0M907 2237.6h0M963.7 2228.7h0M885.1 2302.2h0M965.8 2253.1h0M854.9 2392h0M907.9 2409.7h0M1021.6 2296.3h0M936.5 2324.1h0M972.3 2338.9h0M955.8 2343.6h0M1030.2 2321.6h0M930.8 2363.2h0M893 2281.4h0M1037.5 2324.3h0M953.7 2224.8h0M927.6 2335.8h0M850.5 2342.8h0M970 2234.3h0M969.1 2313.6h0M979.2 2291.4h0M984.6 2366.7h0M850.9 2234.4h0M978.6 2410.6h0M895.6 2311.7h0M962.3 2285.1h0M917.6 2283.6h0M918.7 2338.9h0M905.2 2296.2h0M997.3 2227.9h0M957.7 2366.1h0M907.1 2266h0M1003.5 2269.2h0M883.2 2307.6h0M982.9 2242.5h0M909.4 2287.7h0M1009.3 2308.2h0M1013.6 2255.6h0M912.3 2349.5h0M1019.3 2310.7h0M890.5 2246.2h0M950 2259.8h0M1004.1 2386.3h0M882.4 2277h0M1004.2 2347.9h0M1004 2290h0M871.9 2279.6h0M1001.6 2275.5h0M914.2 2304h0" stroke="#20C020" stroke-width="1.6" stroke-linecap="round" fill="none" opacity="0.6"/>
</g></g>
<rect x="440.3" y="2424.2" width="195.2" height="195.2" fill="#03031c"/>
<g clip-path="url(#c3)" style="isolation:isolate"><g filter="url(#bl)">
<path d="M562 2424.4L559.4 2429.9L559 2433.4L556.7 2438.5L554.9 2443.3" stroke="#FF1A10" stroke-width="12.6" stroke-linecap="round" stroke-linejoin="round" fill="none" opacity="1.0"/>
<path d="M554.9 2443.3L554.5 2449.6L552.6 2453.6L553.5 2460.2L552.7 2464.9L551.4 2471.7" stroke="#FF1A10" stroke-width="9.5" stroke-linecap="round" stroke-linejoin="round" fill="none" opacity="1.0"/>
<path d="M551.4 2471.7L550.7 2478.1L549.6 2484.5L549.6 2489.4" stroke="#FF1A10" stroke-width="5.3" stroke-linecap="round" stroke-linejoin="round" fill="none" opacity="1.0"/>
<path d="M609.3 2437.4L609 2441.4L605.9 2447.6L606.7 2452.2L604.5 2457.5L600.8 2462.9L597.2 2467.9L595.1 2474.1L591 2478.8L586.6 2482.9L583.3 2488.2L579.1 2492.1L575.7 2495.1L572.6 2500.1L568.7 2504.3L563.2 2508.3L559.4 2511.8L554.9 2516.6M551.4 2497.7L557.3 2494.2" stroke="#FF1A10" stroke-width="7.9" stroke-linecap="round" stroke-linejoin="round" fill="none" opacity="1.0"/>
<path d="M595.1 2424.4L595.4 2430.3L592.7 2434.3L592.7 2439.8L595 2446.2L596.3 2451.6L597.5 2461.1M482.8 2493L485.2 2495.3" stroke="#FF1A10" stroke-width="3.2" stroke-linecap="round" stroke-linejoin="round" fill="none" opacity="1.0"/>
<path d="M609.3 2437.4L611.6 2429.2M557.3 2558L560.1 2564.3L564.4 2569.8L568.3 2574.6L571.5 2579.2L574.4 2585.6L578.5 2589.9L582.7 2593.4L585.6 2596.9" stroke="#FF1A10" stroke-width="3.9" stroke-linecap="round" stroke-linejoin="round" fill="none" opacity="1.0"/>
<path d="M441.5 2463.4L447.6 2465.2L452.4 2467.7L456.8 2469.3L461.5 2469.9L467.9 2470.9L472.2 2470.5L481.7 2470.5L485.8 2474.9L489.9 2478.8L493 2482.7L498.2 2487.7" stroke="#FF1A10" stroke-width="7.3" stroke-linecap="round" stroke-linejoin="round" fill="none" opacity="1.0"/>
<path d="M537.2 2506L544.9 2505.2L551.4 2504.8M559.6 2528.4L558.6 2533.8L559.5 2539.4L558.5 2544.2L558.5 2549.7" stroke="#FF1A10" stroke-width="17.2" stroke-linecap="round" stroke-linejoin="round" fill="none" opacity="1.0"/>
<path d="M519.5 2523.7L517.1 2529L514.7 2533.1L510.1 2537.6L505.3 2542.6L501.7 2546.3L498.2 2552L494.2 2558.4L492.3 2563.9L489.2 2569.4L484 2574.5L478.7 2576.9L473.8 2581.9L468.7 2584L464.1 2586L459.2 2587.3L453.3 2589.9L447.4 2592.6L441.5 2593.4" stroke="#FF1A10" stroke-width="10.6" stroke-linecap="round" stroke-linejoin="round" fill="none" opacity="1.0"/>
<path d="M441.5 2535.5L446.8 2534.8L451.2 2534.4L456.8 2533.7L463.8 2532.3L469.3 2533.7L474.6 2532.6L482.5 2534L488.7 2534.3L495.3 2535.8L500.6 2537.3M557.3 2516.6L554.5 2520.9L550.4 2526.3L548.6 2529.2L545.5 2534.3L541.9 2538.1L538.1 2541.7L534.9 2546.1L531.3 2549.7L527.7 2553.1L522.7 2556.2L519.2 2560.5L517 2564.5L512.4 2567.4L509 2571.7L503.8 2575.3L500.7 2577.1L495.2 2580.5L492.3 2585.1L488.4 2588.1L482.6 2592.5L478.7 2594.8L474.6 2599.3L470 2603.2L466.3 2606.4L463.7 2610.6L459.1 2614.4L455.7 2618.2" stroke="#FF1A10" stroke-width="4.6" stroke-linecap="round" stroke-linejoin="round" fill="none" opacity="1.0"/>
<path d="M519.5 2552L523.1 2549.8L528.7 2547.4L533.6 2546.1" stroke="#FF1A10" stroke-width="5.4" stroke-linecap="round" stroke-linejoin="round" fill="none" opacity="1.0"/>
<path d="M563.2 2552L567.1 2555.9L572.6 2558L576.8 2554.4L580.9 2552L588 2550.9L593.9 2555.6" stroke="#FF1A10" stroke-width="6.3" stroke-linecap="round" stroke-linejoin="round" fill="none" opacity="1.0"/>
<path d="M606.9 2558L613 2560.4L618.7 2561.5L623.2 2561L629 2563.2L635.3 2563.3" stroke="#FF1A10" stroke-width="4.3" stroke-linecap="round" stroke-linejoin="round" fill="none" opacity="1.0"/>
<path d="M517.1 2506L521.8 2511.9L524.8 2516.3L528.9 2520.1" stroke="#FF1A10" stroke-width="4.5" stroke-linecap="round" stroke-linejoin="round" fill="none" opacity="1.0"/>
<path d="M512.4 2433.9L517.1 2439.8M521.8 2436.3L526.6 2444.5M465.1 2438.6L464.5 2445.7M468.7 2457.5L478.1 2458.7M547.8 2579.2L549 2579.8" stroke="#FF1A10" stroke-width="2.6" stroke-linecap="round" stroke-linejoin="round" fill="none" opacity="1.0"/>
<ellipse cx="543.8" cy="2539.4" rx="19.5" ry="18.5" fill="#2a30f0" opacity="0.95"/>
<ellipse cx="559.4" cy="2541.3" rx="9.8" ry="16.6" fill="#F030F0" opacity="0.9"/>
<path d="M522.2 2504.1h0M620 2454.7h0M441.2 2608.3h0M612.1 2616.8h0M525.1 2609.7h0M621.3 2467.6h0M585.8 2587.5h0M569.7 2525.5h0M496.7 2490.8h0M484.7 2437.5h0M555.2 2480.2h0M598.4 2433h0M616.7 2559.6h0M620.6 2599.2h0M615.9 2536.8h0M442.9 2569.7h0M473.8 2482.7h0M569.7 2526.7h0M521.1 2607.5h0M559.8 2490.8h0M489.6 2592.4h0M533.4 2576.9h0M509 2462.7h0M544.7 2583.6h0M473.7 2578.7h0" stroke="#30D030" stroke-width="1.6" stroke-linecap="round" fill="none" opacity="0.8"/>
<path d="M620.2 2581.5h0M601 2425.7h0M563 2592.6h0M450 2477.2h0M492.7 2527.1h0M522.9 2516.5h0M591.9 2424.6h0M451 2449h0M464.6 2437.6h0M630.6 2591h0M457.1 2522.2h0M502 2485.6h0M508.9 2550.5h0M554.8 2494.6h0M477.6 2488.4h0M464.5 2532.6h0M580.1 2498.4h0M455.9 2459.1h0M513.2 2542.2h0M593.1 2498.4h0M596.7 2545.8h0M524.5 2496.9h0M537.1 2561.4h0M522.4 2559.7h0M530.3 2472h0M544.9 2559.9h0M454.3 2507.1h0M523.4 2595.9h0M623.1 2497.3h0M615.6 2578.6h0M491.5 2514.8h0M464.3 2582.9h0M569.6 2597.4h0M595 2554.5h0M583.5 2534.3h0M460.4 2538.9h0M441.3 2452.2h0M591.4 2432.8h0M458.2 2443.6h0M612.2 2459.2h0M444.9 2588.5h0M464 2588.9h0M571.8 2587.4h0M626.2 2537.2h0M596.2 2431.3h0M590.1 2524h0M579.9 2445h0M586.5 2606.6h0M452.2 2487.5h0M550.4 2585.8h0M487.6 2459.3h0M489.1 2544.4h0M587.4 2501.1h0M512 2501.6h0M508.7 2505.8h0M456.6 2521.9h0M630.2 2504.8h0M586.2 2455.6h0M575.2 2571.8h0M571.8 2525.1h0" stroke="#D01010" stroke-width="1.2" stroke-linecap="round" fill="none" opacity="0.6"/>
</g></g>
<rect x="643.4" y="2424.2" width="195.2" height="195.2" fill="#000"/>
<g clip-path="url(#c4)" style="isolation:isolate"><g filter="url(#bl)">
<path d="M765.1 2424.4L762.5 2429.9L762.1 2433.4L759.8 2438.5L758 2443.3" stroke="#FF1A10" stroke-width="12.6" stroke-linecap="round" stroke-linejoin="round" fill="none" opacity="1.0"/>
<path d="M758 2443.3L757.6 2449.6L755.7 2453.6L756.6 2460.2L755.8 2464.9L754.5 2471.7" stroke="#FF1A10" stroke-width="9.5" stroke-linecap="round" stroke-linejoin="round" fill="none" opacity="1.0"/>
<path d="M754.5 2471.7L753.8 2478.1L752.7 2484.5L752.7 2489.4" stroke="#FF1A10" stroke-width="5.3" stroke-linecap="round" stroke-linejoin="round" fill="none" opacity="1.0"/>
<path d="M812.4 2437.4L812.1 2441.4L809 2447.6L809.8 2452.2L807.6 2457.5L803.9 2462.9L800.3 2467.9L798.2 2474.1L794.1 2478.8L789.7 2482.9L786.4 2488.2L782.2 2492.1L778.8 2495.1L775.7 2500.1L771.8 2504.3L766.3 2508.3L762.5 2511.8L758 2516.6M754.5 2497.7L760.4 2494.2" stroke="#FF1A10" stroke-width="7.9" stroke-linecap="round" stroke-linejoin="round" fill="none" opacity="1.0"/>
<path d="M798.2 2424.4L798.5 2430.3L795.8 2434.3L795.8 2439.8L798.1 2446.2L799.4 2451.6L800.6 2461.1M685.9 2493L688.3 2495.3" stroke="#FF1A10" stroke-width="3.2" stroke-linecap="round" stroke-linejoin="round" fill="none" opacity="1.0"/>
<path d="M812.4 2437.4L814.7 2429.2M760.4 2558L763.2 2564.3L767.5 2569.8L771.4 2574.6L774.6 2579.2L777.5 2585.6L781.6 2589.9L785.8 2593.4L788.7 2596.9" stroke="#FF1A10" stroke-width="3.9" stroke-linecap="round" stroke-linejoin="round" fill="none" opacity="1.0"/>
<path d="M644.6 2463.4L650.7 2465.2L655.5 2467.7L659.9 2469.3L664.6 2469.9L671 2470.9L675.3 2470.5L684.8 2470.5L688.9 2474.9L693 2478.8L696.1 2482.7L701.3 2487.7" stroke="#FF1A10" stroke-width="7.3" stroke-linecap="round" stroke-linejoin="round" fill="none" opacity="1.0"/>
<path d="M740.3 2506L748 2505.2L754.5 2504.8M762.7 2528.4L761.7 2533.8L762.6 2539.4L761.6 2544.2L761.6 2549.7" stroke="#FF1A10" stroke-width="17.2" stroke-linecap="round" stroke-linejoin="round" fill="none" opacity="1.0"/>
<path d="M722.6 2523.7L720.2 2529L717.8 2533.1L713.2 2537.6L708.4 2542.6L704.8 2546.3L701.3 2552L697.3 2558.4L695.4 2563.9L692.3 2569.4L687.1 2574.5L681.8 2576.9L676.9 2581.9L671.8 2584L667.2 2586L662.3 2587.3L656.4 2589.9L650.5 2592.6L644.6 2593.4" stroke="#FF1A10" stroke-width="10.6" stroke-linecap="round" stroke-linejoin="round" fill="none" opacity="1.0"/>
<path d="M644.6 2535.5L649.9 2534.8L654.3 2534.4L659.9 2533.7L666.9 2532.3L672.4 2533.7L677.7 2532.6L685.6 2534L691.8 2534.3L698.4 2535.8L703.7 2537.3M760.4 2516.6L757.6 2520.9L753.5 2526.3L751.7 2529.2L748.6 2534.3L745 2538.1L741.2 2541.7L738 2546.1L734.4 2549.7L730.8 2553.1L725.8 2556.2L722.3 2560.5L720.1 2564.5L715.5 2567.4L712.1 2571.7L706.9 2575.3L703.8 2577.1L698.3 2580.5L695.4 2585.1L691.5 2588.1L685.7 2592.5L681.8 2594.8L677.7 2599.3L673.1 2603.2L669.4 2606.4L666.8 2610.6L662.2 2614.4L658.8 2618.2" stroke="#FF1A10" stroke-width="4.6" stroke-linecap="round" stroke-linejoin="round" fill="none" opacity="1.0"/>
<path d="M722.6 2552L726.2 2549.8L731.8 2547.4L736.7 2546.1" stroke="#FF1A10" stroke-width="5.4" stroke-linecap="round" stroke-linejoin="round" fill="none" opacity="1.0"/>
<path d="M766.3 2552L770.2 2555.9L775.7 2558L779.9 2554.4L784 2552L791.1 2550.9L797 2555.6" stroke="#FF1A10" stroke-width="6.3" stroke-linecap="round" stroke-linejoin="round" fill="none" opacity="1.0"/>
<path d="M810 2558L816.1 2560.4L821.8 2561.5L826.3 2561L832.1 2563.2L838.4 2563.3" stroke="#FF1A10" stroke-width="4.3" stroke-linecap="round" stroke-linejoin="round" fill="none" opacity="1.0"/>
<path d="M720.2 2506L724.9 2511.9L727.9 2516.3L732 2520.1" stroke="#FF1A10" stroke-width="4.5" stroke-linecap="round" stroke-linejoin="round" fill="none" opacity="1.0"/>
<path d="M715.5 2433.9L720.2 2439.8M724.9 2436.3L729.7 2444.5M668.2 2438.6L667.6 2445.7M671.8 2457.5L681.2 2458.7M750.9 2579.2L752.1 2579.8" stroke="#FF1A10" stroke-width="2.6" stroke-linecap="round" stroke-linejoin="round" fill="none" opacity="1.0"/>
<path d="M737.8 2549.7h0M818.6 2453.3h0M662.1 2570.2h0M822.3 2525.2h0M729.9 2564.5h0M679.7 2476.4h0M682.3 2538.5h0M704.9 2469.5h0M778.3 2610.3h0M701.2 2561.9h0M724.1 2590.8h0M757.5 2476.4h0M685.9 2428.7h0M737 2498.9h0M677 2494.6h0M706.3 2575.3h0M671.4 2617.7h0M737 2541.1h0M734.8 2587.1h0M803.8 2533h0M737.3 2564.9h0M810.6 2502.3h0M786.6 2611.6h0M734.6 2469h0M689.2 2564.3h0M775.2 2611.3h0M810.1 2471.5h0M680.4 2474.7h0M679.9 2561.8h0M811 2599.8h0M693.2 2593.1h0M704.6 2506.8h0M785.7 2441h0M661.5 2587h0M700.4 2493.8h0M756.7 2556.1h0M644.7 2489.6h0M728.6 2519h0M684.4 2538.4h0M829.9 2500.5h0M749.7 2447.5h0M697 2554.1h0M665.4 2597.4h0M820.8 2443.1h0M827.1 2497.2h0M794.2 2572h0M701.1 2556.1h0M771.1 2581.5h0M695.2 2571.4h0M831.1 2555.5h0M748.1 2446.3h0M739.8 2492.9h0M783.6 2556.7h0M754 2459.7h0M769.4 2547.3h0M678.4 2597.9h0M771.3 2448.2h0M825.3 2451.8h0M708.1 2564.8h0M760 2532.5h0" stroke="#D01010" stroke-width="1.2" stroke-linecap="round" fill="none" opacity="0.6"/>
</g></g>
<rect x="846.6" y="2424.2" width="195.2" height="195.2" fill="#000"/>
<g clip-path="url(#c5)" style="isolation:isolate"><g filter="url(#bl)">
<path d="M973 2513.5h0M907.6 2458.6h0M860 2563.9h0M993.9 2530.2h0M991 2494.3h0M898.5 2499h0M1016.9 2432.4h0M945.1 2472.5h0M996.7 2493.3h0M911.6 2502.9h0M952.3 2574.8h0M915.5 2589.5h0M868.5 2477h0M866.1 2446.2h0M998.7 2566.2h0M882.7 2461.1h0M927.9 2569.3h0M1005.8 2570.3h0M962.1 2452.8h0M924.4 2462h0M949.6 2535.1h0M886 2473h0M999.2 2430.1h0M1003.4 2598.2h0M1031.9 2499h0M954.5 2538h0M970.3 2614.9h0M980.6 2482.6h0M1014.5 2518.7h0M964 2566.1h0M847.1 2574.6h0M975.8 2520.2h0M948.8 2514.1h0M884.4 2527.6h0M853.8 2521.9h0" stroke="#20B020" stroke-width="1.4" stroke-linecap="round" fill="none" opacity="0.7"/>
</g></g>
<path d="M448 2412.2L497 2412.2" stroke="#fff" stroke-width="3" fill="none"/>
<text x="446.8" y="2404.1" font-size="20.3" fill="#fff">10μm</text>
<path d="M447.7 2612.4L517.8 2612.4" stroke="#fff" stroke-width="3" fill="none"/>
<text x="454.8" y="2604.4" font-size="20.5" fill="#fff">10μm</text>
<rect x="1201.3" y="2437.7" width="61" height="145.8" fill="#D3D3D3" stroke="#000" stroke-width="1.7"/>
<rect x="1294.4" y="2514.2" width="61.2" height="69.3" fill="#D3D3D3" stroke="#000" stroke-width="1.7"/>
<text x="1146.6" y="2264.6" font-size="23.5" text-anchor="end">2000</text>
<text x="1146.6" y="2346.9" font-size="23.5" text-anchor="end">1500</text>
<text x="1146.6" y="2428.6" font-size="23.5" text-anchor="end">1000</text>
<text x="1146.6" y="2510.3" font-size="23.5" text-anchor="end">500</text>
<text x="1150.6" y="2592.1" font-size="23.5" text-anchor="end">0</text>
<path d="M1169.6 2256V2583.5M1156.8 2583.5H1388.2M1231.5 2583.5V2596.4M1324.8 2583.5V2596.4M1156.8 2256H1169.6M1156.8 2338.3H1169.6M1156.8 2420H1169.6M1156.8 2501.7H1169.6M1156.8 2583.5H1169.6" stroke="#000" stroke-width="2.2" fill="none"/>
<path d="M1231.5 2413.3V2460.2M1216.1 2413.3H1246.9M1216.1 2460.2H1246.9" stroke="#000" stroke-width="1.9" fill="none"/>
<circle cx="1231.5" cy="2325.6" r="4.9" fill="#000"/>
<circle cx="1231.5" cy="2383.5" r="4.9" fill="#000"/>
<circle cx="1221.5" cy="2438.7" r="4.9" fill="#000"/>
<circle cx="1241.5" cy="2445.4" r="4.9" fill="#000"/>
<circle cx="1231.5" cy="2481" r="4.9" fill="#000"/>
<circle cx="1221.5" cy="2493.5" r="4.9" fill="#000"/>
<circle cx="1241.5" cy="2492" r="4.9" fill="#000"/>
<path d="M1324.8 2506V2521.3M1309.4 2506H1340.2M1309.4 2521.3H1340.2" stroke="#000" stroke-width="1.9" fill="none"/>
<circle cx="1324.8" cy="2473.3" r="4.9" fill="#F0141E"/>
<circle cx="1316.2" cy="2482.9" r="4.9" fill="#F0141E"/>
<circle cx="1333.5" cy="2492" r="4.9" fill="#F0141E"/>
<circle cx="1298.5" cy="2512.7" r="4.9" fill="#F0141E"/>
<circle cx="1316.2" cy="2519.4" r="4.9" fill="#F0141E"/>
<circle cx="1333.5" cy="2520" r="4.9" fill="#F0141E"/>
<circle cx="1298.5" cy="2528.7" r="4.9" fill="#F0141E"/>
<circle cx="1350.8" cy="2528.1" r="4.9" fill="#F0141E"/>
<circle cx="1333.5" cy="2535.8" r="4.9" fill="#F0141E"/>
<circle cx="1316.2" cy="2541.5" r="4.9" fill="#F0141E"/>
<path d="M1227.7 2295.4V2284.4H1322.5V2295.4" stroke="#000" stroke-width="2.3" fill="none"/>
<text transform="translate(1196 2271.3) scale(1.000 1)" font-size="30.9" fill="#111"><tspan font-style="italic">P</tspan> = 0.0028</text>
<text x="1187.4" y="2622.3" font-size="27.1">Control</text>
<text x="1291.8" y="2622.3" font-size="27.8">MDD</text>
<text transform="translate(1075.5 2618.9) rotate(-90)" font-size="28.4" fill="#111">EGFR intensity (a.u.) in GFAP+</text>
</g>
<g id="pj">
<text x="1416.4" y="2192.9" font-size="34.6" font-weight="bold">j</text>
<path d="M1556.4 2221.3 1556.5 2320.4 1556.6 2419.5 1556.7 2420.8 1556.9 2422 1557.2 2423.7 1557.4 2425.4 1557.2 2427 1556.9 2428.7 1556.7 2430.3 1556.6 2432 1556.5 2490.7 1556.6 2549.3 1556.3 2557.6 1557.4 2565.9 1562.8 2568.9 1568.6 2571.9 1571.7 2573 1572.8 2574 1571.7 2575.1 1568.6 2576.1 1562.8 2579.1 1557.4 2582.1 1556.3 2582.9 1556.4 2583.8 1556 2583.8 1556.1 2582.9 1555 2582.1 1549.6 2579.1 1543.8 2576.1 1540.7 2575.1 1539.6 2574 1540.7 2573 1543.8 2571.9 1549.6 2568.9 1555 2565.9 1556.1 2557.6 1555.8 2549.3 1555.9 2490.7 1555.8 2432 1555.7 2430.3 1555.5 2428.7 1555.2 2427 1555 2425.4 1555.2 2423.7 1555.5 2422 1555.7 2420.8 1555.8 2419.5 1555.9 2320.4 1556 2221.3Z" fill="#F0637F" stroke="#111" stroke-width="1.2" stroke-linejoin="round"/>
<path d="M1552.7 2574L1559.7 2574" stroke="#111" stroke-width="1.2" fill="none"/>
<path d="M1620.5 2230.9 1620.5 2252.1 1620.6 2273.4 1620.7 2294.6 1620.8 2315.9 1620.9 2330.4 1621.1 2344.9 1621.3 2359.4 1621.5 2373.9 1621.9 2380.2 1622.4 2386.4 1622.9 2392.6 1623.4 2398.8 1623.9 2405.5 1624.4 2412.1 1624.8 2418.7 1625.1 2425.4 1624.4 2425.4 1624.4 2447.8 1624.4 2470.2 1624.4 2492.5 1624.4 2514.9 1624.5 2517.5 1624.6 2520.1 1624.8 2522.7 1625.1 2525.3 1625.5 2529.1 1626.1 2533 1626.7 2536.8 1627.4 2540.6 1628.1 2543.2 1628.9 2545.8 1629.7 2548.4 1630.6 2551 1631.5 2553.7 1632.6 2556.4 1633.6 2559.1 1634.5 2561.8 1635.2 2565 1635.9 2568.2 1636.5 2571.4 1636.7 2574.6 1636.6 2577.1 1636.2 2579.6 1635.6 2582.1 1634.9 2584.6 1633.9 2587.4 1632.7 2590.2 1631.3 2593 1630.1 2595.8 1628.9 2598.4 1627.7 2601 1626.6 2603.6 1625.6 2606.2 1624.8 2608.2 1624.1 2610.3 1623.6 2612.4 1623.1 2614.5 1622.8 2615.6 1622.6 2616.7 1622.5 2617.9 1622.3 2619 1622 2619.4 1621.8 2619.8 1621.5 2620.3 1621.3 2620.7 1619.3 2620.7 1619.1 2620.3 1618.8 2619.8 1618.6 2619.4 1618.3 2619 1618.1 2617.9 1618 2616.7 1617.8 2615.6 1617.5 2614.5 1617 2612.4 1616.5 2610.3 1615.8 2608.2 1615 2606.2 1614 2603.6 1612.9 2601 1611.7 2598.4 1610.5 2595.8 1609.3 2593 1607.9 2590.2 1606.7 2587.4 1605.7 2584.6 1605 2582.1 1604.4 2579.6 1604 2577.1 1603.9 2574.6 1604.1 2571.4 1604.7 2568.2 1605.4 2565 1606.1 2561.8 1607 2559.1 1608 2556.4 1609.1 2553.7 1610 2551 1610.9 2548.4 1611.7 2545.8 1612.5 2543.2 1613.2 2540.6 1613.9 2536.8 1614.5 2533 1615.1 2529.1 1615.5 2525.3 1615.8 2522.7 1616 2520.1 1616.1 2517.5 1616.2 2514.9 1616.2 2492.5 1616.2 2470.2 1616.2 2447.8 1616.2 2425.4 1615.5 2425.4 1615.8 2418.7 1616.2 2412.1 1616.7 2405.5 1617.2 2398.8 1617.7 2392.6 1618.2 2386.4 1618.7 2380.2 1619.1 2373.9 1619.3 2359.4 1619.5 2344.9 1619.7 2330.4 1619.8 2315.9 1619.9 2294.6 1620 2273.4 1620.1 2252.1 1620.1 2230.9Z" fill="#F58B4C" stroke="#111" stroke-width="1.4" stroke-linejoin="round"/>
<rect x="1615.9" y="2425.4" width="8.8" height="149.3" fill="#fff" stroke="#111" stroke-width="1.3"/>
<path d="M1617.3 2531.5L1623.3 2531.5" stroke="#111" stroke-width="1" fill="none" stroke-dasharray="2 1.5"/>
<path d="M1684.6 2270.3 1684.6 2344.9 1684.8 2419.5 1685.4 2420.8 1686.1 2422 1686.9 2423.7 1687.3 2425.4 1686.9 2427 1686.1 2428.7 1685.4 2430.3 1684.8 2432 1684.6 2491.1 1684.8 2550.2 1684.5 2558.5 1685.6 2566.8 1690.7 2569.4 1696.2 2571.9 1699.1 2573 1700.2 2574 1699.1 2575.1 1696.2 2576.1 1690.7 2578.7 1685.6 2581.3 1684.5 2582.1 1684.6 2582.9 1684.2 2582.9 1684.3 2582.1 1683.2 2581.3 1678.1 2578.7 1672.6 2576.1 1669.7 2575.1 1668.6 2574 1669.7 2573 1672.6 2571.9 1678.1 2569.4 1683.2 2566.8 1684.3 2558.5 1684 2550.2 1684.2 2491.1 1684 2432 1683.4 2430.3 1682.7 2428.7 1681.9 2427 1681.5 2425.4 1681.9 2423.7 1682.7 2422 1683.4 2420.8 1684 2419.5 1684.2 2344.9 1684.2 2270.3Z" fill="#C9A227" stroke="#111" stroke-width="1.2" stroke-linejoin="round"/>
<path d="M1680.9 2574L1687.9 2574" stroke="#111" stroke-width="1.2" fill="none"/>
<path d="M1680.4 2550.6L1688.4 2550.6" stroke="#111" stroke-width="1" fill="none" stroke-dasharray="2.5 1.5"/>
<path d="M1748.7 2332.9 1748.7 2376.2 1748.9 2419.5 1749.6 2420.8 1750.5 2422 1751.3 2423.7 1751.8 2425.4 1751.3 2427 1750.5 2428.7 1749.6 2430.3 1748.9 2432 1748.7 2491.5 1748.9 2551 1748.6 2559.3 1749.7 2567.6 1754.8 2569.7 1760.3 2571.7 1763.2 2572.8 1764.3 2573.8 1763.2 2574.9 1760.3 2575.9 1754.8 2578 1749.7 2580 1748.6 2580.9 1748.7 2581.7 1748.3 2581.7 1748.4 2580.9 1747.3 2580 1742.2 2578 1736.7 2575.9 1733.8 2574.9 1732.7 2573.8 1733.8 2572.8 1736.7 2571.7 1742.2 2569.7 1747.3 2567.6 1748.4 2559.3 1748.1 2551 1748.3 2491.5 1748.1 2432 1747.4 2430.3 1746.5 2428.7 1745.7 2427 1745.2 2425.4 1745.7 2423.7 1746.5 2422 1747.4 2420.8 1748.1 2419.5 1748.3 2376.2 1748.3 2332.9Z" fill="#9BBB3C" stroke="#111" stroke-width="1.2" stroke-linejoin="round"/>
<path d="M1745 2573.8L1752 2573.8" stroke="#111" stroke-width="1.2" fill="none"/>
<path d="M1744.5 2544L1752.5 2544" stroke="#111" stroke-width="1" fill="none" stroke-dasharray="2.5 1.5"/>
<path d="M1812.7 2422.5 1812.8 2421 1812.9 2419.5 1813.3 2420.8 1813.7 2422 1814.3 2423.7 1814.6 2425.4 1814.3 2427 1813.7 2428.7 1813.3 2430.3 1812.9 2432 1812.8 2492.5 1812.9 2553.1 1812.6 2561.4 1813.7 2569.7 1818.8 2570.8 1824.3 2571.9 1827.2 2573 1828.3 2574 1827.2 2575.1 1824.3 2576.1 1818.8 2577.2 1813.7 2578.4 1812.6 2579.2 1812.7 2580 1812.3 2580 1812.4 2579.2 1811.3 2578.4 1806.2 2577.2 1800.7 2576.1 1797.8 2575.1 1796.7 2574 1797.8 2573 1800.7 2571.9 1806.2 2570.8 1811.3 2569.7 1812.4 2561.4 1812.1 2553.1 1812.2 2492.5 1812.1 2432 1811.7 2430.3 1811.3 2428.7 1810.7 2427 1810.4 2425.4 1810.7 2423.7 1811.3 2422 1811.7 2420.8 1812.1 2419.5 1812.2 2421 1812.3 2422.5Z" fill="#4DBF6E" stroke="#111" stroke-width="1.2" stroke-linejoin="round"/>
<path d="M1809 2574L1816 2574" stroke="#111" stroke-width="1.2" fill="none"/>
<path d="M1808.5 2558.1L1816.5 2558.1" stroke="#111" stroke-width="1" fill="none" stroke-dasharray="2.5 1.5"/>
<path d="M1876.6 2332.9 1876.6 2376.2 1876.8 2419.5 1877.3 2420.8 1877.9 2422 1878.5 2423.7 1878.9 2425.4 1878.5 2427 1877.9 2428.7 1877.3 2430.3 1876.8 2432 1876.6 2491.7 1876.8 2551.4 1876.5 2559.7 1877.6 2568 1882.7 2570.1 1888.2 2572.2 1891.1 2573.2 1892.2 2574.2 1891.1 2575.3 1888.2 2576.3 1882.7 2578.4 1877.6 2580.5 1876.5 2581.3 1876.6 2582.1 1876.2 2582.1 1876.3 2581.3 1875.2 2580.5 1870.1 2578.4 1864.6 2576.3 1861.7 2575.3 1860.6 2574.2 1861.7 2573.2 1864.6 2572.2 1870.1 2570.1 1875.2 2568 1876.3 2559.7 1876 2551.4 1876.2 2491.7 1876 2432 1875.5 2430.3 1874.9 2428.7 1874.3 2427 1873.9 2425.4 1874.3 2423.7 1874.9 2422 1875.5 2420.8 1876 2419.5 1876.2 2376.2 1876.2 2332.9Z" fill="#3BC4B5" stroke="#111" stroke-width="1.2" stroke-linejoin="round"/>
<path d="M1872.9 2574.2L1879.9 2574.2" stroke="#111" stroke-width="1.2" fill="none"/>
<path d="M1872.4 2556L1880.4 2556" stroke="#111" stroke-width="1" fill="none" stroke-dasharray="2.5 1.5"/>
<path d="M1940.5 2177.4 1940.5 2206.8 1940.6 2236.3 1940.7 2265.7 1940.8 2295.1 1941 2312.8 1941.2 2330.4 1941.4 2348 1941.8 2365.6 1942.2 2372.9 1942.8 2380.2 1943.5 2387.4 1944 2394.7 1944.6 2402.3 1945.1 2410 1945.6 2417.7 1945.9 2425.4 1944.9 2425.4 1944.8 2447.8 1944.8 2470.2 1944.8 2492.5 1944.9 2514.9 1945 2517.5 1945.1 2520.1 1945.3 2522.7 1945.7 2525.3 1946.2 2529.1 1946.8 2533 1947.5 2536.8 1948.2 2540.6 1948.9 2543.5 1949.7 2546.4 1950.6 2549.3 1951.5 2552.3 1952.5 2555.1 1953.5 2557.8 1954.6 2560.6 1955.4 2563.4 1956.2 2566.9 1956.9 2570.3 1957.5 2573.7 1957.7 2577.1 1957.6 2579.8 1957.2 2582.5 1956.6 2585.2 1955.9 2587.9 1954.8 2590.8 1953.5 2593.7 1952.2 2596.6 1950.9 2599.5 1949.6 2602.2 1948.3 2604.9 1947.1 2607.6 1946.1 2610.3 1945.2 2612.5 1944.5 2614.7 1943.9 2616.8 1943.4 2619 1943 2620.3 1942.8 2621.5 1942.6 2622.7 1942.4 2624 1942.1 2624.5 1941.8 2625 1941.5 2625.5 1941.3 2626.1 1939.3 2626.1 1939.1 2625.5 1938.8 2625 1938.5 2624.5 1938.2 2624 1938 2622.7 1937.8 2621.5 1937.6 2620.3 1937.2 2619 1936.7 2616.8 1936.1 2614.7 1935.4 2612.5 1934.5 2610.3 1933.5 2607.6 1932.3 2604.9 1931 2602.2 1929.7 2599.5 1928.4 2596.6 1927.1 2593.7 1925.8 2590.8 1924.7 2587.9 1924 2585.2 1923.4 2582.5 1923 2579.8 1922.9 2577.1 1923.1 2573.7 1923.7 2570.3 1924.4 2566.9 1925.2 2563.4 1926 2560.6 1927.1 2557.8 1928.1 2555.1 1929.1 2552.3 1930 2549.3 1930.9 2546.4 1931.7 2543.5 1932.4 2540.6 1933.1 2536.8 1933.8 2533 1934.4 2529.1 1934.9 2525.3 1935.3 2522.7 1935.5 2520.1 1935.6 2517.5 1935.7 2514.9 1935.8 2492.5 1935.8 2470.2 1935.8 2447.8 1935.7 2425.4 1934.7 2425.4 1935 2417.7 1935.5 2410 1936 2402.3 1936.6 2394.7 1937.1 2387.4 1937.8 2380.2 1938.4 2372.9 1938.8 2365.6 1939.2 2348 1939.4 2330.4 1939.6 2312.8 1939.8 2295.1 1939.9 2265.7 1940 2236.3 1940.1 2206.8 1940.1 2177.4Z" fill="#28B8F0" stroke="#111" stroke-width="1.4" stroke-linejoin="round"/>
<rect x="1935.9" y="2425.4" width="8.8" height="149.3" fill="#fff" stroke="#111" stroke-width="1.3"/>
<path d="M1937.3 2531.5L1943.3 2531.5" stroke="#111" stroke-width="1" fill="none" stroke-dasharray="2 1.5"/>
<path d="M2004.6 2332.9 2004.6 2376.2 2004.8 2419.5 2005.7 2420.8 2006.9 2422 2008 2423.7 2008.5 2425.4 2008 2427 2006.9 2428.7 2005.7 2430.3 2004.8 2432 2004.6 2491.7 2004.8 2551.4 2004.5 2559.7 2005.6 2568 2010.7 2570.1 2016.2 2572.2 2019.1 2573.2 2020.2 2574.2 2019.1 2575.3 2016.2 2576.3 2010.7 2578.4 2005.6 2580.5 2004.5 2581.3 2004.6 2582.1 2004.2 2582.1 2004.3 2581.3 2003.2 2580.5 1998.1 2578.4 1992.6 2576.3 1989.7 2575.3 1988.6 2574.2 1989.7 2573.2 1992.6 2572.2 1998.1 2570.1 2003.2 2568 2004.3 2559.7 2004 2551.4 2004.2 2491.7 2004 2432 2003.1 2430.3 2001.9 2428.7 2000.8 2427 2000.3 2425.4 2000.8 2423.7 2001.9 2422 2003.1 2420.8 2004 2419.5 2004.2 2376.2 2004.2 2332.9Z" fill="#1F8FD0" stroke="#111" stroke-width="1.2" stroke-linejoin="round"/>
<path d="M2000.9 2574.2L2007.9 2574.2" stroke="#111" stroke-width="1.2" fill="none"/>
<path d="M2000.4 2539.8L2008.4 2539.8" stroke="#111" stroke-width="1" fill="none" stroke-dasharray="2.5 1.5"/>
<path d="M2068.5 2332.9 2068.4 2376.2 2068.7 2419.5 2069.9 2420.8 2071.3 2422 2072.6 2423.7 2073.3 2425.4 2072.6 2427 2071.3 2428.7 2069.9 2430.3 2068.7 2432 2068.5 2491.7 2068.7 2551.4 2068.4 2559.7 2069.5 2568 2074.6 2570.1 2080.1 2572.2 2083 2573.2 2084.1 2574.2 2083 2575.3 2080.1 2576.3 2074.6 2578.4 2069.5 2580.5 2068.4 2581.3 2068.5 2582.1 2068.1 2582.1 2068.2 2581.3 2067.1 2580.5 2062 2578.4 2056.5 2576.3 2053.6 2575.3 2052.5 2574.2 2053.6 2573.2 2056.5 2572.2 2062 2570.1 2067.1 2568 2068.2 2559.7 2067.9 2551.4 2068.1 2491.7 2067.9 2432 2066.7 2430.3 2065.3 2428.7 2064 2427 2063.3 2425.4 2064 2423.7 2065.3 2422 2066.7 2420.8 2067.9 2419.5 2068.2 2376.2 2068.1 2332.9Z" fill="#A9A3E0" stroke="#111" stroke-width="1.2" stroke-linejoin="round"/>
<path d="M2064.8 2574.2L2071.8 2574.2" stroke="#111" stroke-width="1.2" fill="none"/>
<path d="M2064.3 2536.1L2072.3 2536.1" stroke="#111" stroke-width="1" fill="none" stroke-dasharray="2.5 1.5"/>
<rect x="1591" y="2213.6" width="58" height="420.6" fill="none" stroke="#DF3A2F" stroke-width="2.6"/>
<text x="1503.3" y="2211.6" font-size="26.2" text-anchor="end">2.5</text>
<text x="1503.3" y="2285.8" font-size="26.2" text-anchor="end">2.0</text>
<text x="1503.3" y="2360.4" font-size="26.2" text-anchor="end">1.5</text>
<text x="1503.3" y="2434.7" font-size="26.2" text-anchor="end">1.0</text>
<text x="1503.3" y="2509.3" font-size="26.2" text-anchor="end">0.5</text>
<text x="1503.3" y="2584" font-size="26.2" text-anchor="end">0.0</text>
<text x="1556.8" y="2675.4" font-size="26.2" text-anchor="middle">1</text>
<text x="1620.9" y="2675.4" font-size="26.2" text-anchor="middle">2</text>
<text x="1685" y="2675.4" font-size="26.2" text-anchor="middle">3</text>
<text x="1749.1" y="2675.4" font-size="26.2" text-anchor="middle">4</text>
<text x="1813.1" y="2675.4" font-size="26.2" text-anchor="middle">5</text>
<text x="1877" y="2675.4" font-size="26.2" text-anchor="middle">6</text>
<text x="1940.9" y="2675.4" font-size="26.2" text-anchor="middle">7</text>
<text x="2005" y="2675.4" font-size="26.2" text-anchor="middle">8</text>
<text x="2068.9" y="2675.4" font-size="26.2" text-anchor="middle">9</text>
<path d="M1523.3 2167.8V2636.4H2100M1512 2202.3H1523.3M1512 2276.5H1523.3M1512 2351.1H1523.3M1512 2425.4H1523.3M1512 2500H1523.3M1512 2574.7H1523.3M1556.2 2636.4V2649M1620.3 2636.4V2649M1684.4 2636.4V2649M1748.5 2636.4V2649M1812.5 2636.4V2649M1876.4 2636.4V2649M1940.3 2636.4V2649M2004.4 2636.4V2649M2068.3 2636.4V2649" stroke="#000" stroke-width="1.9" fill="none"/>
<text x="1642.6" y="2709.8" font-size="30.6" fill="#111">Excitatory neuron cluster</text>
<text transform="translate(1445.8 2535.7) rotate(-90)" font-size="32" font-style="italic" fill="#111" textLength="265.4" lengthAdjust="spacingAndGlyphs">NR2F2<tspan font-size="19.8" dy="-11.5">+</tspan><tspan dy="11.5"> SLITRK2</tspan><tspan font-size="19.8" dy="-11.5">+</tspan></text>
</g>
</svg></body></html>
